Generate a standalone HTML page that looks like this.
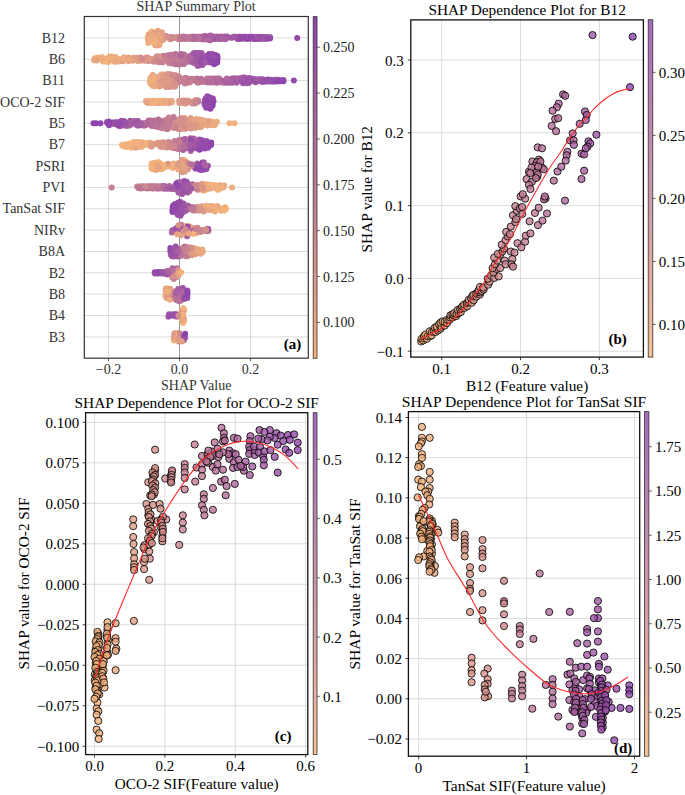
<!DOCTYPE html><html><head><meta charset="utf-8"><style>html,body{margin:0;padding:0;background:#fff;overflow:hidden}svg{display:block}text{font-family:"Liberation Serif",serif}</style></head><body>
<svg width="685" height="795" viewBox="0 0 685 795">
<rect width="685" height="795" fill="#fff"/>
<line x1="108.5" y1="16.5" x2="108.5" y2="358.2" stroke="#d2d2d2" stroke-width="0.8"/>
<line x1="179.5" y1="16.5" x2="179.5" y2="358.2" stroke="#d2d2d2" stroke-width="0.8"/>
<line x1="250.5" y1="16.5" x2="250.5" y2="358.2" stroke="#d2d2d2" stroke-width="0.8"/>
<line x1="84.3" y1="37.86" x2="308.3" y2="37.86" stroke="#d2d2d2" stroke-width="0.8"/>
<line x1="84.3" y1="59.22" x2="308.3" y2="59.22" stroke="#d2d2d2" stroke-width="0.8"/>
<line x1="84.3" y1="80.58" x2="308.3" y2="80.58" stroke="#d2d2d2" stroke-width="0.8"/>
<line x1="84.3" y1="101.94" x2="308.3" y2="101.94" stroke="#d2d2d2" stroke-width="0.8"/>
<line x1="84.3" y1="123.3" x2="308.3" y2="123.3" stroke="#d2d2d2" stroke-width="0.8"/>
<line x1="84.3" y1="144.66" x2="308.3" y2="144.66" stroke="#d2d2d2" stroke-width="0.8"/>
<line x1="84.3" y1="166.02" x2="308.3" y2="166.02" stroke="#d2d2d2" stroke-width="0.8"/>
<line x1="84.3" y1="187.38" x2="308.3" y2="187.38" stroke="#d2d2d2" stroke-width="0.8"/>
<line x1="84.3" y1="208.74" x2="308.3" y2="208.74" stroke="#d2d2d2" stroke-width="0.8"/>
<line x1="84.3" y1="230.1" x2="308.3" y2="230.1" stroke="#d2d2d2" stroke-width="0.8"/>
<line x1="84.3" y1="251.46" x2="308.3" y2="251.46" stroke="#d2d2d2" stroke-width="0.8"/>
<line x1="84.3" y1="272.82" x2="308.3" y2="272.82" stroke="#d2d2d2" stroke-width="0.8"/>
<line x1="84.3" y1="294.18" x2="308.3" y2="294.18" stroke="#d2d2d2" stroke-width="0.8"/>
<line x1="84.3" y1="315.54" x2="308.3" y2="315.54" stroke="#d2d2d2" stroke-width="0.8"/>
<line x1="84.3" y1="336.9" x2="308.3" y2="336.9" stroke="#d2d2d2" stroke-width="0.8"/>
<line x1="179.5" y1="16.5" x2="179.5" y2="358.2" stroke="#999" stroke-width="1.0"/>
<g id="beeswarm">
<circle cx="199.1" cy="36.7" r="3" fill="#b36d9b"/>
<circle cx="151.7" cy="31.6" r="3" fill="#f3b27b"/>
<circle cx="235.4" cy="37.5" r="3" fill="#9a51a7"/>
<circle cx="158.3" cy="40.1" r="3" fill="#e8a680"/>
<circle cx="216.7" cy="36.9" r="3" fill="#a35ba3"/>
<circle cx="238.7" cy="39.0" r="3" fill="#a159a3"/>
<circle cx="253.2" cy="36.8" r="3" fill="#9d54a6"/>
<circle cx="265.4" cy="38.7" r="3" fill="#9c53a6"/>
<circle cx="263.4" cy="36.9" r="3" fill="#9349ab"/>
<circle cx="150.2" cy="39.4" r="3" fill="#f3b27b"/>
<circle cx="254.0" cy="38.9" r="3" fill="#9b52a7"/>
<circle cx="232.3" cy="37.5" r="3" fill="#974ea9"/>
<circle cx="190.9" cy="38.9" r="3" fill="#b77099"/>
<circle cx="157.7" cy="30.7" r="3" fill="#e7a581"/>
<circle cx="234.2" cy="36.4" r="3" fill="#a760a0"/>
<circle cx="178.7" cy="36.9" r="3" fill="#c58092"/>
<circle cx="204.7" cy="37.6" r="3" fill="#b26b9b"/>
<circle cx="204.0" cy="39.5" r="3" fill="#b16a9c"/>
<circle cx="147.9" cy="36.7" r="3" fill="#eba97f"/>
<circle cx="231.1" cy="37.7" r="3" fill="#a057a4"/>
<circle cx="224.9" cy="36.6" r="3" fill="#aa629f"/>
<circle cx="156.9" cy="32.7" r="3" fill="#eba97f"/>
<circle cx="242.7" cy="38.8" r="3" fill="#9f57a5"/>
<circle cx="222.1" cy="36.8" r="3" fill="#a35ba2"/>
<circle cx="212.1" cy="37.7" r="3" fill="#a55da2"/>
<circle cx="220.5" cy="39.1" r="3" fill="#a45ca2"/>
<circle cx="158.7" cy="37.6" r="3" fill="#efae7d"/>
<circle cx="178.4" cy="37.8" r="3" fill="#c78291"/>
<circle cx="158.9" cy="33.0" r="3" fill="#df9c85"/>
<circle cx="152.9" cy="40.2" r="3" fill="#f0af7c"/>
<circle cx="270.0" cy="38.6" r="3" fill="#944baa"/>
<circle cx="262.7" cy="37.2" r="3" fill="#a057a4"/>
<circle cx="225.7" cy="39.0" r="3" fill="#a55da2"/>
<circle cx="200.5" cy="36.7" r="3" fill="#b46e9a"/>
<circle cx="159.0" cy="42.6" r="3" fill="#f3b27b"/>
<circle cx="197.5" cy="38.7" r="3" fill="#b36d9b"/>
<circle cx="245.2" cy="36.7" r="3" fill="#964da9"/>
<circle cx="213.5" cy="36.6" r="3" fill="#aa629f"/>
<circle cx="270.1" cy="37.3" r="3" fill="#9349ab"/>
<circle cx="175.5" cy="37.8" r="3" fill="#ca858f"/>
<circle cx="203.2" cy="38.0" r="3" fill="#b56f9a"/>
<circle cx="151.4" cy="33.7" r="3" fill="#eeac7e"/>
<circle cx="237.8" cy="39.1" r="3" fill="#974ea8"/>
<circle cx="201.7" cy="37.7" r="3" fill="#b26b9b"/>
<circle cx="155.7" cy="37.9" r="3" fill="#f3b27b"/>
<circle cx="249.5" cy="38.7" r="3" fill="#974ea8"/>
<circle cx="173.5" cy="37.7" r="3" fill="#d28e8b"/>
<circle cx="215.5" cy="38.8" r="3" fill="#a058a4"/>
<circle cx="227.7" cy="37.6" r="3" fill="#a058a4"/>
<circle cx="156.3" cy="37.6" r="3" fill="#eaa880"/>
<circle cx="181.7" cy="39.1" r="3" fill="#bc7696"/>
<circle cx="148.2" cy="43.0" r="3" fill="#f3b27b"/>
<circle cx="156.5" cy="35.3" r="3" fill="#eba97f"/>
<circle cx="246.1" cy="38.8" r="3" fill="#954baa"/>
<circle cx="195.6" cy="36.7" r="3" fill="#c07b94"/>
<circle cx="169.1" cy="37.8" r="3" fill="#d69389"/>
<circle cx="207.9" cy="39.7" r="3" fill="#b56f9a"/>
<circle cx="167.7" cy="37.6" r="3" fill="#d79489"/>
<circle cx="153.4" cy="37.7" r="3" fill="#eeac7e"/>
<circle cx="240.4" cy="36.7" r="3" fill="#9349ab"/>
<circle cx="150.5" cy="36.3" r="3" fill="#eba97f"/>
<circle cx="237.5" cy="36.7" r="3" fill="#a057a4"/>
<circle cx="192.7" cy="39.0" r="3" fill="#b06a9c"/>
<circle cx="165.2" cy="37.5" r="3" fill="#d99588"/>
<circle cx="163.2" cy="39.7" r="3" fill="#dc9986"/>
<circle cx="209.4" cy="38.2" r="3" fill="#ad669e"/>
<circle cx="165.4" cy="35.9" r="3" fill="#db9887"/>
<circle cx="239.6" cy="36.7" r="3" fill="#9c54a6"/>
<circle cx="163.6" cy="38.2" r="3" fill="#dd9a86"/>
<circle cx="170.2" cy="39.2" r="3" fill="#d4918a"/>
<circle cx="166.7" cy="36.3" r="3" fill="#cf8b8d"/>
<circle cx="176.8" cy="36.9" r="3" fill="#d69389"/>
<circle cx="213.8" cy="39.1" r="3" fill="#9d54a6"/>
<circle cx="161.0" cy="41.0" r="3" fill="#e5a382"/>
<circle cx="171.0" cy="39.1" r="3" fill="#d4908b"/>
<circle cx="223.0" cy="38.8" r="3" fill="#aa639f"/>
<circle cx="203.3" cy="36.3" r="3" fill="#b36c9b"/>
<circle cx="149.0" cy="34.3" r="3" fill="#e8a680"/>
<circle cx="155.3" cy="45.2" r="3" fill="#e4a282"/>
<circle cx="258.2" cy="37.0" r="3" fill="#8e44ad"/>
<circle cx="264.8" cy="38.5" r="3" fill="#9349ab"/>
<circle cx="255.2" cy="38.9" r="3" fill="#944baa"/>
<circle cx="185.0" cy="38.9" r="3" fill="#c68191"/>
<circle cx="158.6" cy="35.2" r="3" fill="#f1b07c"/>
<circle cx="211.2" cy="36.0" r="3" fill="#a75fa1"/>
<circle cx="153.3" cy="42.8" r="3" fill="#f0af7d"/>
<circle cx="161.1" cy="34.7" r="3" fill="#efae7d"/>
<circle cx="260.6" cy="38.8" r="3" fill="#9248ab"/>
<circle cx="201.7" cy="39.2" r="3" fill="#ac659e"/>
<circle cx="260.6" cy="37.1" r="3" fill="#9349ab"/>
<circle cx="154.2" cy="35.4" r="3" fill="#f0ae7d"/>
<circle cx="170.4" cy="36.9" r="3" fill="#d4908a"/>
<circle cx="159.4" cy="45.1" r="3" fill="#eeac7e"/>
<circle cx="189.3" cy="39.1" r="3" fill="#bf7995"/>
<circle cx="155.4" cy="40.2" r="3" fill="#f1b07c"/>
<circle cx="266.5" cy="37.0" r="3" fill="#9b53a6"/>
<circle cx="196.1" cy="36.7" r="3" fill="#b77199"/>
<circle cx="227.2" cy="36.6" r="3" fill="#a058a4"/>
<circle cx="220.9" cy="36.6" r="3" fill="#a9629f"/>
<circle cx="156.3" cy="43.2" r="3" fill="#f0af7c"/>
<circle cx="172.4" cy="36.9" r="3" fill="#cd888e"/>
<circle cx="258.1" cy="38.9" r="3" fill="#944baa"/>
<circle cx="178.6" cy="39.2" r="3" fill="#ca858f"/>
<circle cx="186.8" cy="37.0" r="3" fill="#c37d93"/>
<circle cx="225.0" cy="38.8" r="3" fill="#a760a0"/>
<circle cx="150.9" cy="41.5" r="3" fill="#f1b07c"/>
<circle cx="180.2" cy="36.8" r="3" fill="#c17c94"/>
<circle cx="268.8" cy="37.3" r="3" fill="#9c54a6"/>
<circle cx="147.9" cy="38.9" r="3" fill="#f0ae7d"/>
<circle cx="182.1" cy="36.9" r="3" fill="#cd898e"/>
<circle cx="153.2" cy="33.0" r="3" fill="#f0af7c"/>
<circle cx="162.5" cy="35.8" r="3" fill="#df9c85"/>
<circle cx="250.7" cy="38.6" r="3" fill="#954ca9"/>
<circle cx="192.7" cy="36.6" r="3" fill="#b16a9c"/>
<circle cx="256.5" cy="37.0" r="3" fill="#9b52a7"/>
<circle cx="218.7" cy="39.0" r="3" fill="#a65ea1"/>
<circle cx="297.2" cy="37.9" r="3" fill="#934aaa"/>
<circle cx="243.8" cy="36.7" r="3" fill="#944baa"/>
<circle cx="180.7" cy="39.0" r="3" fill="#bd7896"/>
<circle cx="160.6" cy="36.7" r="3" fill="#e6a481"/>
<circle cx="188.9" cy="37.0" r="3" fill="#c88490"/>
<circle cx="210.2" cy="40.2" r="3" fill="#aa629f"/>
<circle cx="262.4" cy="38.8" r="3" fill="#9c53a6"/>
<circle cx="183.8" cy="36.6" r="3" fill="#ba7397"/>
<circle cx="206.7" cy="37.7" r="3" fill="#b26b9b"/>
<circle cx="157.8" cy="45.4" r="3" fill="#e8a680"/>
<circle cx="210.3" cy="35.5" r="3" fill="#a961a0"/>
<circle cx="156.9" cy="40.2" r="3" fill="#edab7e"/>
<circle cx="190.2" cy="36.9" r="3" fill="#bb7597"/>
<circle cx="249.3" cy="36.8" r="3" fill="#9e56a5"/>
<circle cx="154.4" cy="33.1" r="3" fill="#de9b86"/>
<circle cx="247.1" cy="38.8" r="3" fill="#8e44ad"/>
<circle cx="148.6" cy="40.8" r="3" fill="#edab7e"/>
<circle cx="162.0" cy="32.2" r="3" fill="#e3a183"/>
<circle cx="199.1" cy="38.9" r="3" fill="#b97298"/>
<circle cx="185.6" cy="38.8" r="3" fill="#ba7497"/>
<circle cx="205.5" cy="36.0" r="3" fill="#a65ea1"/>
<circle cx="160.8" cy="38.6" r="3" fill="#e6a481"/>
<circle cx="267.6" cy="38.7" r="3" fill="#964da9"/>
<circle cx="172.4" cy="38.1" r="3" fill="#d08c8c"/>
<circle cx="152.8" cy="35.6" r="3" fill="#eba97f"/>
<circle cx="195.0" cy="39.1" r="3" fill="#b16a9c"/>
<circle cx="247.5" cy="37.1" r="3" fill="#984fa8"/>
<circle cx="155.6" cy="42.8" r="3" fill="#efae7d"/>
<circle cx="217.3" cy="36.6" r="3" fill="#a55da1"/>
<circle cx="251.2" cy="36.8" r="3" fill="#944aaa"/>
<circle cx="240.5" cy="38.8" r="3" fill="#964da9"/>
<circle cx="207.8" cy="55.8" r="3" fill="#934aaa"/>
<circle cx="217.2" cy="62.5" r="3" fill="#8e44ad"/>
<circle cx="168.9" cy="63.3" r="3" fill="#cc878e"/>
<circle cx="171.9" cy="61.8" r="3" fill="#c07a94"/>
<circle cx="193.2" cy="53.8" r="3" fill="#a65ea1"/>
<circle cx="162.8" cy="55.9" r="3" fill="#c58092"/>
<circle cx="137.3" cy="57.8" r="3" fill="#df9c85"/>
<circle cx="104.0" cy="59.0" r="3" fill="#f3b27b"/>
<circle cx="141.0" cy="60.8" r="3" fill="#de9c85"/>
<circle cx="167.0" cy="59.4" r="3" fill="#ba7497"/>
<circle cx="109.3" cy="56.8" r="3" fill="#eba97f"/>
<circle cx="196.2" cy="59.0" r="3" fill="#a25aa3"/>
<circle cx="196.8" cy="57.2" r="3" fill="#a860a0"/>
<circle cx="107.0" cy="58.8" r="3" fill="#eaa97f"/>
<circle cx="197.4" cy="65.7" r="3" fill="#a65ea1"/>
<circle cx="193.4" cy="62.4" r="3" fill="#ac649e"/>
<circle cx="97.6" cy="57.4" r="3" fill="#f0af7c"/>
<circle cx="156.7" cy="56.6" r="3" fill="#cb868f"/>
<circle cx="148.2" cy="61.0" r="3" fill="#ca8590"/>
<circle cx="158.5" cy="57.9" r="3" fill="#c58092"/>
<circle cx="133.9" cy="58.9" r="3" fill="#ecaa7f"/>
<circle cx="192.6" cy="60.5" r="3" fill="#a159a4"/>
<circle cx="101.0" cy="59.3" r="3" fill="#f1b07c"/>
<circle cx="188.0" cy="61.4" r="3" fill="#af689c"/>
<circle cx="166.2" cy="60.3" r="3" fill="#c47f92"/>
<circle cx="146.3" cy="59.1" r="3" fill="#d89488"/>
<circle cx="161.0" cy="60.1" r="3" fill="#c78391"/>
<circle cx="205.9" cy="58.2" r="3" fill="#9d54a6"/>
<circle cx="209.0" cy="57.8" r="3" fill="#9950a7"/>
<circle cx="180.1" cy="64.2" r="3" fill="#bc7696"/>
<circle cx="158.9" cy="60.6" r="3" fill="#cd888e"/>
<circle cx="217.3" cy="55.9" r="3" fill="#8e44ad"/>
<circle cx="199.3" cy="52.9" r="3" fill="#9d54a6"/>
<circle cx="186.7" cy="61.7" r="3" fill="#bd7796"/>
<circle cx="211.1" cy="55.9" r="3" fill="#8e44ad"/>
<circle cx="154.7" cy="59.3" r="3" fill="#c98490"/>
<circle cx="216.2" cy="57.2" r="3" fill="#8e44ad"/>
<circle cx="199.3" cy="63.6" r="3" fill="#954ca9"/>
<circle cx="179.8" cy="59.9" r="3" fill="#c58092"/>
<circle cx="197.3" cy="52.9" r="3" fill="#9e56a5"/>
<circle cx="203.4" cy="57.7" r="3" fill="#a45ca2"/>
<circle cx="131.5" cy="59.0" r="3" fill="#e2a083"/>
<circle cx="189.2" cy="59.2" r="3" fill="#b26c9b"/>
<circle cx="201.5" cy="53.1" r="3" fill="#a55da2"/>
<circle cx="191.4" cy="62.1" r="3" fill="#ab649e"/>
<circle cx="110.4" cy="59.8" r="3" fill="#f3b27b"/>
<circle cx="110.4" cy="58.4" r="3" fill="#e2a083"/>
<circle cx="190.6" cy="60.4" r="3" fill="#ad669e"/>
<circle cx="178.6" cy="64.5" r="3" fill="#bc7696"/>
<circle cx="112.4" cy="60.0" r="3" fill="#eeac7e"/>
<circle cx="108.6" cy="61.9" r="3" fill="#f1b07c"/>
<circle cx="173.6" cy="56.8" r="3" fill="#ba7497"/>
<circle cx="194.2" cy="58.3" r="3" fill="#a35ba2"/>
<circle cx="170.3" cy="57.3" r="3" fill="#c27d93"/>
<circle cx="94.9" cy="58.2" r="3" fill="#f1b07c"/>
<circle cx="121.0" cy="59.6" r="3" fill="#e9a780"/>
<circle cx="105.2" cy="61.6" r="3" fill="#ecab7e"/>
<circle cx="184.0" cy="54.6" r="3" fill="#b16a9c"/>
<circle cx="181.6" cy="56.3" r="3" fill="#b77199"/>
<circle cx="169.0" cy="55.2" r="3" fill="#bc7796"/>
<circle cx="182.7" cy="61.5" r="3" fill="#c17b94"/>
<circle cx="215.7" cy="61.1" r="3" fill="#984fa8"/>
<circle cx="210.0" cy="62.4" r="3" fill="#964da9"/>
<circle cx="126.4" cy="59.0" r="3" fill="#e8a681"/>
<circle cx="119.2" cy="61.4" r="3" fill="#eead7d"/>
<circle cx="172.6" cy="57.4" r="3" fill="#c37d93"/>
<circle cx="207.2" cy="62.1" r="3" fill="#a058a4"/>
<circle cx="198.1" cy="55.3" r="3" fill="#a159a4"/>
<circle cx="217.6" cy="57.9" r="3" fill="#934aaa"/>
<circle cx="177.9" cy="55.5" r="3" fill="#ba7497"/>
<circle cx="207.6" cy="60.6" r="3" fill="#9a51a7"/>
<circle cx="171.5" cy="59.6" r="3" fill="#c17b94"/>
<circle cx="111.3" cy="56.5" r="3" fill="#ecab7e"/>
<circle cx="194.9" cy="55.2" r="3" fill="#a25aa3"/>
<circle cx="212.8" cy="58.5" r="3" fill="#9249ab"/>
<circle cx="153.1" cy="61.4" r="3" fill="#cb868f"/>
<circle cx="115.0" cy="59.5" r="3" fill="#ecaa7e"/>
<circle cx="211.6" cy="58.3" r="3" fill="#8f46ac"/>
<circle cx="109.0" cy="60.1" r="3" fill="#e7a581"/>
<circle cx="113.0" cy="58.4" r="3" fill="#f3b27b"/>
<circle cx="192.4" cy="58.1" r="3" fill="#a860a0"/>
<circle cx="153.1" cy="59.3" r="3" fill="#d79489"/>
<circle cx="179.5" cy="58.5" r="3" fill="#b77099"/>
<circle cx="179.5" cy="62.6" r="3" fill="#b67099"/>
<circle cx="158.7" cy="56.2" r="3" fill="#d4918a"/>
<circle cx="176.0" cy="56.0" r="3" fill="#c47f92"/>
<circle cx="217.3" cy="60.2" r="3" fill="#9147ac"/>
<circle cx="119.1" cy="59.1" r="3" fill="#edab7e"/>
<circle cx="106.4" cy="61.4" r="3" fill="#f2b17b"/>
<circle cx="122.8" cy="61.3" r="3" fill="#e4a282"/>
<circle cx="163.0" cy="57.7" r="3" fill="#c98590"/>
<circle cx="185.2" cy="58.9" r="3" fill="#b97298"/>
<circle cx="169.8" cy="58.9" r="3" fill="#c78291"/>
<circle cx="190.3" cy="55.8" r="3" fill="#ac659e"/>
<circle cx="198.7" cy="61.6" r="3" fill="#9f57a4"/>
<circle cx="173.3" cy="58.9" r="3" fill="#c17b94"/>
<circle cx="146.2" cy="57.6" r="3" fill="#e29f84"/>
<circle cx="192.3" cy="55.7" r="3" fill="#a159a4"/>
<circle cx="205.9" cy="56.1" r="3" fill="#984ea8"/>
<circle cx="194.2" cy="63.1" r="3" fill="#a75fa1"/>
<circle cx="195.1" cy="60.5" r="3" fill="#9f56a5"/>
<circle cx="139.8" cy="59.1" r="3" fill="#d69389"/>
<circle cx="128.3" cy="59.5" r="3" fill="#e7a481"/>
<circle cx="122.8" cy="59.2" r="3" fill="#e9a780"/>
<circle cx="102.1" cy="57.0" r="3" fill="#f3b27b"/>
<circle cx="184.0" cy="63.9" r="3" fill="#b56e9a"/>
<circle cx="137.7" cy="59.6" r="3" fill="#e09d84"/>
<circle cx="165.8" cy="57.7" r="3" fill="#ca858f"/>
<circle cx="171.5" cy="63.4" r="3" fill="#c47e92"/>
<circle cx="108.1" cy="58.0" r="3" fill="#efae7d"/>
<circle cx="173.9" cy="61.3" r="3" fill="#ca858f"/>
<circle cx="186.0" cy="59.5" r="3" fill="#bb7597"/>
<circle cx="215.5" cy="55.0" r="3" fill="#8e44ad"/>
<circle cx="115.3" cy="57.1" r="3" fill="#edab7e"/>
<circle cx="169.2" cy="61.0" r="3" fill="#bf7995"/>
<circle cx="117.4" cy="59.2" r="3" fill="#efae7d"/>
<circle cx="210.4" cy="60.5" r="3" fill="#9147ac"/>
<circle cx="173.2" cy="54.7" r="3" fill="#be7895"/>
<circle cx="208.8" cy="56.3" r="3" fill="#954ca9"/>
<circle cx="135.2" cy="59.5" r="3" fill="#da9787"/>
<circle cx="198.7" cy="59.4" r="3" fill="#ac659e"/>
<circle cx="140.6" cy="57.6" r="3" fill="#d28e8b"/>
<circle cx="177.2" cy="58.1" r="3" fill="#bd7796"/>
<circle cx="175.8" cy="58.1" r="3" fill="#ba7497"/>
<circle cx="167.0" cy="57.2" r="3" fill="#d18d8c"/>
<circle cx="194.3" cy="53.1" r="3" fill="#9d55a5"/>
<circle cx="204.8" cy="62.8" r="3" fill="#9c53a6"/>
<circle cx="185.0" cy="56.9" r="3" fill="#ba7497"/>
<circle cx="215.2" cy="63.3" r="3" fill="#944baa"/>
<circle cx="203.8" cy="60.3" r="3" fill="#974ea8"/>
<circle cx="204.6" cy="60.0" r="3" fill="#9d54a6"/>
<circle cx="171.0" cy="54.8" r="3" fill="#c07b94"/>
<circle cx="144.4" cy="59.2" r="3" fill="#de9b86"/>
<circle cx="133.8" cy="57.7" r="3" fill="#df9c85"/>
<circle cx="147.8" cy="57.4" r="3" fill="#d89588"/>
<circle cx="200.2" cy="60.2" r="3" fill="#954caa"/>
<circle cx="103.1" cy="61.5" r="3" fill="#f1b07c"/>
<circle cx="213.7" cy="60.6" r="3" fill="#8f46ac"/>
<circle cx="185.6" cy="57.0" r="3" fill="#b87198"/>
<circle cx="212.1" cy="62.5" r="3" fill="#984fa8"/>
<circle cx="95.5" cy="59.0" r="3" fill="#eead7d"/>
<circle cx="168.1" cy="61.1" r="3" fill="#c47f92"/>
<circle cx="200.8" cy="55.6" r="3" fill="#9c54a6"/>
<circle cx="190.8" cy="58.0" r="3" fill="#ae679d"/>
<circle cx="175.9" cy="64.2" r="3" fill="#bb7597"/>
<circle cx="207.1" cy="58.0" r="3" fill="#9249ab"/>
<circle cx="198.9" cy="65.6" r="3" fill="#9c53a6"/>
<circle cx="183.9" cy="61.8" r="3" fill="#b97398"/>
<circle cx="177.2" cy="62.6" r="3" fill="#c07b94"/>
<circle cx="157.9" cy="58.2" r="3" fill="#d18d8c"/>
<circle cx="132.6" cy="60.8" r="3" fill="#e4a282"/>
<circle cx="212.2" cy="54.0" r="3" fill="#964ca9"/>
<circle cx="202.5" cy="65.0" r="3" fill="#9b52a6"/>
<circle cx="203.4" cy="55.9" r="3" fill="#9f56a5"/>
<circle cx="114.7" cy="61.7" r="3" fill="#e9a780"/>
<circle cx="157.0" cy="61.6" r="3" fill="#ca8590"/>
<circle cx="167.3" cy="55.4" r="3" fill="#b97398"/>
<circle cx="203.9" cy="62.4" r="3" fill="#a65ea1"/>
<circle cx="181.8" cy="54.2" r="3" fill="#bc7696"/>
<circle cx="124.2" cy="57.2" r="3" fill="#edab7e"/>
<circle cx="137.8" cy="60.9" r="3" fill="#e2a083"/>
<circle cx="214.4" cy="62.2" r="3" fill="#9349ab"/>
<circle cx="197.3" cy="61.3" r="3" fill="#a159a4"/>
<circle cx="150.7" cy="58.9" r="3" fill="#d5928a"/>
<circle cx="178.5" cy="60.5" r="3" fill="#bd7796"/>
<circle cx="197.5" cy="63.8" r="3" fill="#a35ba2"/>
<circle cx="197.5" cy="54.4" r="3" fill="#a35aa3"/>
<circle cx="180.7" cy="54.1" r="3" fill="#b46e9a"/>
<circle cx="154.4" cy="61.4" r="3" fill="#d08c8c"/>
<circle cx="94.1" cy="60.2" r="3" fill="#eaa880"/>
<circle cx="176.4" cy="62.6" r="3" fill="#bd7796"/>
<circle cx="198.5" cy="56.9" r="3" fill="#a158a4"/>
<circle cx="157.3" cy="60.4" r="3" fill="#ce898d"/>
<circle cx="128.4" cy="61.2" r="3" fill="#e9a880"/>
<circle cx="97.5" cy="59.1" r="3" fill="#efae7d"/>
<circle cx="212.1" cy="59.9" r="3" fill="#9047ac"/>
<circle cx="162.8" cy="60.2" r="3" fill="#cb868f"/>
<circle cx="201.8" cy="57.7" r="3" fill="#974ea8"/>
<circle cx="187.9" cy="56.4" r="3" fill="#b36c9b"/>
<circle cx="148.7" cy="58.8" r="3" fill="#dd9a86"/>
<circle cx="209.0" cy="53.9" r="3" fill="#934aaa"/>
<circle cx="215.7" cy="59.0" r="3" fill="#9147ac"/>
<circle cx="176.1" cy="59.9" r="3" fill="#c17c94"/>
<circle cx="96.8" cy="60.5" r="3" fill="#e6a481"/>
<circle cx="102.0" cy="58.9" r="3" fill="#eeac7e"/>
<circle cx="183.0" cy="58.9" r="3" fill="#bc7696"/>
<circle cx="175.6" cy="54.1" r="3" fill="#b97398"/>
<circle cx="144.9" cy="60.7" r="3" fill="#db9887"/>
<circle cx="161.4" cy="58.2" r="3" fill="#d6928a"/>
<circle cx="214.2" cy="64.3" r="3" fill="#8e44ad"/>
<circle cx="200.5" cy="62.7" r="3" fill="#974ea9"/>
<circle cx="116.6" cy="61.5" r="3" fill="#eaa87f"/>
<circle cx="142.3" cy="59.0" r="3" fill="#d08c8c"/>
<circle cx="158.7" cy="62.2" r="3" fill="#c98590"/>
<circle cx="180.9" cy="56.0" r="3" fill="#ac659e"/>
<circle cx="162.5" cy="62.6" r="3" fill="#c47f92"/>
<circle cx="213.0" cy="56.5" r="3" fill="#974da9"/>
<circle cx="164.7" cy="55.7" r="3" fill="#c37e93"/>
<circle cx="128.9" cy="57.5" r="3" fill="#e4a282"/>
<circle cx="129.5" cy="59.4" r="3" fill="#eaa87f"/>
<circle cx="174.4" cy="63.7" r="3" fill="#ba7497"/>
<circle cx="177.2" cy="78.4" r="3" fill="#cb868f"/>
<circle cx="154.5" cy="84.4" r="3" fill="#eead7d"/>
<circle cx="229.6" cy="82.5" r="3" fill="#ae679d"/>
<circle cx="190.9" cy="80.2" r="3" fill="#c27d93"/>
<circle cx="163.7" cy="84.1" r="3" fill="#eaa87f"/>
<circle cx="175.2" cy="86.3" r="3" fill="#d89588"/>
<circle cx="171.2" cy="76.6" r="3" fill="#d69289"/>
<circle cx="276.7" cy="79.8" r="3" fill="#9c53a6"/>
<circle cx="161.5" cy="79.3" r="3" fill="#db9887"/>
<circle cx="260.2" cy="79.2" r="3" fill="#9d54a6"/>
<circle cx="234.0" cy="80.5" r="3" fill="#ab639f"/>
<circle cx="247.2" cy="81.6" r="3" fill="#9e56a5"/>
<circle cx="183.4" cy="81.3" r="3" fill="#bf7a95"/>
<circle cx="255.2" cy="80.4" r="3" fill="#9b52a6"/>
<circle cx="156.8" cy="79.3" r="3" fill="#dd9a86"/>
<circle cx="167.7" cy="78.7" r="3" fill="#e3a083"/>
<circle cx="236.6" cy="82.8" r="3" fill="#aa639f"/>
<circle cx="224.1" cy="82.7" r="3" fill="#b97298"/>
<circle cx="243.0" cy="77.6" r="3" fill="#9950a8"/>
<circle cx="219.6" cy="80.8" r="3" fill="#af689d"/>
<circle cx="175.2" cy="75.1" r="3" fill="#cd898e"/>
<circle cx="197.1" cy="78.6" r="3" fill="#ba7497"/>
<circle cx="154.6" cy="86.2" r="3" fill="#e7a581"/>
<circle cx="177.6" cy="80.7" r="3" fill="#c98490"/>
<circle cx="248.9" cy="78.1" r="3" fill="#9b52a7"/>
<circle cx="176.5" cy="77.3" r="3" fill="#ce8a8d"/>
<circle cx="195.9" cy="80.3" r="3" fill="#ba7497"/>
<circle cx="197.4" cy="82.5" r="3" fill="#bf7995"/>
<circle cx="261.7" cy="81.8" r="3" fill="#9a51a7"/>
<circle cx="184.9" cy="83.5" r="3" fill="#c37e93"/>
<circle cx="177.6" cy="82.9" r="3" fill="#cf8a8d"/>
<circle cx="185.8" cy="80.1" r="3" fill="#c27d93"/>
<circle cx="152.8" cy="85.9" r="3" fill="#eead7d"/>
<circle cx="179.9" cy="81.6" r="3" fill="#c37e93"/>
<circle cx="248.9" cy="82.7" r="3" fill="#9950a8"/>
<circle cx="156.8" cy="81.6" r="3" fill="#df9c85"/>
<circle cx="177.8" cy="76.0" r="3" fill="#d18d8c"/>
<circle cx="168.8" cy="76.4" r="3" fill="#d4908a"/>
<circle cx="212.9" cy="78.5" r="3" fill="#b77199"/>
<circle cx="266.6" cy="79.7" r="3" fill="#9c53a6"/>
<circle cx="172.8" cy="79.6" r="3" fill="#d69389"/>
<circle cx="163.2" cy="74.5" r="3" fill="#e09d84"/>
<circle cx="213.9" cy="80.8" r="3" fill="#b46e9a"/>
<circle cx="186.4" cy="77.9" r="3" fill="#c68191"/>
<circle cx="225.7" cy="80.3" r="3" fill="#ab649f"/>
<circle cx="186.5" cy="81.5" r="3" fill="#bc7696"/>
<circle cx="175.3" cy="81.5" r="3" fill="#cf8a8d"/>
<circle cx="241.1" cy="81.1" r="3" fill="#a861a0"/>
<circle cx="174.2" cy="82.1" r="3" fill="#cd898e"/>
<circle cx="214.8" cy="82.4" r="3" fill="#bd7796"/>
<circle cx="221.2" cy="80.6" r="3" fill="#b36c9b"/>
<circle cx="173.5" cy="76.7" r="3" fill="#da9688"/>
<circle cx="172.4" cy="78.5" r="3" fill="#d18d8c"/>
<circle cx="209.7" cy="78.6" r="3" fill="#b56e9a"/>
<circle cx="215.8" cy="80.3" r="3" fill="#b67099"/>
<circle cx="175.6" cy="79.6" r="3" fill="#c88390"/>
<circle cx="232.8" cy="80.6" r="3" fill="#a55da2"/>
<circle cx="215.2" cy="78.5" r="3" fill="#b26b9b"/>
<circle cx="218.3" cy="80.4" r="3" fill="#b0699c"/>
<circle cx="272.8" cy="81.4" r="3" fill="#984fa8"/>
<circle cx="219.8" cy="82.3" r="3" fill="#ae669d"/>
<circle cx="201.1" cy="78.8" r="3" fill="#b97398"/>
<circle cx="189.1" cy="80.3" r="3" fill="#c47f92"/>
<circle cx="159.4" cy="86.6" r="3" fill="#df9c85"/>
<circle cx="268.2" cy="79.6" r="3" fill="#984fa8"/>
<circle cx="234.3" cy="78.2" r="3" fill="#a057a4"/>
<circle cx="218.1" cy="78.5" r="3" fill="#aa639f"/>
<circle cx="191.0" cy="78.7" r="3" fill="#bc7696"/>
<circle cx="155.4" cy="79.4" r="3" fill="#e09d84"/>
<circle cx="280.4" cy="81.3" r="3" fill="#9148ab"/>
<circle cx="205.8" cy="82.1" r="3" fill="#ba7497"/>
<circle cx="174.2" cy="84.1" r="3" fill="#d79389"/>
<circle cx="169.6" cy="85.0" r="3" fill="#dc9986"/>
<circle cx="165.9" cy="86.7" r="3" fill="#dd9a86"/>
<circle cx="169.9" cy="87.1" r="3" fill="#d5928a"/>
<circle cx="191.8" cy="80.8" r="3" fill="#b97398"/>
<circle cx="201.3" cy="80.2" r="3" fill="#b87298"/>
<circle cx="238.8" cy="79.6" r="3" fill="#a058a4"/>
<circle cx="194.6" cy="80.3" r="3" fill="#bc7696"/>
<circle cx="267.8" cy="81.6" r="3" fill="#974ea8"/>
<circle cx="174.3" cy="86.8" r="3" fill="#d38f8b"/>
<circle cx="162.3" cy="81.9" r="3" fill="#e19e84"/>
<circle cx="249.0" cy="80.6" r="3" fill="#974ea8"/>
<circle cx="270.8" cy="80.0" r="3" fill="#9349ab"/>
<circle cx="164.5" cy="85.0" r="3" fill="#dd9a86"/>
<circle cx="172.1" cy="85.1" r="3" fill="#db9887"/>
<circle cx="255.5" cy="82.2" r="3" fill="#9e56a5"/>
<circle cx="237.1" cy="81.0" r="3" fill="#9e55a5"/>
<circle cx="159.7" cy="84.0" r="3" fill="#e4a282"/>
<circle cx="280.7" cy="80.3" r="3" fill="#9b52a7"/>
<circle cx="159.6" cy="79.6" r="3" fill="#e6a481"/>
<circle cx="242.9" cy="79.4" r="3" fill="#a25aa3"/>
<circle cx="203.6" cy="80.4" r="3" fill="#b56e9a"/>
<circle cx="243.7" cy="81.5" r="3" fill="#a058a4"/>
<circle cx="219.2" cy="78.5" r="3" fill="#b56e9a"/>
<circle cx="207.0" cy="80.3" r="3" fill="#b46e9a"/>
<circle cx="204.8" cy="80.6" r="3" fill="#b77199"/>
<circle cx="171.4" cy="80.4" r="3" fill="#db9887"/>
<circle cx="151.7" cy="77.5" r="3" fill="#e7a481"/>
<circle cx="198.1" cy="80.5" r="3" fill="#b36d9b"/>
<circle cx="211.3" cy="82.4" r="3" fill="#b36c9b"/>
<circle cx="238.6" cy="81.1" r="3" fill="#a55da2"/>
<circle cx="283.4" cy="80.0" r="3" fill="#9148ab"/>
<circle cx="152.9" cy="79.5" r="3" fill="#eead7d"/>
<circle cx="253.3" cy="80.5" r="3" fill="#9950a7"/>
<circle cx="169.3" cy="80.6" r="3" fill="#d99688"/>
<circle cx="184.7" cy="77.9" r="3" fill="#c27c94"/>
<circle cx="171.3" cy="83.0" r="3" fill="#d79489"/>
<circle cx="161.4" cy="74.5" r="3" fill="#e6a481"/>
<circle cx="244.6" cy="77.5" r="3" fill="#a35ba2"/>
<circle cx="152.8" cy="83.7" r="3" fill="#e3a183"/>
<circle cx="222.3" cy="82.5" r="3" fill="#ba7497"/>
<circle cx="210.2" cy="80.4" r="3" fill="#ae679d"/>
<circle cx="154.4" cy="81.8" r="3" fill="#e6a481"/>
<circle cx="183.6" cy="79.2" r="3" fill="#c68191"/>
<circle cx="165.4" cy="76.2" r="3" fill="#e2a083"/>
<circle cx="152.7" cy="74.9" r="3" fill="#e8a681"/>
<circle cx="158.1" cy="81.8" r="3" fill="#e5a382"/>
<circle cx="166.1" cy="78.8" r="3" fill="#e2a083"/>
<circle cx="167.7" cy="85.3" r="3" fill="#da9787"/>
<circle cx="162.8" cy="76.7" r="3" fill="#dc9987"/>
<circle cx="192.8" cy="78.8" r="3" fill="#c17c94"/>
<circle cx="156.5" cy="84.4" r="3" fill="#e8a581"/>
<circle cx="166.5" cy="76.0" r="3" fill="#d99688"/>
<circle cx="271.5" cy="79.7" r="3" fill="#9b52a7"/>
<circle cx="198.5" cy="82.4" r="3" fill="#c07b94"/>
<circle cx="278.4" cy="79.8" r="3" fill="#9a51a7"/>
<circle cx="262.5" cy="79.5" r="3" fill="#9b52a7"/>
<circle cx="263.6" cy="81.7" r="3" fill="#9349ab"/>
<circle cx="212.0" cy="80.2" r="3" fill="#b56f9a"/>
<circle cx="216.8" cy="82.7" r="3" fill="#ae679d"/>
<circle cx="223.2" cy="80.8" r="3" fill="#a75fa1"/>
<circle cx="167.5" cy="80.2" r="3" fill="#dc9986"/>
<circle cx="159.1" cy="77.0" r="3" fill="#e4a282"/>
<circle cx="247.2" cy="83.3" r="3" fill="#9f56a5"/>
<circle cx="244.6" cy="81.3" r="3" fill="#a158a4"/>
<circle cx="259.8" cy="81.0" r="3" fill="#9b52a7"/>
<circle cx="270.9" cy="81.4" r="3" fill="#974ea9"/>
<circle cx="230.3" cy="80.3" r="3" fill="#b26b9b"/>
<circle cx="275.3" cy="79.8" r="3" fill="#9b52a6"/>
<circle cx="164.6" cy="82.5" r="3" fill="#dd9a86"/>
<circle cx="163.4" cy="79.3" r="3" fill="#de9c85"/>
<circle cx="254.9" cy="79.2" r="3" fill="#9a52a7"/>
<circle cx="244.3" cy="79.3" r="3" fill="#9c53a6"/>
<circle cx="165.5" cy="80.3" r="3" fill="#dc9986"/>
<circle cx="293.9" cy="80.6" r="3" fill="#934aaa"/>
<circle cx="232.3" cy="82.8" r="3" fill="#a25aa3"/>
<circle cx="175.0" cy="84.0" r="3" fill="#d89489"/>
<circle cx="258.3" cy="80.7" r="3" fill="#964da9"/>
<circle cx="250.9" cy="78.4" r="3" fill="#9d54a6"/>
<circle cx="226.9" cy="78.5" r="3" fill="#ae679d"/>
<circle cx="283.4" cy="81.2" r="3" fill="#9046ac"/>
<circle cx="169.2" cy="83.0" r="3" fill="#da9787"/>
<circle cx="152.4" cy="82.0" r="3" fill="#f3b27b"/>
<circle cx="150.5" cy="83.4" r="3" fill="#e6a481"/>
<circle cx="243.1" cy="83.2" r="3" fill="#9b52a7"/>
<circle cx="161.3" cy="77.0" r="3" fill="#e19e84"/>
<circle cx="201.6" cy="82.1" r="3" fill="#bc7696"/>
<circle cx="182.7" cy="79.9" r="3" fill="#cd898e"/>
<circle cx="150.4" cy="79.8" r="3" fill="#e7a581"/>
<circle cx="238.2" cy="78.2" r="3" fill="#aa629f"/>
<circle cx="182.5" cy="81.4" r="3" fill="#c68191"/>
<circle cx="150.6" cy="77.7" r="3" fill="#ecaa7e"/>
<circle cx="150.0" cy="81.4" r="3" fill="#f0ae7d"/>
<circle cx="279.3" cy="81.3" r="3" fill="#9147ac"/>
<circle cx="154.7" cy="77.5" r="3" fill="#f3b27b"/>
<circle cx="252.6" cy="78.7" r="3" fill="#9c53a6"/>
<circle cx="263.5" cy="79.6" r="3" fill="#9c53a6"/>
<circle cx="241.4" cy="79.7" r="3" fill="#9a51a7"/>
<circle cx="189.8" cy="82.4" r="3" fill="#c78291"/>
<circle cx="160.4" cy="81.5" r="3" fill="#da9787"/>
<circle cx="247.7" cy="79.7" r="3" fill="#9a51a7"/>
<circle cx="241.6" cy="78.0" r="3" fill="#a159a3"/>
<circle cx="274.2" cy="81.4" r="3" fill="#964da9"/>
<circle cx="157.4" cy="77.1" r="3" fill="#e9a780"/>
<circle cx="166.5" cy="87.1" r="3" fill="#db9787"/>
<circle cx="207.2" cy="78.6" r="3" fill="#b97398"/>
<circle cx="169.2" cy="78.1" r="3" fill="#dc9986"/>
<circle cx="225.4" cy="82.3" r="3" fill="#af689c"/>
<circle cx="170.7" cy="74.2" r="3" fill="#cd898e"/>
<circle cx="276.5" cy="81.4" r="3" fill="#8e44ad"/>
<circle cx="179.2" cy="77.1" r="3" fill="#c98490"/>
<circle cx="231.8" cy="78.6" r="3" fill="#a861a0"/>
<circle cx="167.7" cy="74.0" r="3" fill="#da9787"/>
<circle cx="250.9" cy="81.0" r="3" fill="#9a51a7"/>
<circle cx="208.0" cy="82.5" r="3" fill="#b56e9a"/>
<circle cx="228.3" cy="80.7" r="3" fill="#b0699c"/>
<circle cx="187.5" cy="82.8" r="3" fill="#c27d93"/>
<circle cx="265.6" cy="81.4" r="3" fill="#974da9"/>
<circle cx="180.4" cy="79.5" r="3" fill="#c58092"/>
<circle cx="258.1" cy="79.3" r="3" fill="#a058a4"/>
<circle cx="161.3" cy="84.6" r="3" fill="#e19e84"/>
<circle cx="166.9" cy="83.1" r="3" fill="#e09d84"/>
<circle cx="227.5" cy="82.7" r="3" fill="#a860a0"/>
<circle cx="159.0" cy="103.2" r="3" fill="#eba97f"/>
<circle cx="148.2" cy="101.0" r="3" fill="#f2b17b"/>
<circle cx="150.4" cy="101.1" r="3" fill="#efae7d"/>
<circle cx="192.4" cy="102.0" r="3" fill="#da9787"/>
<circle cx="145.9" cy="101.1" r="3" fill="#edac7e"/>
<circle cx="204.5" cy="103.9" r="3" fill="#9a52a7"/>
<circle cx="207.4" cy="105.7" r="3" fill="#8e44ad"/>
<circle cx="211.4" cy="106.7" r="3" fill="#8e44ad"/>
<circle cx="157.3" cy="103.1" r="3" fill="#e5a382"/>
<circle cx="213.5" cy="100.9" r="3" fill="#8e44ad"/>
<circle cx="205.0" cy="100.1" r="3" fill="#8f45ad"/>
<circle cx="204.6" cy="102.3" r="3" fill="#9248ab"/>
<circle cx="212.8" cy="102.9" r="3" fill="#9046ac"/>
<circle cx="164.2" cy="101.0" r="3" fill="#e7a581"/>
<circle cx="210.2" cy="99.8" r="3" fill="#9d54a6"/>
<circle cx="184.3" cy="103.3" r="3" fill="#de9b86"/>
<circle cx="185.5" cy="102.3" r="3" fill="#d99688"/>
<circle cx="169.6" cy="101.0" r="3" fill="#eaa87f"/>
<circle cx="184.4" cy="102.3" r="3" fill="#de9b85"/>
<circle cx="179.4" cy="103.1" r="3" fill="#de9b85"/>
<circle cx="171.9" cy="101.0" r="3" fill="#e9a780"/>
<circle cx="166.3" cy="100.9" r="3" fill="#eeac7e"/>
<circle cx="206.3" cy="107.8" r="3" fill="#8e44ad"/>
<circle cx="182.4" cy="103.1" r="3" fill="#da9688"/>
<circle cx="209.5" cy="106.7" r="3" fill="#974ea9"/>
<circle cx="188.5" cy="100.8" r="3" fill="#db9887"/>
<circle cx="163.3" cy="103.1" r="3" fill="#e9a780"/>
<circle cx="152.1" cy="101.2" r="3" fill="#eead7d"/>
<circle cx="196.3" cy="101.6" r="3" fill="#c98490"/>
<circle cx="210.2" cy="104.1" r="3" fill="#8e44ad"/>
<circle cx="148.0" cy="102.9" r="3" fill="#efad7d"/>
<circle cx="163.1" cy="100.7" r="3" fill="#eaa87f"/>
<circle cx="171.9" cy="102.5" r="3" fill="#eead7d"/>
<circle cx="198.1" cy="100.3" r="3" fill="#cd888e"/>
<circle cx="161.4" cy="103.0" r="3" fill="#f3b27b"/>
<circle cx="210.0" cy="97.5" r="3" fill="#8e44ad"/>
<circle cx="207.4" cy="96.2" r="3" fill="#954caa"/>
<circle cx="179.1" cy="100.8" r="3" fill="#e19e84"/>
<circle cx="212.6" cy="105.4" r="3" fill="#8e44ad"/>
<circle cx="185.8" cy="103.4" r="3" fill="#db9887"/>
<circle cx="209.1" cy="104.4" r="3" fill="#934aaa"/>
<circle cx="188.0" cy="101.6" r="3" fill="#d89588"/>
<circle cx="209.3" cy="99.6" r="3" fill="#8e44ad"/>
<circle cx="153.8" cy="102.9" r="3" fill="#eba97f"/>
<circle cx="149.7" cy="102.6" r="3" fill="#e8a681"/>
<circle cx="196.3" cy="100.3" r="3" fill="#cf8b8d"/>
<circle cx="182.4" cy="101.0" r="3" fill="#d69389"/>
<circle cx="198.2" cy="101.8" r="3" fill="#c47e93"/>
<circle cx="195.1" cy="103.5" r="3" fill="#c78291"/>
<circle cx="160.6" cy="100.7" r="3" fill="#f1b07c"/>
<circle cx="158.0" cy="101.0" r="3" fill="#ecab7e"/>
<circle cx="146.8" cy="102.6" r="3" fill="#e5a382"/>
<circle cx="192.1" cy="103.4" r="3" fill="#cf8b8d"/>
<circle cx="186.2" cy="100.5" r="3" fill="#d99588"/>
<circle cx="167.7" cy="102.7" r="3" fill="#e2a083"/>
<circle cx="206.8" cy="102.9" r="3" fill="#974da9"/>
<circle cx="212.8" cy="98.4" r="3" fill="#944baa"/>
<circle cx="154.1" cy="100.8" r="3" fill="#e8a681"/>
<circle cx="195.2" cy="100.3" r="3" fill="#d18d8c"/>
<circle cx="210.0" cy="101.6" r="3" fill="#8e44ad"/>
<circle cx="183.4" cy="100.6" r="3" fill="#d69289"/>
<circle cx="168.9" cy="102.9" r="3" fill="#e3a183"/>
<circle cx="207.9" cy="101.7" r="3" fill="#974ea8"/>
<circle cx="205.9" cy="98.2" r="3" fill="#964da9"/>
<circle cx="189.7" cy="101.8" r="3" fill="#d79389"/>
<circle cx="195.1" cy="102.0" r="3" fill="#cb868f"/>
<circle cx="152.2" cy="103.0" r="3" fill="#efae7d"/>
<circle cx="156.2" cy="100.9" r="3" fill="#f3b27b"/>
<circle cx="205.3" cy="106.0" r="3" fill="#954ca9"/>
<circle cx="164.6" cy="102.8" r="3" fill="#eaa87f"/>
<circle cx="210.4" cy="108.7" r="3" fill="#9248ab"/>
<circle cx="207.1" cy="100.4" r="3" fill="#9046ac"/>
<circle cx="208.4" cy="97.7" r="3" fill="#954baa"/>
<circle cx="207.0" cy="123.5" r="3" fill="#e19e84"/>
<circle cx="200.1" cy="121.4" r="3" fill="#e6a482"/>
<circle cx="180.7" cy="126.7" r="3" fill="#d18c8c"/>
<circle cx="119.7" cy="122.6" r="3" fill="#944baa"/>
<circle cx="189.2" cy="119.8" r="3" fill="#db9887"/>
<circle cx="196.5" cy="121.3" r="3" fill="#e19f84"/>
<circle cx="181.2" cy="117.9" r="3" fill="#d4908a"/>
<circle cx="184.0" cy="120.4" r="3" fill="#db9787"/>
<circle cx="168.8" cy="117.5" r="3" fill="#ca868f"/>
<circle cx="137.1" cy="125.6" r="3" fill="#ad659e"/>
<circle cx="167.2" cy="129.3" r="3" fill="#c47f92"/>
<circle cx="130.3" cy="120.8" r="3" fill="#a057a4"/>
<circle cx="180.5" cy="129.1" r="3" fill="#d79389"/>
<circle cx="203.5" cy="120.2" r="3" fill="#e3a183"/>
<circle cx="127.5" cy="125.8" r="3" fill="#a058a4"/>
<circle cx="138.1" cy="121.1" r="3" fill="#a35ba3"/>
<circle cx="107.4" cy="123.3" r="3" fill="#9c53a6"/>
<circle cx="182.4" cy="122.5" r="3" fill="#c98490"/>
<circle cx="172.5" cy="119.1" r="3" fill="#d08b8d"/>
<circle cx="109.0" cy="123.4" r="3" fill="#8f45ad"/>
<circle cx="171.9" cy="121.0" r="3" fill="#c57f92"/>
<circle cx="134.1" cy="123.7" r="3" fill="#ab649e"/>
<circle cx="128.3" cy="123.6" r="3" fill="#9f56a5"/>
<circle cx="209.5" cy="123.1" r="3" fill="#e7a581"/>
<circle cx="164.5" cy="120.4" r="3" fill="#c27d93"/>
<circle cx="190.9" cy="128.5" r="3" fill="#d4908a"/>
<circle cx="143.2" cy="125.4" r="3" fill="#a45ca2"/>
<circle cx="165.5" cy="126.7" r="3" fill="#bf7995"/>
<circle cx="201.4" cy="126.4" r="3" fill="#e29f84"/>
<circle cx="148.3" cy="122.0" r="3" fill="#b16a9c"/>
<circle cx="200.1" cy="127.2" r="3" fill="#e2a083"/>
<circle cx="187.2" cy="124.3" r="3" fill="#dd9a86"/>
<circle cx="165.7" cy="120.2" r="3" fill="#c88390"/>
<circle cx="133.6" cy="121.0" r="3" fill="#ae669d"/>
<circle cx="109.0" cy="121.4" r="3" fill="#944baa"/>
<circle cx="154.1" cy="122.2" r="3" fill="#b56e9a"/>
<circle cx="169.8" cy="127.1" r="3" fill="#c78291"/>
<circle cx="157.6" cy="127.1" r="3" fill="#bc7696"/>
<circle cx="177.9" cy="124.4" r="3" fill="#d08c8c"/>
<circle cx="157.8" cy="125.4" r="3" fill="#c17c94"/>
<circle cx="170.9" cy="119.2" r="3" fill="#cd888e"/>
<circle cx="207.4" cy="125.4" r="3" fill="#e7a581"/>
<circle cx="215.8" cy="123.3" r="3" fill="#f3b27b"/>
<circle cx="180.9" cy="124.5" r="3" fill="#da9787"/>
<circle cx="191.9" cy="120.2" r="3" fill="#df9c85"/>
<circle cx="150.9" cy="122.0" r="3" fill="#b36c9b"/>
<circle cx="114.0" cy="124.1" r="3" fill="#9046ac"/>
<circle cx="120.3" cy="126.0" r="3" fill="#9b52a7"/>
<circle cx="149.2" cy="124.4" r="3" fill="#b26b9b"/>
<circle cx="193.3" cy="126.7" r="3" fill="#e8a681"/>
<circle cx="159.7" cy="127.4" r="3" fill="#bd7896"/>
<circle cx="197.1" cy="125.3" r="3" fill="#e6a481"/>
<circle cx="174.4" cy="120.9" r="3" fill="#d08c8c"/>
<circle cx="129.7" cy="125.4" r="3" fill="#ac649e"/>
<circle cx="153.6" cy="124.2" r="3" fill="#b77099"/>
<circle cx="140.1" cy="125.1" r="3" fill="#a55da2"/>
<circle cx="159.4" cy="125.6" r="3" fill="#b0699c"/>
<circle cx="191.9" cy="126.1" r="3" fill="#df9c85"/>
<circle cx="123.4" cy="122.4" r="3" fill="#954ca9"/>
<circle cx="162.3" cy="128.2" r="3" fill="#bf7995"/>
<circle cx="186.7" cy="122.4" r="3" fill="#d79389"/>
<circle cx="211.6" cy="121.4" r="3" fill="#f0ae7d"/>
<circle cx="185.5" cy="128.8" r="3" fill="#cc888e"/>
<circle cx="165.0" cy="121.8" r="3" fill="#ca868f"/>
<circle cx="192.7" cy="122.1" r="3" fill="#db9887"/>
<circle cx="206.2" cy="124.4" r="3" fill="#e3a183"/>
<circle cx="145.1" cy="125.6" r="3" fill="#ae679d"/>
<circle cx="189.5" cy="126.5" r="3" fill="#e19e84"/>
<circle cx="121.4" cy="120.8" r="3" fill="#9c53a6"/>
<circle cx="151.4" cy="124.2" r="3" fill="#b56e9a"/>
<circle cx="206.6" cy="122.5" r="3" fill="#ecaa7f"/>
<circle cx="93.5" cy="123.3" r="3" fill="#8e44ad"/>
<circle cx="112.0" cy="123.0" r="3" fill="#8e44ad"/>
<circle cx="177.2" cy="124.8" r="3" fill="#cf8b8d"/>
<circle cx="229.5" cy="123.3" r="3" fill="#f3b27b"/>
<circle cx="199.4" cy="123.1" r="3" fill="#e4a282"/>
<circle cx="194.5" cy="121.2" r="3" fill="#e5a382"/>
<circle cx="175.6" cy="121.8" r="3" fill="#c17c94"/>
<circle cx="124.2" cy="121.0" r="3" fill="#a158a4"/>
<circle cx="168.5" cy="126.6" r="3" fill="#c68191"/>
<circle cx="162.4" cy="123.6" r="3" fill="#c37e93"/>
<circle cx="175.5" cy="119.7" r="3" fill="#d08c8c"/>
<circle cx="155.5" cy="124.2" r="3" fill="#b77199"/>
<circle cx="162.2" cy="126.0" r="3" fill="#c27d93"/>
<circle cx="200.1" cy="119.4" r="3" fill="#e6a481"/>
<circle cx="178.5" cy="129.1" r="3" fill="#c98490"/>
<circle cx="212.1" cy="125.2" r="3" fill="#ecab7e"/>
<circle cx="171.5" cy="125.1" r="3" fill="#cf8b8d"/>
<circle cx="147.7" cy="123.3" r="3" fill="#af689d"/>
<circle cx="172.4" cy="123.1" r="3" fill="#ce8a8d"/>
<circle cx="190.7" cy="118.1" r="3" fill="#e09d84"/>
<circle cx="157.0" cy="121.4" r="3" fill="#c17b94"/>
<circle cx="195.2" cy="128.1" r="3" fill="#dc9986"/>
<circle cx="175.1" cy="125.7" r="3" fill="#c07b94"/>
<circle cx="142.7" cy="123.2" r="3" fill="#b0699c"/>
<circle cx="124.0" cy="124.1" r="3" fill="#9d54a6"/>
<circle cx="113.1" cy="122.6" r="3" fill="#8e44ad"/>
<circle cx="179.4" cy="119.6" r="3" fill="#d18d8c"/>
<circle cx="167.5" cy="122.4" r="3" fill="#c47f92"/>
<circle cx="122.0" cy="125.6" r="3" fill="#9e55a5"/>
<circle cx="125.9" cy="124.0" r="3" fill="#a55da2"/>
<circle cx="145.6" cy="123.0" r="3" fill="#b36c9b"/>
<circle cx="107.1" cy="122.1" r="3" fill="#8e44ad"/>
<circle cx="234.5" cy="123.3" r="3" fill="#f3b27b"/>
<circle cx="181.9" cy="126.9" r="3" fill="#d38f8b"/>
<circle cx="184.5" cy="118.1" r="3" fill="#dd9a86"/>
<circle cx="187.6" cy="120.0" r="3" fill="#de9b86"/>
<circle cx="182.3" cy="128.9" r="3" fill="#dc9986"/>
<circle cx="183.0" cy="124.2" r="3" fill="#d08c8c"/>
<circle cx="201.3" cy="122.2" r="3" fill="#e4a183"/>
<circle cx="214.7" cy="125.0" r="3" fill="#ecaa7f"/>
<circle cx="196.9" cy="123.1" r="3" fill="#eead7d"/>
<circle cx="173.4" cy="119.0" r="3" fill="#d08c8c"/>
<circle cx="212.7" cy="123.0" r="3" fill="#ecab7e"/>
<circle cx="158.4" cy="119.4" r="3" fill="#b36d9a"/>
<circle cx="120.9" cy="122.4" r="3" fill="#944aaa"/>
<circle cx="185.1" cy="124.3" r="3" fill="#d4908a"/>
<circle cx="118.3" cy="123.8" r="3" fill="#964ca9"/>
<circle cx="172.6" cy="127.8" r="3" fill="#ce898e"/>
<circle cx="161.3" cy="121.1" r="3" fill="#c47f92"/>
<circle cx="186.5" cy="126.7" r="3" fill="#da9688"/>
<circle cx="163.5" cy="126.7" r="3" fill="#ca868f"/>
<circle cx="192.5" cy="124.6" r="3" fill="#e9a780"/>
<circle cx="203.6" cy="124.2" r="3" fill="#edac7e"/>
<circle cx="136.8" cy="123.5" r="3" fill="#a058a4"/>
<circle cx="156.7" cy="123.3" r="3" fill="#c07a94"/>
<circle cx="125.7" cy="125.8" r="3" fill="#a158a4"/>
<circle cx="196.1" cy="123.2" r="3" fill="#df9c85"/>
<circle cx="185.1" cy="126.3" r="3" fill="#d28e8b"/>
<circle cx="109.1" cy="125.2" r="3" fill="#9046ac"/>
<circle cx="170.6" cy="122.2" r="3" fill="#c17b94"/>
<circle cx="184.6" cy="122.4" r="3" fill="#d69389"/>
<circle cx="196.6" cy="119.0" r="3" fill="#e5a382"/>
<circle cx="121.0" cy="124.2" r="3" fill="#9a51a7"/>
<circle cx="189.0" cy="124.1" r="3" fill="#de9c85"/>
<circle cx="188.1" cy="122.3" r="3" fill="#de9b85"/>
<circle cx="151.9" cy="125.9" r="3" fill="#b36d9b"/>
<circle cx="131.6" cy="123.4" r="3" fill="#a158a4"/>
<circle cx="169.7" cy="124.3" r="3" fill="#be7895"/>
<circle cx="115.2" cy="124.2" r="3" fill="#9d55a5"/>
<circle cx="129.6" cy="123.4" r="3" fill="#a55da2"/>
<circle cx="175.1" cy="127.9" r="3" fill="#c68191"/>
<circle cx="168.2" cy="124.4" r="3" fill="#c17c94"/>
<circle cx="179.2" cy="127.1" r="3" fill="#db9887"/>
<circle cx="148.6" cy="120.6" r="3" fill="#b0699c"/>
<circle cx="200.2" cy="125.1" r="3" fill="#e8a680"/>
<circle cx="183.2" cy="120.2" r="3" fill="#d08c8c"/>
<circle cx="150.9" cy="120.4" r="3" fill="#b46e9a"/>
<circle cx="125.5" cy="122.5" r="3" fill="#9a51a7"/>
<circle cx="190.7" cy="122.1" r="3" fill="#e2a083"/>
<circle cx="100.5" cy="123.3" r="3" fill="#8e44ad"/>
<circle cx="162.9" cy="122.4" r="3" fill="#bd7895"/>
<circle cx="203.2" cy="122.1" r="3" fill="#eead7d"/>
<circle cx="173.6" cy="116.9" r="3" fill="#bf7a95"/>
<circle cx="202.5" cy="124.2" r="3" fill="#e5a382"/>
<circle cx="115.5" cy="122.2" r="3" fill="#9c53a6"/>
<circle cx="174.4" cy="123.7" r="3" fill="#d18d8c"/>
<circle cx="96.0" cy="123.3" r="3" fill="#8e44ad"/>
<circle cx="138.4" cy="123.2" r="3" fill="#ae669d"/>
<circle cx="154.2" cy="120.5" r="3" fill="#b87298"/>
<circle cx="190.4" cy="124.3" r="3" fill="#da9787"/>
<circle cx="167.6" cy="119.4" r="3" fill="#c47f92"/>
<circle cx="159.0" cy="123.7" r="3" fill="#b67099"/>
<circle cx="165.4" cy="124.6" r="3" fill="#c58092"/>
<circle cx="216.8" cy="121.8" r="3" fill="#f0af7c"/>
<circle cx="194.0" cy="120.4" r="3" fill="#e5a282"/>
<circle cx="166.8" cy="129.1" r="3" fill="#c17b94"/>
<circle cx="195.8" cy="125.8" r="3" fill="#db9887"/>
<circle cx="155.2" cy="126.6" r="3" fill="#bc7696"/>
<circle cx="162.9" cy="124.5" r="3" fill="#bc7696"/>
<circle cx="180.4" cy="122.3" r="3" fill="#d4908a"/>
<circle cx="141.0" cy="123.4" r="3" fill="#a45ca2"/>
<circle cx="117.8" cy="122.2" r="3" fill="#954ca9"/>
<circle cx="136.2" cy="121.2" r="3" fill="#9f57a4"/>
<circle cx="120.5" cy="123.9" r="3" fill="#964da9"/>
<circle cx="138.8" cy="125.5" r="3" fill="#a45ca2"/>
<circle cx="178.6" cy="122.0" r="3" fill="#d5918a"/>
<circle cx="214.6" cy="123.5" r="3" fill="#edab7e"/>
<circle cx="179.9" cy="120.0" r="3" fill="#d4908a"/>
<circle cx="159.7" cy="120.9" r="3" fill="#b46e9a"/>
<circle cx="208.2" cy="121.0" r="3" fill="#e3a183"/>
<circle cx="156.0" cy="122.3" r="3" fill="#b77199"/>
<circle cx="176.3" cy="126.7" r="3" fill="#ca858f"/>
<circle cx="118.5" cy="125.7" r="3" fill="#9147ab"/>
<circle cx="168.3" cy="145.8" r="3" fill="#d28e8b"/>
<circle cx="125.0" cy="144.5" r="3" fill="#f1af7c"/>
<circle cx="172.9" cy="143.4" r="3" fill="#c88390"/>
<circle cx="148.5" cy="142.7" r="3" fill="#f2b17b"/>
<circle cx="211.1" cy="145.0" r="3" fill="#8e44ad"/>
<circle cx="175.4" cy="148.1" r="3" fill="#bc7796"/>
<circle cx="194.8" cy="147.9" r="3" fill="#a158a4"/>
<circle cx="204.8" cy="142.6" r="3" fill="#9148ab"/>
<circle cx="150.0" cy="144.6" r="3" fill="#e2a083"/>
<circle cx="147.5" cy="144.4" r="3" fill="#e6a482"/>
<circle cx="168.6" cy="142.0" r="3" fill="#ca858f"/>
<circle cx="184.9" cy="146.0" r="3" fill="#a860a0"/>
<circle cx="138.1" cy="145.5" r="3" fill="#efad7d"/>
<circle cx="179.2" cy="144.9" r="3" fill="#b26b9b"/>
<circle cx="142.1" cy="142.6" r="3" fill="#f3b27b"/>
<circle cx="134.9" cy="145.9" r="3" fill="#f3b27b"/>
<circle cx="191.6" cy="146.7" r="3" fill="#9f56a5"/>
<circle cx="178.1" cy="144.5" r="3" fill="#c58092"/>
<circle cx="128.4" cy="145.5" r="3" fill="#f3b27b"/>
<circle cx="182.2" cy="139.8" r="3" fill="#b97298"/>
<circle cx="198.3" cy="145.7" r="3" fill="#9a51a7"/>
<circle cx="170.7" cy="145.5" r="3" fill="#cf8b8d"/>
<circle cx="187.9" cy="148.2" r="3" fill="#ab639f"/>
<circle cx="170.8" cy="143.4" r="3" fill="#bf7a94"/>
<circle cx="136.9" cy="143.6" r="3" fill="#f3b27b"/>
<circle cx="167.6" cy="145.5" r="3" fill="#da9787"/>
<circle cx="179.1" cy="140.1" r="3" fill="#c27c93"/>
<circle cx="198.8" cy="141.9" r="3" fill="#a45ca2"/>
<circle cx="156.5" cy="144.3" r="3" fill="#edab7e"/>
<circle cx="185.0" cy="141.0" r="3" fill="#b16a9c"/>
<circle cx="188.4" cy="143.1" r="3" fill="#ab639f"/>
<circle cx="173.3" cy="148.1" r="3" fill="#be7895"/>
<circle cx="137.2" cy="147.3" r="3" fill="#eeac7e"/>
<circle cx="138.0" cy="142.0" r="3" fill="#e7a581"/>
<circle cx="166.4" cy="147.4" r="3" fill="#d08b8d"/>
<circle cx="174.6" cy="141.0" r="3" fill="#c58092"/>
<circle cx="135.2" cy="143.8" r="3" fill="#ecaa7e"/>
<circle cx="143.2" cy="142.5" r="3" fill="#f3b27b"/>
<circle cx="199.2" cy="139.5" r="3" fill="#9950a7"/>
<circle cx="182.1" cy="144.7" r="3" fill="#b26b9b"/>
<circle cx="199.5" cy="146.9" r="3" fill="#9248ab"/>
<circle cx="206.6" cy="141.1" r="3" fill="#974ea8"/>
<circle cx="132.0" cy="143.5" r="3" fill="#e8a680"/>
<circle cx="193.6" cy="145.5" r="3" fill="#a760a0"/>
<circle cx="172.7" cy="146.2" r="3" fill="#c68092"/>
<circle cx="189.7" cy="146.9" r="3" fill="#ab649f"/>
<circle cx="123.1" cy="146.2" r="3" fill="#f3b27b"/>
<circle cx="189.9" cy="142.2" r="3" fill="#a65ea1"/>
<circle cx="161.9" cy="144.5" r="3" fill="#cf8a8d"/>
<circle cx="165.1" cy="144.6" r="3" fill="#d99588"/>
<circle cx="190.7" cy="151.0" r="3" fill="#ac649e"/>
<circle cx="207.4" cy="143.1" r="3" fill="#954ca9"/>
<circle cx="207.6" cy="145.7" r="3" fill="#954caa"/>
<circle cx="179.2" cy="146.8" r="3" fill="#bd7796"/>
<circle cx="187.3" cy="145.6" r="3" fill="#ab639f"/>
<circle cx="143.3" cy="144.8" r="3" fill="#e6a481"/>
<circle cx="196.9" cy="145.7" r="3" fill="#9c54a6"/>
<circle cx="150.7" cy="142.8" r="3" fill="#e9a880"/>
<circle cx="133.5" cy="146.0" r="3" fill="#eead7d"/>
<circle cx="178.8" cy="149.1" r="3" fill="#b56f99"/>
<circle cx="164.8" cy="147.0" r="3" fill="#d99688"/>
<circle cx="160.6" cy="144.8" r="3" fill="#e3a183"/>
<circle cx="161.1" cy="142.4" r="3" fill="#df9c85"/>
<circle cx="185.4" cy="143.7" r="3" fill="#b77099"/>
<circle cx="126.7" cy="147.0" r="3" fill="#f2b17b"/>
<circle cx="195.9" cy="143.9" r="3" fill="#9a51a7"/>
<circle cx="201.0" cy="142.6" r="3" fill="#954ca9"/>
<circle cx="196.1" cy="148.3" r="3" fill="#9b52a6"/>
<circle cx="208.1" cy="145.3" r="3" fill="#984fa8"/>
<circle cx="158.7" cy="144.7" r="3" fill="#d99688"/>
<circle cx="175.5" cy="143.5" r="3" fill="#cb868f"/>
<circle cx="202.0" cy="144.4" r="3" fill="#964da9"/>
<circle cx="193.7" cy="138.6" r="3" fill="#a75fa1"/>
<circle cx="156.6" cy="143.0" r="3" fill="#e6a382"/>
<circle cx="154.3" cy="144.3" r="3" fill="#e09d85"/>
<circle cx="150.6" cy="146.3" r="3" fill="#eaa880"/>
<circle cx="209.4" cy="143.8" r="3" fill="#984fa8"/>
<circle cx="183.9" cy="141.1" r="3" fill="#ae679d"/>
<circle cx="184.3" cy="143.9" r="3" fill="#b46e9a"/>
<circle cx="145.7" cy="144.8" r="3" fill="#f2b07c"/>
<circle cx="185.9" cy="147.7" r="3" fill="#ae679d"/>
<circle cx="133.6" cy="143.4" r="3" fill="#f2b17b"/>
<circle cx="160.9" cy="146.9" r="3" fill="#d99588"/>
<circle cx="176.5" cy="142.8" r="3" fill="#bc7696"/>
<circle cx="203.2" cy="142.6" r="3" fill="#9e55a5"/>
<circle cx="133.7" cy="142.0" r="3" fill="#f3b27b"/>
<circle cx="194.5" cy="141.4" r="3" fill="#a25aa3"/>
<circle cx="133.8" cy="147.3" r="3" fill="#e6a481"/>
<circle cx="168.9" cy="143.4" r="3" fill="#cd898e"/>
<circle cx="191.4" cy="144.5" r="3" fill="#a75fa1"/>
<circle cx="190.5" cy="138.3" r="3" fill="#a25aa3"/>
<circle cx="184.0" cy="147.6" r="3" fill="#b77099"/>
<circle cx="196.4" cy="141.0" r="3" fill="#a45ca2"/>
<circle cx="135.8" cy="142.2" r="3" fill="#f3b27b"/>
<circle cx="190.6" cy="148.7" r="3" fill="#a55da2"/>
<circle cx="211.2" cy="142.4" r="3" fill="#8f45ac"/>
<circle cx="199.2" cy="149.8" r="3" fill="#a25aa3"/>
<circle cx="140.1" cy="142.5" r="3" fill="#f3b27b"/>
<circle cx="202.2" cy="140.3" r="3" fill="#944baa"/>
<circle cx="208.0" cy="147.8" r="3" fill="#8f45ad"/>
<circle cx="190.4" cy="140.0" r="3" fill="#aa639f"/>
<circle cx="199.0" cy="147.4" r="3" fill="#974ea8"/>
<circle cx="202.3" cy="147.2" r="3" fill="#9248ab"/>
<circle cx="185.2" cy="138.9" r="3" fill="#a860a0"/>
<circle cx="167.1" cy="144.1" r="3" fill="#d08c8c"/>
<circle cx="170.7" cy="147.6" r="3" fill="#ce8a8d"/>
<circle cx="151.7" cy="146.5" r="3" fill="#db9887"/>
<circle cx="197.6" cy="143.3" r="3" fill="#9950a7"/>
<circle cx="177.1" cy="148.7" r="3" fill="#bd7796"/>
<circle cx="183.2" cy="150.1" r="3" fill="#a861a0"/>
<circle cx="129.4" cy="143.5" r="3" fill="#f3b27b"/>
<circle cx="187.7" cy="140.7" r="3" fill="#b0699c"/>
<circle cx="131.1" cy="145.7" r="3" fill="#f1b07c"/>
<circle cx="176.8" cy="146.5" r="3" fill="#ba7397"/>
<circle cx="192.3" cy="142.5" r="3" fill="#a35ba3"/>
<circle cx="191.3" cy="140.3" r="3" fill="#954baa"/>
<circle cx="181.2" cy="141.9" r="3" fill="#af689d"/>
<circle cx="181.6" cy="147.3" r="3" fill="#ba7397"/>
<circle cx="184.2" cy="139.5" r="3" fill="#ab639f"/>
<circle cx="200.3" cy="149.3" r="3" fill="#8e44ad"/>
<circle cx="174.8" cy="146.1" r="3" fill="#cc888e"/>
<circle cx="131.6" cy="147.7" r="3" fill="#f3b27b"/>
<circle cx="191.9" cy="149.0" r="3" fill="#9a51a7"/>
<circle cx="204.9" cy="148.6" r="3" fill="#964da9"/>
<circle cx="179.7" cy="142.5" r="3" fill="#c47f92"/>
<circle cx="125.4" cy="146.6" r="3" fill="#f2b17b"/>
<circle cx="194.9" cy="143.8" r="3" fill="#a158a4"/>
<circle cx="136.1" cy="147.4" r="3" fill="#e6a481"/>
<circle cx="122.0" cy="145.0" r="3" fill="#f3b27b"/>
<circle cx="190.3" cy="144.8" r="3" fill="#a45ca2"/>
<circle cx="205.0" cy="144.8" r="3" fill="#974ea8"/>
<circle cx="141.8" cy="146.9" r="3" fill="#eead7d"/>
<circle cx="184.2" cy="145.9" r="3" fill="#b56e9a"/>
<circle cx="203.8" cy="146.9" r="3" fill="#954baa"/>
<circle cx="158.2" cy="142.7" r="3" fill="#da9787"/>
<circle cx="151.2" cy="144.7" r="3" fill="#e09e84"/>
<circle cx="163.9" cy="142.2" r="3" fill="#d99688"/>
<circle cx="138.8" cy="144.6" r="3" fill="#f3b27b"/>
<circle cx="141.6" cy="144.3" r="3" fill="#ecab7e"/>
<circle cx="199.5" cy="144.4" r="3" fill="#974ea9"/>
<circle cx="126.8" cy="144.9" r="3" fill="#f1b07c"/>
<circle cx="175.0" cy="166.0" r="3" fill="#e4a282"/>
<circle cx="189.6" cy="165.9" r="3" fill="#b97298"/>
<circle cx="202.6" cy="162.4" r="3" fill="#8e44ad"/>
<circle cx="153.0" cy="169.3" r="3" fill="#efae7d"/>
<circle cx="201.1" cy="169.9" r="3" fill="#8e44ad"/>
<circle cx="195.7" cy="165.2" r="3" fill="#9b52a7"/>
<circle cx="199.1" cy="169.5" r="3" fill="#974da9"/>
<circle cx="203.5" cy="169.7" r="3" fill="#9950a8"/>
<circle cx="158.2" cy="162.3" r="3" fill="#f1b07c"/>
<circle cx="162.3" cy="169.0" r="3" fill="#f3b27b"/>
<circle cx="176.1" cy="165.1" r="3" fill="#e5a382"/>
<circle cx="167.6" cy="166.0" r="3" fill="#e8a680"/>
<circle cx="197.3" cy="163.4" r="3" fill="#a75fa1"/>
<circle cx="203.9" cy="162.4" r="3" fill="#9d55a5"/>
<circle cx="178.9" cy="165.0" r="3" fill="#e19f84"/>
<circle cx="185.5" cy="169.3" r="3" fill="#dc9987"/>
<circle cx="169.9" cy="166.2" r="3" fill="#cf8b8d"/>
<circle cx="154.3" cy="162.8" r="3" fill="#f3b27b"/>
<circle cx="195.0" cy="166.7" r="3" fill="#a159a3"/>
<circle cx="167.0" cy="166.6" r="3" fill="#f3b27b"/>
<circle cx="184.9" cy="160.5" r="3" fill="#f3b27b"/>
<circle cx="155.3" cy="165.8" r="3" fill="#f3b27b"/>
<circle cx="166.8" cy="164.8" r="3" fill="#f3b27b"/>
<circle cx="172.8" cy="167.9" r="3" fill="#f2b17b"/>
<circle cx="183.0" cy="169.6" r="3" fill="#f3b27b"/>
<circle cx="173.8" cy="163.6" r="3" fill="#edab7e"/>
<circle cx="156.0" cy="164.2" r="3" fill="#f1af7c"/>
<circle cx="205.6" cy="167.3" r="3" fill="#8e44ad"/>
<circle cx="180.4" cy="164.0" r="3" fill="#db9887"/>
<circle cx="154.3" cy="166.9" r="3" fill="#e6a481"/>
<circle cx="188.1" cy="169.2" r="3" fill="#dc9986"/>
<circle cx="187.2" cy="162.6" r="3" fill="#d5928a"/>
<circle cx="183.0" cy="162.6" r="3" fill="#e3a183"/>
<circle cx="151.6" cy="165.9" r="3" fill="#e9a780"/>
<circle cx="207.8" cy="165.8" r="3" fill="#974ea9"/>
<circle cx="168.1" cy="163.7" r="3" fill="#d99588"/>
<circle cx="175.9" cy="166.6" r="3" fill="#d99688"/>
<circle cx="151.7" cy="163.5" r="3" fill="#f3b27b"/>
<circle cx="195.4" cy="168.5" r="3" fill="#9046ac"/>
<circle cx="197.5" cy="165.4" r="3" fill="#8e44ad"/>
<circle cx="206.4" cy="168.9" r="3" fill="#9147ac"/>
<circle cx="172.3" cy="165.9" r="3" fill="#f0af7c"/>
<circle cx="178.3" cy="169.5" r="3" fill="#eaa97f"/>
<circle cx="153.1" cy="164.6" r="3" fill="#f3b27b"/>
<circle cx="155.9" cy="170.0" r="3" fill="#e6a481"/>
<circle cx="159.8" cy="165.0" r="3" fill="#e2a083"/>
<circle cx="186.7" cy="167.3" r="3" fill="#d18d8c"/>
<circle cx="162.5" cy="165.2" r="3" fill="#f3b27b"/>
<circle cx="163.9" cy="167.4" r="3" fill="#f3b27b"/>
<circle cx="156.9" cy="163.8" r="3" fill="#eba97f"/>
<circle cx="204.4" cy="167.4" r="3" fill="#974ea8"/>
<circle cx="179.6" cy="167.5" r="3" fill="#e29f84"/>
<circle cx="201.5" cy="168.1" r="3" fill="#934aaa"/>
<circle cx="159.2" cy="162.5" r="3" fill="#f3b27b"/>
<circle cx="194.3" cy="165.7" r="3" fill="#b36c9b"/>
<circle cx="157.2" cy="165.9" r="3" fill="#e4a183"/>
<circle cx="180.1" cy="168.5" r="3" fill="#efae7d"/>
<circle cx="178.9" cy="162.9" r="3" fill="#dd9a86"/>
<circle cx="205.6" cy="165.4" r="3" fill="#ad669d"/>
<circle cx="160.5" cy="169.2" r="3" fill="#f3b27b"/>
<circle cx="184.5" cy="162.9" r="3" fill="#dc9987"/>
<circle cx="200.4" cy="167.5" r="3" fill="#9046ac"/>
<circle cx="196.8" cy="166.7" r="3" fill="#9147ab"/>
<circle cx="158.1" cy="168.3" r="3" fill="#e5a382"/>
<circle cx="182.4" cy="172.3" r="3" fill="#d99688"/>
<circle cx="184.3" cy="165.2" r="3" fill="#cd888e"/>
<circle cx="161.4" cy="166.7" r="3" fill="#f3b27b"/>
<circle cx="151.6" cy="168.5" r="3" fill="#f2b17b"/>
<circle cx="191.3" cy="165.8" r="3" fill="#cb878f"/>
<circle cx="163.4" cy="164.8" r="3" fill="#f3b27b"/>
<circle cx="180.8" cy="166.4" r="3" fill="#df9c85"/>
<circle cx="188.0" cy="164.9" r="3" fill="#f3b27b"/>
<circle cx="183.0" cy="164.9" r="3" fill="#e2a083"/>
<circle cx="182.9" cy="166.9" r="3" fill="#e5a382"/>
<circle cx="200.5" cy="165.2" r="3" fill="#a65ea1"/>
<circle cx="201.3" cy="164.4" r="3" fill="#8e44ad"/>
<circle cx="182.3" cy="159.8" r="3" fill="#e19e84"/>
<circle cx="189.1" cy="164.0" r="3" fill="#c37d93"/>
<circle cx="201.3" cy="166.1" r="3" fill="#8e44ad"/>
<circle cx="191.6" cy="164.2" r="3" fill="#b67099"/>
<circle cx="156.0" cy="167.6" r="3" fill="#edac7e"/>
<circle cx="184.9" cy="171.8" r="3" fill="#df9c85"/>
<circle cx="204.0" cy="164.4" r="3" fill="#a75fa1"/>
<circle cx="184.3" cy="167.0" r="3" fill="#e5a382"/>
<circle cx="159.2" cy="167.4" r="3" fill="#e4a282"/>
<circle cx="160.3" cy="186.3" r="3" fill="#b67099"/>
<circle cx="142.2" cy="186.7" r="3" fill="#c37d93"/>
<circle cx="182.5" cy="184.8" r="3" fill="#974ea9"/>
<circle cx="153.7" cy="186.3" r="3" fill="#a158a4"/>
<circle cx="160.1" cy="188.5" r="3" fill="#b16b9b"/>
<circle cx="203.1" cy="190.6" r="3" fill="#de9b86"/>
<circle cx="171.4" cy="188.9" r="3" fill="#b36c9b"/>
<circle cx="186.7" cy="186.5" r="3" fill="#944baa"/>
<circle cx="219.4" cy="187.4" r="3" fill="#f0af7c"/>
<circle cx="183.4" cy="187.3" r="3" fill="#9a51a7"/>
<circle cx="187.6" cy="192.4" r="3" fill="#9950a8"/>
<circle cx="137.1" cy="186.6" r="3" fill="#c58092"/>
<circle cx="169.4" cy="186.1" r="3" fill="#b0699c"/>
<circle cx="186.2" cy="188.5" r="3" fill="#a058a4"/>
<circle cx="182.1" cy="182.9" r="3" fill="#9950a7"/>
<circle cx="195.5" cy="187.5" r="3" fill="#d38f8b"/>
<circle cx="163.0" cy="188.6" r="3" fill="#c17c94"/>
<circle cx="181.2" cy="191.6" r="3" fill="#984fa8"/>
<circle cx="204.6" cy="190.5" r="3" fill="#f3b27b"/>
<circle cx="197.8" cy="188.6" r="3" fill="#c88490"/>
<circle cx="199.0" cy="186.4" r="3" fill="#dc9986"/>
<circle cx="205.3" cy="186.0" r="3" fill="#efae7d"/>
<circle cx="189.2" cy="189.8" r="3" fill="#aa639f"/>
<circle cx="158.2" cy="188.5" r="3" fill="#b97398"/>
<circle cx="213.6" cy="187.7" r="3" fill="#f3b27b"/>
<circle cx="111.7" cy="187.4" r="3" fill="#c68092"/>
<circle cx="143.5" cy="186.3" r="3" fill="#ba7397"/>
<circle cx="188.2" cy="187.7" r="3" fill="#a158a4"/>
<circle cx="177.2" cy="190.0" r="3" fill="#8f45ac"/>
<circle cx="210.3" cy="188.4" r="3" fill="#e9a780"/>
<circle cx="205.9" cy="186.3" r="3" fill="#e3a083"/>
<circle cx="220.6" cy="185.5" r="3" fill="#f2b17b"/>
<circle cx="175.9" cy="183.9" r="3" fill="#ab649e"/>
<circle cx="194.6" cy="186.5" r="3" fill="#ac649e"/>
<circle cx="197.5" cy="184.9" r="3" fill="#cc888e"/>
<circle cx="180.0" cy="184.0" r="3" fill="#9a51a7"/>
<circle cx="187.0" cy="182.7" r="3" fill="#9e56a5"/>
<circle cx="147.9" cy="186.3" r="3" fill="#ad669e"/>
<circle cx="223.2" cy="187.5" r="3" fill="#e6a481"/>
<circle cx="183.1" cy="183.2" r="3" fill="#9b53a6"/>
<circle cx="181.3" cy="187.2" r="3" fill="#8e44ad"/>
<circle cx="156.8" cy="188.5" r="3" fill="#af689d"/>
<circle cx="200.5" cy="186.0" r="3" fill="#cf8a8d"/>
<circle cx="175.1" cy="186.3" r="3" fill="#a25aa3"/>
<circle cx="148.6" cy="188.3" r="3" fill="#be7895"/>
<circle cx="177.5" cy="182.6" r="3" fill="#8e44ad"/>
<circle cx="183.4" cy="184.8" r="3" fill="#a058a4"/>
<circle cx="214.7" cy="187.4" r="3" fill="#f1af7c"/>
<circle cx="189.5" cy="191.3" r="3" fill="#a961a0"/>
<circle cx="198.5" cy="189.7" r="3" fill="#d38f8b"/>
<circle cx="168.3" cy="187.6" r="3" fill="#ad669e"/>
<circle cx="202.1" cy="183.8" r="3" fill="#de9b85"/>
<circle cx="204.1" cy="184.3" r="3" fill="#e3a183"/>
<circle cx="150.6" cy="186.3" r="3" fill="#c88390"/>
<circle cx="181.8" cy="189.4" r="3" fill="#a75fa1"/>
<circle cx="164.7" cy="188.7" r="3" fill="#ad669d"/>
<circle cx="207.5" cy="188.7" r="3" fill="#df9c85"/>
<circle cx="200.9" cy="188.6" r="3" fill="#e5a282"/>
<circle cx="141.3" cy="188.4" r="3" fill="#d28e8b"/>
<circle cx="186.6" cy="181.8" r="3" fill="#964da9"/>
<circle cx="197.2" cy="189.6" r="3" fill="#c98490"/>
<circle cx="192.4" cy="184.3" r="3" fill="#ae669d"/>
<circle cx="184.1" cy="189.4" r="3" fill="#9b52a7"/>
<circle cx="149.3" cy="188.3" r="3" fill="#be7895"/>
<circle cx="152.1" cy="188.5" r="3" fill="#bd7796"/>
<circle cx="202.8" cy="188.7" r="3" fill="#e3a083"/>
<circle cx="182.1" cy="193.9" r="3" fill="#9a51a7"/>
<circle cx="190.9" cy="187.5" r="3" fill="#9b52a7"/>
<circle cx="166.9" cy="187.6" r="3" fill="#c07b94"/>
<circle cx="167.3" cy="188.7" r="3" fill="#ac659e"/>
<circle cx="175.7" cy="188.8" r="3" fill="#9b52a7"/>
<circle cx="156.3" cy="186.3" r="3" fill="#c07b94"/>
<circle cx="153.6" cy="188.5" r="3" fill="#bd7896"/>
<circle cx="143.2" cy="188.1" r="3" fill="#be7895"/>
<circle cx="164.5" cy="186.1" r="3" fill="#a861a0"/>
<circle cx="162.4" cy="186.2" r="3" fill="#b26b9b"/>
<circle cx="146.5" cy="188.5" r="3" fill="#be7895"/>
<circle cx="201.9" cy="185.8" r="3" fill="#dc9986"/>
<circle cx="179.9" cy="190.6" r="3" fill="#944aaa"/>
<circle cx="158.3" cy="186.5" r="3" fill="#bf7995"/>
<circle cx="219.9" cy="185.2" r="3" fill="#eaa87f"/>
<circle cx="173.9" cy="189.1" r="3" fill="#ae679d"/>
<circle cx="207.4" cy="184.2" r="3" fill="#f0ae7d"/>
<circle cx="217.6" cy="189.7" r="3" fill="#f3b27b"/>
<circle cx="138.4" cy="188.1" r="3" fill="#c27c93"/>
<circle cx="211.2" cy="186.3" r="3" fill="#eead7d"/>
<circle cx="194.7" cy="188.0" r="3" fill="#c47e92"/>
<circle cx="217.0" cy="187.6" r="3" fill="#e6a481"/>
<circle cx="145.8" cy="186.5" r="3" fill="#cf8b8d"/>
<circle cx="204.1" cy="188.3" r="3" fill="#d69289"/>
<circle cx="179.7" cy="188.9" r="3" fill="#a75fa1"/>
<circle cx="215.2" cy="184.9" r="3" fill="#f1b07c"/>
<circle cx="170.3" cy="187.5" r="3" fill="#b16a9c"/>
<circle cx="190.4" cy="185.6" r="3" fill="#b46d9a"/>
<circle cx="192.0" cy="186.3" r="3" fill="#be7895"/>
<circle cx="224.1" cy="185.6" r="3" fill="#e9a780"/>
<circle cx="178.6" cy="192.7" r="3" fill="#a55da2"/>
<circle cx="169.6" cy="188.5" r="3" fill="#a65ea1"/>
<circle cx="176.9" cy="187.3" r="3" fill="#974ea9"/>
<circle cx="151.3" cy="186.3" r="3" fill="#c27d93"/>
<circle cx="218.8" cy="189.6" r="3" fill="#f3b27b"/>
<circle cx="195.7" cy="185.4" r="3" fill="#ce8a8d"/>
<circle cx="232.0" cy="187.4" r="3" fill="#f0af7c"/>
<circle cx="208.4" cy="186.1" r="3" fill="#efad7d"/>
<circle cx="188.1" cy="184.8" r="3" fill="#a35ba2"/>
<circle cx="187.9" cy="189.7" r="3" fill="#a961a0"/>
<circle cx="180.2" cy="181.9" r="3" fill="#ab649f"/>
<circle cx="140.3" cy="186.3" r="3" fill="#c88390"/>
<circle cx="186.2" cy="191.2" r="3" fill="#9f56a5"/>
<circle cx="179.5" cy="185.9" r="3" fill="#964da9"/>
<circle cx="173.6" cy="187.5" r="3" fill="#a159a3"/>
<circle cx="186.3" cy="184.2" r="3" fill="#a45ca2"/>
<circle cx="184.3" cy="180.9" r="3" fill="#9b52a7"/>
<circle cx="183.1" cy="192.2" r="3" fill="#9c53a6"/>
<circle cx="210.9" cy="184.7" r="3" fill="#f3b27b"/>
<circle cx="177.8" cy="185.3" r="3" fill="#9249ab"/>
<circle cx="191.2" cy="188.6" r="3" fill="#a159a4"/>
<circle cx="139.8" cy="188.2" r="3" fill="#bb7597"/>
<circle cx="208.7" cy="188.4" r="3" fill="#edac7e"/>
<circle cx="221.3" cy="187.5" r="3" fill="#f3b27b"/>
<circle cx="191.5" cy="207.1" r="3" fill="#b67099"/>
<circle cx="219.5" cy="208.4" r="3" fill="#efad7d"/>
<circle cx="217.1" cy="207.8" r="3" fill="#eaa97f"/>
<circle cx="211.7" cy="207.7" r="3" fill="#e8a681"/>
<circle cx="174.9" cy="211.0" r="3" fill="#954ca9"/>
<circle cx="186.6" cy="207.3" r="3" fill="#a25aa3"/>
<circle cx="177.6" cy="202.9" r="3" fill="#8e44ad"/>
<circle cx="172.7" cy="207.3" r="3" fill="#9046ac"/>
<circle cx="211.8" cy="209.7" r="3" fill="#eead7d"/>
<circle cx="203.3" cy="207.6" r="3" fill="#e4a183"/>
<circle cx="186.8" cy="210.2" r="3" fill="#a45ca2"/>
<circle cx="221.3" cy="210.7" r="3" fill="#edac7e"/>
<circle cx="214.5" cy="209.3" r="3" fill="#e7a581"/>
<circle cx="177.0" cy="207.3" r="3" fill="#944baa"/>
<circle cx="202.1" cy="206.3" r="3" fill="#dc9986"/>
<circle cx="222.3" cy="208.9" r="3" fill="#f3b27b"/>
<circle cx="178.7" cy="214.9" r="3" fill="#974ea9"/>
<circle cx="181.4" cy="203.9" r="3" fill="#974ea9"/>
<circle cx="179.5" cy="213.0" r="3" fill="#9b52a7"/>
<circle cx="189.2" cy="208.7" r="3" fill="#b0699c"/>
<circle cx="193.2" cy="210.5" r="3" fill="#c27d93"/>
<circle cx="195.4" cy="208.4" r="3" fill="#c07b94"/>
<circle cx="198.2" cy="206.7" r="3" fill="#d69289"/>
<circle cx="217.9" cy="206.7" r="3" fill="#eba97f"/>
<circle cx="197.6" cy="209.1" r="3" fill="#ce8a8d"/>
<circle cx="195.3" cy="210.5" r="3" fill="#c27c93"/>
<circle cx="203.6" cy="209.9" r="3" fill="#e09d85"/>
<circle cx="201.4" cy="207.8" r="3" fill="#da9787"/>
<circle cx="210.2" cy="206.0" r="3" fill="#e6a481"/>
<circle cx="188.8" cy="206.8" r="3" fill="#af689d"/>
<circle cx="184.7" cy="211.2" r="3" fill="#a75fa1"/>
<circle cx="187.8" cy="205.5" r="3" fill="#a55da2"/>
<circle cx="183.5" cy="209.5" r="3" fill="#9c53a6"/>
<circle cx="182.5" cy="212.4" r="3" fill="#a55da2"/>
<circle cx="221.3" cy="209.0" r="3" fill="#f0af7c"/>
<circle cx="225.2" cy="207.2" r="3" fill="#ebaa7f"/>
<circle cx="178.4" cy="206.5" r="3" fill="#9e55a5"/>
<circle cx="208.6" cy="207.8" r="3" fill="#e3a183"/>
<circle cx="212.2" cy="206.0" r="3" fill="#ecaa7f"/>
<circle cx="172.5" cy="212.0" r="3" fill="#8f45ad"/>
<circle cx="213.8" cy="208.1" r="3" fill="#efae7d"/>
<circle cx="205.5" cy="207.7" r="3" fill="#f3b27b"/>
<circle cx="177.6" cy="205.0" r="3" fill="#8e44ad"/>
<circle cx="174.9" cy="204.0" r="3" fill="#9d55a5"/>
<circle cx="180.5" cy="215.7" r="3" fill="#9950a8"/>
<circle cx="194.3" cy="208.7" r="3" fill="#c37e93"/>
<circle cx="205.6" cy="210.1" r="3" fill="#f0af7c"/>
<circle cx="180.6" cy="211.2" r="3" fill="#9c53a6"/>
<circle cx="172.5" cy="210.0" r="3" fill="#8f45ac"/>
<circle cx="178.8" cy="202.6" r="3" fill="#954ca9"/>
<circle cx="214.9" cy="211.4" r="3" fill="#edab7e"/>
<circle cx="199.2" cy="210.8" r="3" fill="#d89588"/>
<circle cx="225.9" cy="208.7" r="3" fill="#f1b07c"/>
<circle cx="179.0" cy="208.3" r="3" fill="#974da9"/>
<circle cx="178.0" cy="204.3" r="3" fill="#984ea8"/>
<circle cx="216.6" cy="209.6" r="3" fill="#f3b27b"/>
<circle cx="180.9" cy="206.4" r="3" fill="#9349ab"/>
<circle cx="178.6" cy="210.6" r="3" fill="#9148ab"/>
<circle cx="194.2" cy="207.3" r="3" fill="#c27c93"/>
<circle cx="185.4" cy="209.1" r="3" fill="#a057a4"/>
<circle cx="224.6" cy="210.6" r="3" fill="#f3b27b"/>
<circle cx="217.3" cy="206.1" r="3" fill="#eba97f"/>
<circle cx="209.1" cy="209.6" r="3" fill="#ecab7e"/>
<circle cx="176.8" cy="212.4" r="3" fill="#9249ab"/>
<circle cx="200.2" cy="206.7" r="3" fill="#e5a382"/>
<circle cx="183.4" cy="203.4" r="3" fill="#984fa8"/>
<circle cx="173.2" cy="205.5" r="3" fill="#8e44ad"/>
<circle cx="206.5" cy="205.7" r="3" fill="#eead7d"/>
<circle cx="183.0" cy="207.4" r="3" fill="#9d55a5"/>
<circle cx="176.4" cy="210.0" r="3" fill="#944baa"/>
<circle cx="203.6" cy="211.4" r="3" fill="#e09d84"/>
<circle cx="185.3" cy="206.8" r="3" fill="#a65ea1"/>
<circle cx="202.4" cy="209.8" r="3" fill="#dd9a86"/>
<circle cx="181.3" cy="213.5" r="3" fill="#974ea8"/>
<circle cx="183.6" cy="205.6" r="3" fill="#9e56a5"/>
<circle cx="180.1" cy="201.8" r="3" fill="#984ea8"/>
<circle cx="200.6" cy="208.5" r="3" fill="#d89588"/>
<circle cx="210.2" cy="207.8" r="3" fill="#f3b27b"/>
<circle cx="181.2" cy="209.0" r="3" fill="#9b52a7"/>
<circle cx="209.4" cy="210.0" r="3" fill="#eaa880"/>
<circle cx="177.5" cy="214.6" r="3" fill="#984fa8"/>
<circle cx="174.4" cy="209.0" r="3" fill="#9349ab"/>
<circle cx="191.0" cy="208.5" r="3" fill="#bb7597"/>
<circle cx="175.4" cy="206.5" r="3" fill="#9248ab"/>
<circle cx="188.8" cy="228.8" r="3" fill="#b16a9c"/>
<circle cx="208.5" cy="231.1" r="3" fill="#cb878f"/>
<circle cx="176.0" cy="228.2" r="3" fill="#8e44ad"/>
<circle cx="177.6" cy="232.0" r="3" fill="#9349ab"/>
<circle cx="181.6" cy="227.0" r="3" fill="#8e44ad"/>
<circle cx="182.9" cy="226.3" r="3" fill="#be7895"/>
<circle cx="185.0" cy="231.1" r="3" fill="#954ca9"/>
<circle cx="178.8" cy="227.5" r="3" fill="#b0699c"/>
<circle cx="181.5" cy="233.3" r="3" fill="#a55da2"/>
<circle cx="175.5" cy="229.2" r="3" fill="#a860a0"/>
<circle cx="187.3" cy="229.2" r="3" fill="#f3b27b"/>
<circle cx="175.2" cy="231.5" r="3" fill="#aa639f"/>
<circle cx="181.0" cy="235.3" r="3" fill="#da9787"/>
<circle cx="182.7" cy="228.7" r="3" fill="#f3b27b"/>
<circle cx="187.1" cy="236.2" r="3" fill="#a057a4"/>
<circle cx="180.7" cy="231.1" r="3" fill="#c98490"/>
<circle cx="202.0" cy="230.3" r="3" fill="#dd9a86"/>
<circle cx="199.8" cy="232.1" r="3" fill="#ca858f"/>
<circle cx="191.3" cy="227.8" r="3" fill="#bd7796"/>
<circle cx="187.0" cy="233.5" r="3" fill="#d08c8c"/>
<circle cx="202.0" cy="231.6" r="3" fill="#cd888e"/>
<circle cx="191.8" cy="230.2" r="3" fill="#d08c8c"/>
<circle cx="193.4" cy="231.8" r="3" fill="#f2b17b"/>
<circle cx="179.0" cy="232.5" r="3" fill="#8f46ac"/>
<circle cx="189.7" cy="231.2" r="3" fill="#e6a481"/>
<circle cx="194.4" cy="228.3" r="3" fill="#d08b8d"/>
<circle cx="186.1" cy="226.1" r="3" fill="#f3b27b"/>
<circle cx="190.0" cy="226.4" r="3" fill="#f3b27b"/>
<circle cx="177.8" cy="230.4" r="3" fill="#9a51a7"/>
<circle cx="196.0" cy="233.3" r="3" fill="#da9787"/>
<circle cx="200.5" cy="230.2" r="3" fill="#d08c8c"/>
<circle cx="191.8" cy="232.7" r="3" fill="#cc878e"/>
<circle cx="193.4" cy="230.2" r="3" fill="#a65ea1"/>
<circle cx="187.1" cy="231.3" r="3" fill="#b67099"/>
<circle cx="181.2" cy="224.7" r="3" fill="#bf7a95"/>
<circle cx="204.0" cy="229.8" r="3" fill="#c98590"/>
<circle cx="172.5" cy="230.3" r="3" fill="#9a51a7"/>
<circle cx="185.3" cy="233.9" r="3" fill="#9e56a5"/>
<circle cx="180.6" cy="229.0" r="3" fill="#9046ac"/>
<circle cx="206.7" cy="228.8" r="3" fill="#f3b27b"/>
<circle cx="171.8" cy="232.6" r="3" fill="#af679d"/>
<circle cx="187.8" cy="226.4" r="3" fill="#964ca9"/>
<circle cx="179.2" cy="230.1" r="3" fill="#a75fa1"/>
<circle cx="197.9" cy="230.3" r="3" fill="#c58092"/>
<circle cx="207.0" cy="231.3" r="3" fill="#b87298"/>
<circle cx="195.3" cy="231.6" r="3" fill="#dd9a86"/>
<circle cx="182.8" cy="233.9" r="3" fill="#ecab7e"/>
<circle cx="178.5" cy="225.3" r="3" fill="#d4908a"/>
<circle cx="183.5" cy="231.5" r="3" fill="#d69289"/>
<circle cx="193.2" cy="234.0" r="3" fill="#f3b27b"/>
<circle cx="188.6" cy="233.4" r="3" fill="#eba97f"/>
<circle cx="195.6" cy="228.9" r="3" fill="#c57f92"/>
<circle cx="208.1" cy="229.1" r="3" fill="#8e44ad"/>
<circle cx="177.2" cy="234.2" r="3" fill="#e8a681"/>
<circle cx="206.3" cy="229.8" r="3" fill="#d4908a"/>
<circle cx="185.8" cy="229.3" r="3" fill="#ce8a8d"/>
<circle cx="197.5" cy="227.8" r="3" fill="#ca858f"/>
<circle cx="189.0" cy="247.2" r="3" fill="#d28e8b"/>
<circle cx="200.5" cy="253.8" r="3" fill="#e4a282"/>
<circle cx="202.3" cy="249.6" r="3" fill="#eba97f"/>
<circle cx="189.8" cy="253.3" r="3" fill="#df9c85"/>
<circle cx="172.0" cy="251.2" r="3" fill="#974da9"/>
<circle cx="202.9" cy="251.7" r="3" fill="#efae7d"/>
<circle cx="192.4" cy="250.1" r="3" fill="#dd9a86"/>
<circle cx="182.0" cy="249.1" r="3" fill="#be7895"/>
<circle cx="197.3" cy="249.0" r="3" fill="#eba97f"/>
<circle cx="187.8" cy="251.2" r="3" fill="#d4908a"/>
<circle cx="188.3" cy="253.5" r="3" fill="#d4918a"/>
<circle cx="176.2" cy="249.1" r="3" fill="#9b52a7"/>
<circle cx="191.9" cy="255.3" r="3" fill="#d89588"/>
<circle cx="175.5" cy="251.1" r="3" fill="#a058a4"/>
<circle cx="193.5" cy="248.0" r="3" fill="#d99688"/>
<circle cx="171.6" cy="253.2" r="3" fill="#8f45ac"/>
<circle cx="201.4" cy="253.1" r="3" fill="#e9a780"/>
<circle cx="177.8" cy="256.5" r="3" fill="#a35ba2"/>
<circle cx="183.2" cy="253.9" r="3" fill="#b87198"/>
<circle cx="195.4" cy="254.3" r="3" fill="#e09d84"/>
<circle cx="186.0" cy="254.0" r="3" fill="#cb878f"/>
<circle cx="187.4" cy="256.2" r="3" fill="#cd898e"/>
<circle cx="183.7" cy="247.3" r="3" fill="#bc7696"/>
<circle cx="179.7" cy="256.0" r="3" fill="#a55da1"/>
<circle cx="185.9" cy="256.3" r="3" fill="#bf7a95"/>
<circle cx="171.1" cy="255.3" r="3" fill="#9d55a5"/>
<circle cx="170.3" cy="251.3" r="3" fill="#944baa"/>
<circle cx="191.0" cy="252.8" r="3" fill="#e5a382"/>
<circle cx="197.7" cy="252.2" r="3" fill="#e7a581"/>
<circle cx="188.9" cy="251.3" r="3" fill="#d79489"/>
<circle cx="193.4" cy="252.4" r="3" fill="#dd9a86"/>
<circle cx="178.9" cy="254.1" r="3" fill="#aa639f"/>
<circle cx="182.7" cy="251.8" r="3" fill="#bd7796"/>
<circle cx="181.1" cy="253.3" r="3" fill="#b26b9b"/>
<circle cx="171.1" cy="249.6" r="3" fill="#9248ab"/>
<circle cx="178.8" cy="249.0" r="3" fill="#ab649e"/>
<circle cx="195.4" cy="248.7" r="3" fill="#ecab7e"/>
<circle cx="180.9" cy="255.7" r="3" fill="#ba7497"/>
<circle cx="175.6" cy="246.5" r="3" fill="#9c53a6"/>
<circle cx="174.2" cy="256.4" r="3" fill="#a45ca2"/>
<circle cx="195.0" cy="252.2" r="3" fill="#e7a581"/>
<circle cx="179.4" cy="251.8" r="3" fill="#b26b9b"/>
<circle cx="172.2" cy="256.2" r="3" fill="#9c53a6"/>
<circle cx="184.9" cy="246.6" r="3" fill="#bb7597"/>
<circle cx="174.6" cy="253.7" r="3" fill="#9c53a6"/>
<circle cx="174.4" cy="249.1" r="3" fill="#9d54a6"/>
<circle cx="193.2" cy="250.7" r="3" fill="#db9887"/>
<circle cx="186.1" cy="249.0" r="3" fill="#c88390"/>
<circle cx="189.5" cy="249.4" r="3" fill="#d89588"/>
<circle cx="176.5" cy="253.7" r="3" fill="#9b52a6"/>
<circle cx="195.5" cy="250.2" r="3" fill="#e29f83"/>
<circle cx="170.3" cy="247.9" r="3" fill="#9046ac"/>
<circle cx="182.7" cy="249.2" r="3" fill="#c88390"/>
<circle cx="180.5" cy="251.5" r="3" fill="#b46d9a"/>
<circle cx="191.0" cy="247.7" r="3" fill="#d28e8b"/>
<circle cx="173.4" cy="248.8" r="3" fill="#9d54a6"/>
<circle cx="172.0" cy="254.2" r="3" fill="#9c53a6"/>
<circle cx="197.9" cy="250.7" r="3" fill="#e8a680"/>
<circle cx="185.0" cy="251.2" r="3" fill="#c37e93"/>
<circle cx="187.6" cy="249.1" r="3" fill="#c98490"/>
<circle cx="177.3" cy="251.6" r="3" fill="#a65ea1"/>
<circle cx="200.2" cy="251.6" r="3" fill="#e9a780"/>
<circle cx="157.8" cy="273.5" r="3" fill="#a159a4"/>
<circle cx="177.0" cy="268.3" r="3" fill="#b77099"/>
<circle cx="154.7" cy="272.2" r="3" fill="#8e44ad"/>
<circle cx="169.1" cy="271.3" r="3" fill="#ab649e"/>
<circle cx="174.2" cy="268.9" r="3" fill="#b87198"/>
<circle cx="163.6" cy="273.6" r="3" fill="#9c53a6"/>
<circle cx="176.7" cy="275.2" r="3" fill="#ab649f"/>
<circle cx="172.1" cy="272.7" r="3" fill="#b77199"/>
<circle cx="176.8" cy="277.0" r="3" fill="#cf8b8d"/>
<circle cx="175.7" cy="270.9" r="3" fill="#eba97f"/>
<circle cx="178.5" cy="275.4" r="3" fill="#e7a581"/>
<circle cx="166.8" cy="273.0" r="3" fill="#aa639f"/>
<circle cx="172.2" cy="274.6" r="3" fill="#bf7a95"/>
<circle cx="176.3" cy="273.1" r="3" fill="#c88391"/>
<circle cx="173.6" cy="271.4" r="3" fill="#c98490"/>
<circle cx="164.2" cy="272.2" r="3" fill="#9a52a7"/>
<circle cx="165.8" cy="273.7" r="3" fill="#9e55a5"/>
<circle cx="159.2" cy="273.2" r="3" fill="#8e44ad"/>
<circle cx="173.8" cy="279.0" r="3" fill="#c68191"/>
<circle cx="172.3" cy="277.2" r="3" fill="#bd7896"/>
<circle cx="160.8" cy="273.5" r="3" fill="#a25aa3"/>
<circle cx="156.9" cy="272.5" r="3" fill="#8e44ad"/>
<circle cx="154.9" cy="273.5" r="3" fill="#984fa8"/>
<circle cx="167.1" cy="274.4" r="3" fill="#a159a3"/>
<circle cx="172.5" cy="268.3" r="3" fill="#a860a0"/>
<circle cx="166.3" cy="271.7" r="3" fill="#9b52a7"/>
<circle cx="174.0" cy="274.3" r="3" fill="#ca8590"/>
<circle cx="170.4" cy="273.8" r="3" fill="#a35aa3"/>
<circle cx="158.6" cy="272.0" r="3" fill="#8e44ad"/>
<circle cx="167.3" cy="270.9" r="3" fill="#aa629f"/>
<circle cx="161.9" cy="271.9" r="3" fill="#9b52a6"/>
<circle cx="178.1" cy="270.3" r="3" fill="#d99688"/>
<circle cx="177.5" cy="273.0" r="3" fill="#e5a382"/>
<circle cx="173.3" cy="276.4" r="3" fill="#d4908a"/>
<circle cx="172.7" cy="270.3" r="3" fill="#b56f9a"/>
<circle cx="181.1" cy="272.6" r="3" fill="#f3b27b"/>
<circle cx="168.1" cy="288.6" r="3" fill="#eba97f"/>
<circle cx="180.5" cy="294.5" r="3" fill="#ac649e"/>
<circle cx="187.2" cy="296.4" r="3" fill="#8e44ad"/>
<circle cx="169.9" cy="295.6" r="3" fill="#edab7e"/>
<circle cx="177.5" cy="294.5" r="3" fill="#a961a0"/>
<circle cx="183.3" cy="292.9" r="3" fill="#9c54a6"/>
<circle cx="167.2" cy="295.4" r="3" fill="#e9a780"/>
<circle cx="184.5" cy="291.3" r="3" fill="#8e44ad"/>
<circle cx="182.8" cy="287.9" r="3" fill="#984fa8"/>
<circle cx="180.3" cy="289.3" r="3" fill="#a25aa3"/>
<circle cx="174.2" cy="292.1" r="3" fill="#d3908b"/>
<circle cx="184.3" cy="299.1" r="3" fill="#9a51a7"/>
<circle cx="176.3" cy="299.9" r="3" fill="#b0699c"/>
<circle cx="178.6" cy="291.7" r="3" fill="#ae679d"/>
<circle cx="173.6" cy="296.3" r="3" fill="#b77199"/>
<circle cx="180.4" cy="298.7" r="3" fill="#9950a8"/>
<circle cx="187.3" cy="297.9" r="3" fill="#954baa"/>
<circle cx="175.5" cy="297.2" r="3" fill="#b36c9b"/>
<circle cx="171.3" cy="293.4" r="3" fill="#d38f8b"/>
<circle cx="170.9" cy="297.2" r="3" fill="#e3a183"/>
<circle cx="179.8" cy="296.5" r="3" fill="#944baa"/>
<circle cx="182.5" cy="295.3" r="3" fill="#8e44ad"/>
<circle cx="182.8" cy="290.3" r="3" fill="#9c53a6"/>
<circle cx="184.3" cy="297.5" r="3" fill="#9a51a7"/>
<circle cx="180.9" cy="300.6" r="3" fill="#b77199"/>
<circle cx="184.9" cy="295.5" r="3" fill="#9c54a6"/>
<circle cx="184.6" cy="293.3" r="3" fill="#a45ca2"/>
<circle cx="169.8" cy="292.8" r="3" fill="#f2b17b"/>
<circle cx="177.5" cy="299.3" r="3" fill="#a75fa1"/>
<circle cx="166.4" cy="293.4" r="3" fill="#e3a083"/>
<circle cx="181.8" cy="298.0" r="3" fill="#9148ab"/>
<circle cx="175.0" cy="294.2" r="3" fill="#c27d93"/>
<circle cx="166.6" cy="297.9" r="3" fill="#eba97f"/>
<circle cx="176.9" cy="295.6" r="3" fill="#ab649e"/>
<circle cx="165.8" cy="288.6" r="3" fill="#e7a581"/>
<circle cx="170.2" cy="288.8" r="3" fill="#e3a183"/>
<circle cx="168.1" cy="292.9" r="3" fill="#f3b27b"/>
<circle cx="165.4" cy="295.7" r="3" fill="#e8a681"/>
<circle cx="178.9" cy="296.2" r="3" fill="#b36c9b"/>
<circle cx="172.1" cy="295.1" r="3" fill="#cd898e"/>
<circle cx="187.3" cy="290.4" r="3" fill="#984fa8"/>
<circle cx="165.8" cy="291.1" r="3" fill="#e5a382"/>
<circle cx="175.7" cy="290.9" r="3" fill="#c27c93"/>
<circle cx="171.7" cy="297.0" r="3" fill="#d4918a"/>
<circle cx="181.3" cy="291.8" r="3" fill="#ab649e"/>
<circle cx="170.2" cy="290.9" r="3" fill="#de9c85"/>
<circle cx="187.5" cy="292.0" r="3" fill="#8e44ad"/>
<circle cx="167.4" cy="297.5" r="3" fill="#dd9a86"/>
<circle cx="173.7" cy="298.2" r="3" fill="#b97398"/>
<circle cx="175.5" cy="293.0" r="3" fill="#a75fa1"/>
<circle cx="179.0" cy="301.2" r="3" fill="#b97398"/>
<circle cx="178.2" cy="289.1" r="3" fill="#a65ea1"/>
<circle cx="169.7" cy="299.8" r="3" fill="#f0af7c"/>
<circle cx="167.7" cy="291.2" r="3" fill="#f1b07c"/>
<circle cx="187.4" cy="294.4" r="3" fill="#8e44ad"/>
<circle cx="184.1" cy="319.1" r="3" fill="#f0af7d"/>
<circle cx="180.6" cy="313.4" r="3" fill="#efae7d"/>
<circle cx="184.1" cy="310.2" r="3" fill="#ecaa7f"/>
<circle cx="183.8" cy="321.1" r="3" fill="#e7a581"/>
<circle cx="172.2" cy="314.2" r="3" fill="#a9629f"/>
<circle cx="168.3" cy="316.8" r="3" fill="#a65ea1"/>
<circle cx="170.1" cy="315.6" r="3" fill="#8e44ad"/>
<circle cx="176.4" cy="315.7" r="3" fill="#8f45ac"/>
<circle cx="181.0" cy="317.6" r="3" fill="#cd888e"/>
<circle cx="183.4" cy="312.0" r="3" fill="#e2a083"/>
<circle cx="180.9" cy="315.4" r="3" fill="#e4a282"/>
<circle cx="174.3" cy="315.3" r="3" fill="#ab639f"/>
<circle cx="169.0" cy="314.3" r="3" fill="#9a51a7"/>
<circle cx="183.2" cy="316.6" r="3" fill="#dc9986"/>
<circle cx="181.7" cy="311.1" r="3" fill="#dd9a86"/>
<circle cx="176.6" cy="316.8" r="3" fill="#b0699c"/>
<circle cx="175.6" cy="314.0" r="3" fill="#974ea9"/>
<circle cx="173.4" cy="315.8" r="3" fill="#984fa8"/>
<circle cx="183.3" cy="308.3" r="3" fill="#f3b27b"/>
<circle cx="182.8" cy="314.7" r="3" fill="#f3b27b"/>
<circle cx="178.4" cy="315.5" r="3" fill="#d28e8b"/>
<circle cx="183.1" cy="323.1" r="3" fill="#f3b27b"/>
<circle cx="182.0" cy="320.0" r="3" fill="#e9a780"/>
<circle cx="174.0" cy="340.6" r="3" fill="#f1b07c"/>
<circle cx="174.3" cy="335.3" r="3" fill="#ce898d"/>
<circle cx="173.9" cy="337.9" r="3" fill="#e09d84"/>
<circle cx="180.4" cy="335.4" r="3" fill="#c88390"/>
<circle cx="175.5" cy="333.3" r="3" fill="#de9b85"/>
<circle cx="185.2" cy="337.8" r="3" fill="#a961a0"/>
<circle cx="174.4" cy="333.4" r="3" fill="#e19e84"/>
<circle cx="181.9" cy="339.2" r="3" fill="#ad669d"/>
<circle cx="179.0" cy="341.4" r="3" fill="#cb878f"/>
<circle cx="179.7" cy="340.5" r="3" fill="#c37d93"/>
<circle cx="182.3" cy="334.9" r="3" fill="#b46e9a"/>
<circle cx="178.7" cy="332.7" r="3" fill="#e5a382"/>
<circle cx="176.7" cy="335.9" r="3" fill="#cb868f"/>
<circle cx="177.5" cy="337.2" r="3" fill="#e4a282"/>
<circle cx="185.1" cy="333.7" r="3" fill="#8e44ad"/>
<circle cx="176.4" cy="338.1" r="3" fill="#f2b17c"/>
<circle cx="183.7" cy="340.2" r="3" fill="#9d54a6"/>
<circle cx="182.1" cy="337.3" r="3" fill="#c57f92"/>
<circle cx="176.4" cy="340.2" r="3" fill="#f3b27b"/>
<circle cx="180.2" cy="338.3" r="3" fill="#c58092"/>
<circle cx="178.3" cy="334.2" r="3" fill="#f3b27b"/>
<circle cx="177.5" cy="339.0" r="3" fill="#dd9a86"/>
<circle cx="181.8" cy="341.5" r="3" fill="#e29f83"/>
<circle cx="179.8" cy="333.5" r="3" fill="#ce8a8d"/>
<circle cx="184.2" cy="335.7" r="3" fill="#8f45ac"/>
</g>
<rect x="84.3" y="16.5" width="224" height="341.7" fill="none" stroke="#333" stroke-width="1.2"/>
<line x1="108.5" y1="358.2" x2="108.5" y2="361.2" stroke="#333" stroke-width="0.8"/>
<text x="108.5" y="374.1" font-size="14" text-anchor="middle" fill="#333">&#8722;0.2</text>
<line x1="179.5" y1="358.2" x2="179.5" y2="361.2" stroke="#333" stroke-width="0.8"/>
<text x="179.5" y="374.1" font-size="14" text-anchor="middle" fill="#333">0.0</text>
<line x1="250.5" y1="358.2" x2="250.5" y2="361.2" stroke="#333" stroke-width="0.8"/>
<text x="250.5" y="374.1" font-size="14" text-anchor="middle" fill="#333">0.2</text>
<text x="65" y="42.56" font-size="14" text-anchor="end" fill="#333">B12</text>
<text x="65" y="63.92" font-size="14" text-anchor="end" fill="#333">B6</text>
<text x="65" y="85.28" font-size="14" text-anchor="end" fill="#333">B11</text>
<text x="65" y="106.64" font-size="14" text-anchor="end" fill="#333">OCO-2 SIF</text>
<text x="65" y="128" font-size="14" text-anchor="end" fill="#333">B5</text>
<text x="65" y="149.36" font-size="14" text-anchor="end" fill="#333">B7</text>
<text x="65" y="170.72" font-size="14" text-anchor="end" fill="#333">PSRI</text>
<text x="65" y="192.08" font-size="14" text-anchor="end" fill="#333">PVI</text>
<text x="65" y="213.44" font-size="14" text-anchor="end" fill="#333">TanSat SIF</text>
<text x="65" y="234.8" font-size="14" text-anchor="end" fill="#333">NIRv</text>
<text x="65" y="256.16" font-size="14" text-anchor="end" fill="#333">B8A</text>
<text x="65" y="277.52" font-size="14" text-anchor="end" fill="#333">B2</text>
<text x="65" y="298.88" font-size="14" text-anchor="end" fill="#333">B8</text>
<text x="65" y="320.24" font-size="14" text-anchor="end" fill="#333">B4</text>
<text x="65" y="341.6" font-size="14" text-anchor="end" fill="#333">B3</text>
<text x="196.2" y="390.1" font-size="14" text-anchor="middle" fill="#333">SHAP Value</text>
<text x="196.1" y="11.4" font-size="14" text-anchor="middle" fill="#333">SHAP Summary Plot</text>
<text x="292.5" y="349.3" font-size="15" text-anchor="middle" fill="#000" font-weight="bold">(a)</text>
<defs><linearGradient id="cga" x1="0" y1="1" x2="0" y2="0">
<stop offset="0.0" stop-color="#f3b27b"/>
<stop offset="1.0" stop-color="#8e44ad"/>
</linearGradient></defs>
<rect x="313.2" y="16.6" width="3.8" height="341.7" fill="url(#cga)" fill-opacity="1"/>
<rect x="313.2" y="16.6" width="3.8" height="341.7" fill="none" stroke="#333" stroke-width="0.8"/>
<line x1="317" y1="322.35" x2="319.8" y2="322.35" stroke="#333" stroke-width="0.8"/>
<text x="323" y="327.35" font-size="14" text-anchor="start" fill="#222">0.100</text>
<line x1="317" y1="276.5" x2="319.8" y2="276.5" stroke="#333" stroke-width="0.8"/>
<text x="323" y="281.5" font-size="14" text-anchor="start" fill="#222">0.125</text>
<line x1="317" y1="230.64" x2="319.8" y2="230.64" stroke="#333" stroke-width="0.8"/>
<text x="323" y="235.64" font-size="14" text-anchor="start" fill="#222">0.150</text>
<line x1="317" y1="184.79" x2="319.8" y2="184.79" stroke="#333" stroke-width="0.8"/>
<text x="323" y="189.79" font-size="14" text-anchor="start" fill="#222">0.175</text>
<line x1="317" y1="138.94" x2="319.8" y2="138.94" stroke="#333" stroke-width="0.8"/>
<text x="323" y="143.94" font-size="14" text-anchor="start" fill="#222">0.200</text>
<line x1="317" y1="93.08" x2="319.8" y2="93.08" stroke="#333" stroke-width="0.8"/>
<text x="323" y="98.08" font-size="14" text-anchor="start" fill="#222">0.225</text>
<line x1="317" y1="47.23" x2="319.8" y2="47.23" stroke="#333" stroke-width="0.8"/>
<text x="323" y="52.23" font-size="14" text-anchor="start" fill="#222">0.250</text>
<line x1="441.7" y1="19.9" x2="441.7" y2="357.1" stroke="#d2d2d2" stroke-width="0.8"/>
<line x1="520.55" y1="19.9" x2="520.55" y2="357.1" stroke="#d2d2d2" stroke-width="0.8"/>
<line x1="599.4" y1="19.9" x2="599.4" y2="357.1" stroke="#d2d2d2" stroke-width="0.8"/>
<line x1="410.8" y1="351.2" x2="643.4" y2="351.2" stroke="#d2d2d2" stroke-width="0.8"/>
<line x1="410.8" y1="278.4" x2="643.4" y2="278.4" stroke="#d2d2d2" stroke-width="0.8"/>
<line x1="410.8" y1="205.6" x2="643.4" y2="205.6" stroke="#d2d2d2" stroke-width="0.8"/>
<line x1="410.8" y1="132.8" x2="643.4" y2="132.8" stroke="#d2d2d2" stroke-width="0.8"/>
<line x1="410.8" y1="60" x2="643.4" y2="60" stroke="#d2d2d2" stroke-width="0.8"/>
<g>
<circle cx="421.2" cy="341.4" r="3.6" fill="#f3b27b" fill-opacity="0.8" stroke="#000" stroke-opacity="0.9" stroke-width="0.9"/>
<circle cx="421.5" cy="339.0" r="3.6" fill="#f3b27b" fill-opacity="0.8" stroke="#000" stroke-opacity="0.9" stroke-width="0.9"/>
<circle cx="423.3" cy="340.4" r="3.6" fill="#f2b17c" fill-opacity="0.8" stroke="#000" stroke-opacity="0.9" stroke-width="0.9"/>
<circle cx="424.2" cy="338.3" r="3.6" fill="#f2b07c" fill-opacity="0.8" stroke="#000" stroke-opacity="0.9" stroke-width="0.9"/>
<circle cx="424.0" cy="336.2" r="3.6" fill="#f2b17c" fill-opacity="0.8" stroke="#000" stroke-opacity="0.9" stroke-width="0.9"/>
<circle cx="426.9" cy="338.7" r="3.6" fill="#f0af7c" fill-opacity="0.8" stroke="#000" stroke-opacity="0.9" stroke-width="0.9"/>
<circle cx="425.4" cy="334.6" r="3.6" fill="#f1b07c" fill-opacity="0.8" stroke="#000" stroke-opacity="0.9" stroke-width="0.9"/>
<circle cx="427.7" cy="336.2" r="3.6" fill="#f0af7d" fill-opacity="0.8" stroke="#000" stroke-opacity="0.9" stroke-width="0.9"/>
<circle cx="430.2" cy="336.1" r="3.6" fill="#efad7d" fill-opacity="0.8" stroke="#000" stroke-opacity="0.9" stroke-width="0.9"/>
<circle cx="431.8" cy="335.2" r="3.6" fill="#eeac7e" fill-opacity="0.8" stroke="#000" stroke-opacity="0.9" stroke-width="0.9"/>
<circle cx="429.8" cy="331.2" r="3.6" fill="#efae7d" fill-opacity="0.8" stroke="#000" stroke-opacity="0.9" stroke-width="0.9"/>
<circle cx="432.0" cy="331.7" r="3.6" fill="#eeac7e" fill-opacity="0.8" stroke="#000" stroke-opacity="0.9" stroke-width="0.9"/>
<circle cx="433.8" cy="331.2" r="3.6" fill="#edab7e" fill-opacity="0.8" stroke="#000" stroke-opacity="0.9" stroke-width="0.9"/>
<circle cx="435.5" cy="332.0" r="3.6" fill="#ecab7e" fill-opacity="0.8" stroke="#000" stroke-opacity="0.9" stroke-width="0.9"/>
<circle cx="434.8" cy="327.7" r="3.6" fill="#ecab7e" fill-opacity="0.8" stroke="#000" stroke-opacity="0.9" stroke-width="0.9"/>
<circle cx="438.0" cy="330.5" r="3.6" fill="#eba97f" fill-opacity="0.8" stroke="#000" stroke-opacity="0.9" stroke-width="0.9"/>
<circle cx="437.3" cy="328.5" r="3.6" fill="#ebaa7f" fill-opacity="0.8" stroke="#000" stroke-opacity="0.9" stroke-width="0.9"/>
<circle cx="436.7" cy="326.6" r="3.6" fill="#ecaa7f" fill-opacity="0.8" stroke="#000" stroke-opacity="0.9" stroke-width="0.9"/>
<circle cx="440.8" cy="328.6" r="3.6" fill="#eaa880" fill-opacity="0.8" stroke="#000" stroke-opacity="0.9" stroke-width="0.9"/>
<circle cx="439.1" cy="324.4" r="3.6" fill="#eaa97f" fill-opacity="0.8" stroke="#000" stroke-opacity="0.9" stroke-width="0.9"/>
<circle cx="441.5" cy="326.6" r="3.6" fill="#e9a780" fill-opacity="0.8" stroke="#000" stroke-opacity="0.9" stroke-width="0.9"/>
<circle cx="440.5" cy="322.7" r="3.6" fill="#eaa880" fill-opacity="0.8" stroke="#000" stroke-opacity="0.9" stroke-width="0.9"/>
<circle cx="444.7" cy="325.6" r="3.6" fill="#e8a681" fill-opacity="0.8" stroke="#000" stroke-opacity="0.9" stroke-width="0.9"/>
<circle cx="442.6" cy="321.3" r="3.6" fill="#e9a780" fill-opacity="0.8" stroke="#000" stroke-opacity="0.9" stroke-width="0.9"/>
<circle cx="444.7" cy="321.9" r="3.6" fill="#e8a681" fill-opacity="0.8" stroke="#000" stroke-opacity="0.9" stroke-width="0.9"/>
<circle cx="447.1" cy="323.1" r="3.6" fill="#e7a581" fill-opacity="0.8" stroke="#000" stroke-opacity="0.9" stroke-width="0.9"/>
<circle cx="447.3" cy="319.9" r="3.6" fill="#e7a481" fill-opacity="0.8" stroke="#000" stroke-opacity="0.9" stroke-width="0.9"/>
<circle cx="449.4" cy="319.9" r="3.6" fill="#e5a382" fill-opacity="0.8" stroke="#000" stroke-opacity="0.9" stroke-width="0.9"/>
<circle cx="450.0" cy="317.5" r="3.6" fill="#e5a382" fill-opacity="0.8" stroke="#000" stroke-opacity="0.9" stroke-width="0.9"/>
<circle cx="450.4" cy="315.4" r="3.6" fill="#e5a382" fill-opacity="0.8" stroke="#000" stroke-opacity="0.9" stroke-width="0.9"/>
<circle cx="452.6" cy="317.5" r="3.6" fill="#e4a282" fill-opacity="0.8" stroke="#000" stroke-opacity="0.9" stroke-width="0.9"/>
<circle cx="452.3" cy="314.4" r="3.6" fill="#e4a282" fill-opacity="0.8" stroke="#000" stroke-opacity="0.9" stroke-width="0.9"/>
<circle cx="454.1" cy="315.8" r="3.6" fill="#e3a183" fill-opacity="0.8" stroke="#000" stroke-opacity="0.9" stroke-width="0.9"/>
<circle cx="456.0" cy="316.2" r="3.6" fill="#e2a083" fill-opacity="0.8" stroke="#000" stroke-opacity="0.9" stroke-width="0.9"/>
<circle cx="454.2" cy="313.1" r="3.6" fill="#e3a183" fill-opacity="0.8" stroke="#000" stroke-opacity="0.9" stroke-width="0.9"/>
<circle cx="456.6" cy="314.0" r="3.6" fill="#e2a083" fill-opacity="0.8" stroke="#000" stroke-opacity="0.9" stroke-width="0.9"/>
<circle cx="458.7" cy="313.2" r="3.6" fill="#e19e84" fill-opacity="0.8" stroke="#000" stroke-opacity="0.9" stroke-width="0.9"/>
<circle cx="457.8" cy="309.9" r="3.6" fill="#e29f84" fill-opacity="0.8" stroke="#000" stroke-opacity="0.9" stroke-width="0.9"/>
<circle cx="460.8" cy="312.1" r="3.6" fill="#e09d84" fill-opacity="0.8" stroke="#000" stroke-opacity="0.9" stroke-width="0.9"/>
<circle cx="460.1" cy="309.1" r="3.6" fill="#e09e84" fill-opacity="0.8" stroke="#000" stroke-opacity="0.9" stroke-width="0.9"/>
<circle cx="461.6" cy="308.2" r="3.6" fill="#e09d85" fill-opacity="0.8" stroke="#000" stroke-opacity="0.9" stroke-width="0.9"/>
<circle cx="462.3" cy="306.4" r="3.6" fill="#df9d85" fill-opacity="0.8" stroke="#000" stroke-opacity="0.9" stroke-width="0.9"/>
<circle cx="464.3" cy="307.9" r="3.6" fill="#de9c85" fill-opacity="0.8" stroke="#000" stroke-opacity="0.9" stroke-width="0.9"/>
<circle cx="464.1" cy="304.6" r="3.6" fill="#de9c85" fill-opacity="0.8" stroke="#000" stroke-opacity="0.9" stroke-width="0.9"/>
<circle cx="467.2" cy="306.3" r="3.6" fill="#dd9a86" fill-opacity="0.8" stroke="#000" stroke-opacity="0.9" stroke-width="0.9"/>
<circle cx="466.9" cy="303.1" r="3.6" fill="#dd9a86" fill-opacity="0.8" stroke="#000" stroke-opacity="0.9" stroke-width="0.9"/>
<circle cx="468.4" cy="302.1" r="3.6" fill="#dc9986" fill-opacity="0.8" stroke="#000" stroke-opacity="0.9" stroke-width="0.9"/>
<circle cx="468.8" cy="299.9" r="3.6" fill="#dc9986" fill-opacity="0.8" stroke="#000" stroke-opacity="0.9" stroke-width="0.9"/>
<circle cx="471.7" cy="302.8" r="3.6" fill="#db9887" fill-opacity="0.8" stroke="#000" stroke-opacity="0.9" stroke-width="0.9"/>
<circle cx="471.1" cy="298.2" r="3.6" fill="#db9887" fill-opacity="0.8" stroke="#000" stroke-opacity="0.9" stroke-width="0.9"/>
<circle cx="473.7" cy="300.2" r="3.6" fill="#da9787" fill-opacity="0.8" stroke="#000" stroke-opacity="0.9" stroke-width="0.9"/>
<circle cx="472.3" cy="296.1" r="3.6" fill="#db9787" fill-opacity="0.8" stroke="#000" stroke-opacity="0.9" stroke-width="0.9"/>
<circle cx="473.5" cy="294.8" r="3.6" fill="#da9787" fill-opacity="0.8" stroke="#000" stroke-opacity="0.9" stroke-width="0.9"/>
<circle cx="476.4" cy="296.6" r="3.6" fill="#d99588" fill-opacity="0.8" stroke="#000" stroke-opacity="0.9" stroke-width="0.9"/>
<circle cx="476.3" cy="293.5" r="3.6" fill="#d99588" fill-opacity="0.8" stroke="#000" stroke-opacity="0.9" stroke-width="0.9"/>
<circle cx="479.8" cy="294.6" r="3.6" fill="#d79389" fill-opacity="0.8" stroke="#000" stroke-opacity="0.9" stroke-width="0.9"/>
<circle cx="478.0" cy="291.9" r="3.6" fill="#d89488" fill-opacity="0.8" stroke="#000" stroke-opacity="0.9" stroke-width="0.9"/>
<circle cx="480.6" cy="292.4" r="3.6" fill="#d79389" fill-opacity="0.8" stroke="#000" stroke-opacity="0.9" stroke-width="0.9"/>
<circle cx="478.7" cy="290.0" r="3.6" fill="#d89489" fill-opacity="0.8" stroke="#000" stroke-opacity="0.9" stroke-width="0.9"/>
<circle cx="481.9" cy="291.0" r="3.6" fill="#d69289" fill-opacity="0.8" stroke="#000" stroke-opacity="0.9" stroke-width="0.9"/>
<circle cx="480.0" cy="287.0" r="3.6" fill="#d79389" fill-opacity="0.8" stroke="#000" stroke-opacity="0.9" stroke-width="0.9"/>
<circle cx="483.7" cy="289.5" r="3.6" fill="#d5918a" fill-opacity="0.8" stroke="#000" stroke-opacity="0.9" stroke-width="0.9"/>
<circle cx="483.2" cy="287.5" r="3.6" fill="#d5928a" fill-opacity="0.8" stroke="#000" stroke-opacity="0.9" stroke-width="0.9"/>
<circle cx="488.1" cy="284.7" r="3.6" fill="#d38f8b" fill-opacity="0.8" stroke="#000" stroke-opacity="0.9" stroke-width="0.9"/>
<circle cx="489.6" cy="281.7" r="3.6" fill="#d28e8b" fill-opacity="0.8" stroke="#000" stroke-opacity="0.9" stroke-width="0.9"/>
<circle cx="487.8" cy="278.7" r="3.6" fill="#d38f8b" fill-opacity="0.8" stroke="#000" stroke-opacity="0.9" stroke-width="0.9"/>
<circle cx="491.1" cy="275.7" r="3.6" fill="#d28e8c" fill-opacity="0.8" stroke="#000" stroke-opacity="0.9" stroke-width="0.9"/>
<circle cx="494.2" cy="277.9" r="3.6" fill="#d08c8c" fill-opacity="0.8" stroke="#000" stroke-opacity="0.9" stroke-width="0.9"/>
<circle cx="498.7" cy="276.4" r="3.6" fill="#ce8a8d" fill-opacity="0.8" stroke="#000" stroke-opacity="0.9" stroke-width="0.9"/>
<circle cx="493.4" cy="272.6" r="3.6" fill="#d08c8c" fill-opacity="0.8" stroke="#000" stroke-opacity="0.9" stroke-width="0.9"/>
<circle cx="496.4" cy="268.9" r="3.6" fill="#cf8b8d" fill-opacity="0.8" stroke="#000" stroke-opacity="0.9" stroke-width="0.9"/>
<circle cx="492.6" cy="268.1" r="3.6" fill="#d18d8c" fill-opacity="0.8" stroke="#000" stroke-opacity="0.9" stroke-width="0.9"/>
<circle cx="500.2" cy="268.1" r="3.6" fill="#cd898e" fill-opacity="0.8" stroke="#000" stroke-opacity="0.9" stroke-width="0.9"/>
<circle cx="494.9" cy="264.3" r="3.6" fill="#d08c8c" fill-opacity="0.8" stroke="#000" stroke-opacity="0.9" stroke-width="0.9"/>
<circle cx="497.2" cy="260.6" r="3.6" fill="#cf8a8d" fill-opacity="0.8" stroke="#000" stroke-opacity="0.9" stroke-width="0.9"/>
<circle cx="494.2" cy="257.5" r="3.6" fill="#d08c8c" fill-opacity="0.8" stroke="#000" stroke-opacity="0.9" stroke-width="0.9"/>
<circle cx="500.2" cy="254.5" r="3.6" fill="#cd898e" fill-opacity="0.8" stroke="#000" stroke-opacity="0.9" stroke-width="0.9"/>
<circle cx="497.9" cy="253.8" r="3.6" fill="#ce8a8d" fill-opacity="0.8" stroke="#000" stroke-opacity="0.9" stroke-width="0.9"/>
<circle cx="502.5" cy="251.5" r="3.6" fill="#cc888e" fill-opacity="0.8" stroke="#000" stroke-opacity="0.9" stroke-width="0.9"/>
<circle cx="504.0" cy="248.5" r="3.6" fill="#cb878f" fill-opacity="0.8" stroke="#000" stroke-opacity="0.9" stroke-width="0.9"/>
<circle cx="501.7" cy="244.7" r="3.6" fill="#cd888e" fill-opacity="0.8" stroke="#000" stroke-opacity="0.9" stroke-width="0.9"/>
<circle cx="505.5" cy="240.2" r="3.6" fill="#cb868f" fill-opacity="0.8" stroke="#000" stroke-opacity="0.9" stroke-width="0.9"/>
<circle cx="507.7" cy="236.4" r="3.6" fill="#ca858f" fill-opacity="0.8" stroke="#000" stroke-opacity="0.9" stroke-width="0.9"/>
<circle cx="506.2" cy="231.9" r="3.6" fill="#ca868f" fill-opacity="0.8" stroke="#000" stroke-opacity="0.9" stroke-width="0.9"/>
<circle cx="510.0" cy="234.2" r="3.6" fill="#c98490" fill-opacity="0.8" stroke="#000" stroke-opacity="0.9" stroke-width="0.9"/>
<circle cx="510.8" cy="226.6" r="3.6" fill="#c88390" fill-opacity="0.8" stroke="#000" stroke-opacity="0.9" stroke-width="0.9"/>
<circle cx="515.3" cy="222.1" r="3.6" fill="#c68191" fill-opacity="0.8" stroke="#000" stroke-opacity="0.9" stroke-width="0.9"/>
<circle cx="513.0" cy="215.3" r="3.6" fill="#c78291" fill-opacity="0.8" stroke="#000" stroke-opacity="0.9" stroke-width="0.9"/>
<circle cx="516.0" cy="219.1" r="3.6" fill="#c68191" fill-opacity="0.8" stroke="#000" stroke-opacity="0.9" stroke-width="0.9"/>
<circle cx="516.8" cy="210.8" r="3.6" fill="#c58092" fill-opacity="0.8" stroke="#000" stroke-opacity="0.9" stroke-width="0.9"/>
<circle cx="515.3" cy="206.2" r="3.6" fill="#c68191" fill-opacity="0.8" stroke="#000" stroke-opacity="0.9" stroke-width="0.9"/>
<circle cx="519.8" cy="208.5" r="3.6" fill="#c47f92" fill-opacity="0.8" stroke="#000" stroke-opacity="0.9" stroke-width="0.9"/>
<circle cx="522.1" cy="207.0" r="3.6" fill="#c37d93" fill-opacity="0.8" stroke="#000" stroke-opacity="0.9" stroke-width="0.9"/>
<circle cx="520.6" cy="196.4" r="3.6" fill="#c47e93" fill-opacity="0.8" stroke="#000" stroke-opacity="0.9" stroke-width="0.9"/>
<circle cx="525.1" cy="198.7" r="3.6" fill="#c17c94" fill-opacity="0.8" stroke="#000" stroke-opacity="0.9" stroke-width="0.9"/>
<circle cx="522.8" cy="194.2" r="3.6" fill="#c27d93" fill-opacity="0.8" stroke="#000" stroke-opacity="0.9" stroke-width="0.9"/>
<circle cx="504.7" cy="260.6" r="3.6" fill="#cb878f" fill-opacity="0.8" stroke="#000" stroke-opacity="0.9" stroke-width="0.9"/>
<circle cx="505.5" cy="264.3" r="3.6" fill="#cb868f" fill-opacity="0.8" stroke="#000" stroke-opacity="0.9" stroke-width="0.9"/>
<circle cx="510.8" cy="251.5" r="3.6" fill="#c88390" fill-opacity="0.8" stroke="#000" stroke-opacity="0.9" stroke-width="0.9"/>
<circle cx="514.5" cy="252.7" r="3.6" fill="#c68191" fill-opacity="0.8" stroke="#000" stroke-opacity="0.9" stroke-width="0.9"/>
<circle cx="512.3" cy="259.1" r="3.6" fill="#c78391" fill-opacity="0.8" stroke="#000" stroke-opacity="0.9" stroke-width="0.9"/>
<circle cx="511.5" cy="264.3" r="3.6" fill="#c88390" fill-opacity="0.8" stroke="#000" stroke-opacity="0.9" stroke-width="0.9"/>
<circle cx="513.0" cy="266.6" r="3.6" fill="#c78291" fill-opacity="0.8" stroke="#000" stroke-opacity="0.9" stroke-width="0.9"/>
<circle cx="517.5" cy="243.2" r="3.6" fill="#c58092" fill-opacity="0.8" stroke="#000" stroke-opacity="0.9" stroke-width="0.9"/>
<circle cx="521.3" cy="247.3" r="3.6" fill="#c37e93" fill-opacity="0.8" stroke="#000" stroke-opacity="0.9" stroke-width="0.9"/>
<circle cx="525.1" cy="241.7" r="3.6" fill="#c17c94" fill-opacity="0.8" stroke="#000" stroke-opacity="0.9" stroke-width="0.9"/>
<circle cx="525.8" cy="235.7" r="3.6" fill="#c17c94" fill-opacity="0.8" stroke="#000" stroke-opacity="0.9" stroke-width="0.9"/>
<circle cx="530.4" cy="233.4" r="3.6" fill="#bf7995" fill-opacity="0.8" stroke="#000" stroke-opacity="0.9" stroke-width="0.9"/>
<circle cx="529.6" cy="221.3" r="3.6" fill="#bf7a95" fill-opacity="0.8" stroke="#000" stroke-opacity="0.9" stroke-width="0.9"/>
<circle cx="537.9" cy="225.1" r="3.6" fill="#bb7597" fill-opacity="0.8" stroke="#000" stroke-opacity="0.9" stroke-width="0.9"/>
<circle cx="542.5" cy="220.6" r="3.6" fill="#b97398" fill-opacity="0.8" stroke="#000" stroke-opacity="0.9" stroke-width="0.9"/>
<circle cx="534.9" cy="213.0" r="3.6" fill="#bd7796" fill-opacity="0.8" stroke="#000" stroke-opacity="0.9" stroke-width="0.9"/>
<circle cx="538.7" cy="207.7" r="3.6" fill="#bb7597" fill-opacity="0.8" stroke="#000" stroke-opacity="0.9" stroke-width="0.9"/>
<circle cx="547.0" cy="213.5" r="3.6" fill="#b77199" fill-opacity="0.8" stroke="#000" stroke-opacity="0.9" stroke-width="0.9"/>
<circle cx="545.5" cy="198.4" r="3.6" fill="#b87198" fill-opacity="0.8" stroke="#000" stroke-opacity="0.9" stroke-width="0.9"/>
<circle cx="544.0" cy="199.4" r="3.6" fill="#b87298" fill-opacity="0.8" stroke="#000" stroke-opacity="0.9" stroke-width="0.9"/>
<circle cx="553.8" cy="180.6" r="3.6" fill="#b46d9a" fill-opacity="0.8" stroke="#000" stroke-opacity="0.9" stroke-width="0.9"/>
<circle cx="528.9" cy="171.8" r="3.6" fill="#c07a94" fill-opacity="0.8" stroke="#000" stroke-opacity="0.9" stroke-width="0.9"/>
<circle cx="536.4" cy="172.7" r="3.6" fill="#bc7696" fill-opacity="0.8" stroke="#000" stroke-opacity="0.9" stroke-width="0.9"/>
<circle cx="526.6" cy="179.1" r="3.6" fill="#c17b94" fill-opacity="0.8" stroke="#000" stroke-opacity="0.9" stroke-width="0.9"/>
<circle cx="531.9" cy="181.8" r="3.6" fill="#be7895" fill-opacity="0.8" stroke="#000" stroke-opacity="0.9" stroke-width="0.9"/>
<circle cx="528.9" cy="184.8" r="3.6" fill="#c07a94" fill-opacity="0.8" stroke="#000" stroke-opacity="0.9" stroke-width="0.9"/>
<circle cx="530.4" cy="189.0" r="3.6" fill="#bf7995" fill-opacity="0.8" stroke="#000" stroke-opacity="0.9" stroke-width="0.9"/>
<circle cx="537.2" cy="176.8" r="3.6" fill="#bc7696" fill-opacity="0.8" stroke="#000" stroke-opacity="0.9" stroke-width="0.9"/>
<circle cx="557.5" cy="171.5" r="3.6" fill="#b26b9b" fill-opacity="0.8" stroke="#000" stroke-opacity="0.9" stroke-width="0.9"/>
<circle cx="563.1" cy="94.4" r="3.6" fill="#af689d" fill-opacity="0.8" stroke="#000" stroke-opacity="0.9" stroke-width="0.9"/>
<circle cx="565.2" cy="95.8" r="3.6" fill="#ae679d" fill-opacity="0.8" stroke="#000" stroke-opacity="0.9" stroke-width="0.9"/>
<circle cx="558.7" cy="103.6" r="3.6" fill="#b16a9c" fill-opacity="0.8" stroke="#000" stroke-opacity="0.9" stroke-width="0.9"/>
<circle cx="556.9" cy="107.2" r="3.6" fill="#b26b9b" fill-opacity="0.8" stroke="#000" stroke-opacity="0.9" stroke-width="0.9"/>
<circle cx="552.6" cy="110.7" r="3.6" fill="#b46e9a" fill-opacity="0.8" stroke="#000" stroke-opacity="0.9" stroke-width="0.9"/>
<circle cx="555.2" cy="118.9" r="3.6" fill="#b36c9b" fill-opacity="0.8" stroke="#000" stroke-opacity="0.9" stroke-width="0.9"/>
<circle cx="558.2" cy="118.2" r="3.6" fill="#b26b9b" fill-opacity="0.8" stroke="#000" stroke-opacity="0.9" stroke-width="0.9"/>
<circle cx="551.7" cy="125.9" r="3.6" fill="#b56e9a" fill-opacity="0.8" stroke="#000" stroke-opacity="0.9" stroke-width="0.9"/>
<circle cx="556.1" cy="131.2" r="3.6" fill="#b36c9b" fill-opacity="0.8" stroke="#000" stroke-opacity="0.9" stroke-width="0.9"/>
<circle cx="585.0" cy="111.5" r="3.6" fill="#a55da2" fill-opacity="0.8" stroke="#000" stroke-opacity="0.9" stroke-width="0.9"/>
<circle cx="586.7" cy="115.0" r="3.6" fill="#a45ca2" fill-opacity="0.8" stroke="#000" stroke-opacity="0.9" stroke-width="0.9"/>
<circle cx="585.8" cy="119.9" r="3.6" fill="#a45ca2" fill-opacity="0.8" stroke="#000" stroke-opacity="0.9" stroke-width="0.9"/>
<circle cx="579.7" cy="123.8" r="3.6" fill="#a75fa1" fill-opacity="0.8" stroke="#000" stroke-opacity="0.9" stroke-width="0.9"/>
<circle cx="572.7" cy="133.4" r="3.6" fill="#ab639f" fill-opacity="0.8" stroke="#000" stroke-opacity="0.9" stroke-width="0.9"/>
<circle cx="570.1" cy="140.4" r="3.6" fill="#ac659e" fill-opacity="0.8" stroke="#000" stroke-opacity="0.9" stroke-width="0.9"/>
<circle cx="573.6" cy="140.4" r="3.6" fill="#aa639f" fill-opacity="0.8" stroke="#000" stroke-opacity="0.9" stroke-width="0.9"/>
<circle cx="573.9" cy="144.8" r="3.6" fill="#aa629f" fill-opacity="0.8" stroke="#000" stroke-opacity="0.9" stroke-width="0.9"/>
<circle cx="596.4" cy="134.7" r="3.6" fill="#9f57a4" fill-opacity="0.8" stroke="#000" stroke-opacity="0.9" stroke-width="0.9"/>
<circle cx="588.5" cy="141.3" r="3.6" fill="#a35ba3" fill-opacity="0.8" stroke="#000" stroke-opacity="0.9" stroke-width="0.9"/>
<circle cx="590.2" cy="143.4" r="3.6" fill="#a25aa3" fill-opacity="0.8" stroke="#000" stroke-opacity="0.9" stroke-width="0.9"/>
<circle cx="587.6" cy="146.6" r="3.6" fill="#a35ba2" fill-opacity="0.8" stroke="#000" stroke-opacity="0.9" stroke-width="0.9"/>
<circle cx="585.8" cy="148.3" r="3.6" fill="#a45ca2" fill-opacity="0.8" stroke="#000" stroke-opacity="0.9" stroke-width="0.9"/>
<circle cx="581.5" cy="153.6" r="3.6" fill="#a65fa1" fill-opacity="0.8" stroke="#000" stroke-opacity="0.9" stroke-width="0.9"/>
<circle cx="584.1" cy="154.5" r="3.6" fill="#a55da2" fill-opacity="0.8" stroke="#000" stroke-opacity="0.9" stroke-width="0.9"/>
<circle cx="567.4" cy="151.8" r="3.6" fill="#ad669e" fill-opacity="0.8" stroke="#000" stroke-opacity="0.9" stroke-width="0.9"/>
<circle cx="566.6" cy="155.3" r="3.6" fill="#ae669d" fill-opacity="0.8" stroke="#000" stroke-opacity="0.9" stroke-width="0.9"/>
<circle cx="565.7" cy="160.6" r="3.6" fill="#ae679d" fill-opacity="0.8" stroke="#000" stroke-opacity="0.9" stroke-width="0.9"/>
<circle cx="537.7" cy="147.4" r="3.6" fill="#bb7597" fill-opacity="0.8" stroke="#000" stroke-opacity="0.9" stroke-width="0.9"/>
<circle cx="542.0" cy="148.3" r="3.6" fill="#b97398" fill-opacity="0.8" stroke="#000" stroke-opacity="0.9" stroke-width="0.9"/>
<circle cx="532.4" cy="161.5" r="3.6" fill="#be7895" fill-opacity="0.8" stroke="#000" stroke-opacity="0.9" stroke-width="0.9"/>
<circle cx="538.9" cy="159.7" r="3.6" fill="#bb7597" fill-opacity="0.8" stroke="#000" stroke-opacity="0.9" stroke-width="0.9"/>
<circle cx="536.8" cy="162.3" r="3.6" fill="#bc7696" fill-opacity="0.8" stroke="#000" stroke-opacity="0.9" stroke-width="0.9"/>
<circle cx="535.0" cy="165.8" r="3.6" fill="#bd7796" fill-opacity="0.8" stroke="#000" stroke-opacity="0.9" stroke-width="0.9"/>
<circle cx="542.0" cy="167.6" r="3.6" fill="#b97398" fill-opacity="0.8" stroke="#000" stroke-opacity="0.9" stroke-width="0.9"/>
<circle cx="531.5" cy="167.6" r="3.6" fill="#be7995" fill-opacity="0.8" stroke="#000" stroke-opacity="0.9" stroke-width="0.9"/>
<circle cx="543.8" cy="169.3" r="3.6" fill="#b87298" fill-opacity="0.8" stroke="#000" stroke-opacity="0.9" stroke-width="0.9"/>
<circle cx="537.7" cy="174.6" r="3.6" fill="#bb7597" fill-opacity="0.8" stroke="#000" stroke-opacity="0.9" stroke-width="0.9"/>
<circle cx="535.9" cy="178.1" r="3.6" fill="#bc7696" fill-opacity="0.8" stroke="#000" stroke-opacity="0.9" stroke-width="0.9"/>
<circle cx="561.3" cy="166.7" r="3.6" fill="#b0699c" fill-opacity="0.8" stroke="#000" stroke-opacity="0.9" stroke-width="0.9"/>
<circle cx="584.1" cy="170.7" r="3.6" fill="#a55da2" fill-opacity="0.8" stroke="#000" stroke-opacity="0.9" stroke-width="0.9"/>
<circle cx="581.5" cy="179.0" r="3.6" fill="#a65fa1" fill-opacity="0.8" stroke="#000" stroke-opacity="0.9" stroke-width="0.9"/>
<circle cx="544.8" cy="196.5" r="3.6" fill="#b87298" fill-opacity="0.8" stroke="#000" stroke-opacity="0.9" stroke-width="0.9"/>
<circle cx="565.0" cy="200.6" r="3.6" fill="#ae679d" fill-opacity="0.8" stroke="#000" stroke-opacity="0.9" stroke-width="0.9"/>
<circle cx="540.4" cy="161.5" r="3.6" fill="#ba7497" fill-opacity="0.8" stroke="#000" stroke-opacity="0.9" stroke-width="0.9"/>
<circle cx="538.2" cy="166.6" r="3.6" fill="#bb7597" fill-opacity="0.8" stroke="#000" stroke-opacity="0.9" stroke-width="0.9"/>
<circle cx="530.2" cy="173.1" r="3.6" fill="#bf7995" fill-opacity="0.8" stroke="#000" stroke-opacity="0.9" stroke-width="0.9"/>
<circle cx="522.2" cy="214.0" r="3.6" fill="#c37d93" fill-opacity="0.8" stroke="#000" stroke-opacity="0.9" stroke-width="0.9"/>
<circle cx="592.5" cy="35.1" r="3.6" fill="#a159a4" fill-opacity="0.8" stroke="#000" stroke-opacity="0.9" stroke-width="0.9"/>
<circle cx="632.7" cy="36.7" r="3.6" fill="#8e44ad" fill-opacity="0.8" stroke="#000" stroke-opacity="0.9" stroke-width="0.9"/>
<circle cx="630.0" cy="87.2" r="3.6" fill="#8f45ac" fill-opacity="0.8" stroke="#000" stroke-opacity="0.9" stroke-width="0.9"/>
</g>
<path d="M420.5 339.0 C422.1 338.2 426.7 336.2 430.0 334.5 C433.3 332.8 436.8 331.3 440.5 329.0 C444.2 326.7 448.1 324.3 452.0 320.9 C455.9 317.5 459.8 312.8 463.6 308.5 C467.4 304.2 471.4 299.6 475.0 295.0 C478.6 290.4 482.8 284.5 485.0 281.0 C487.2 277.5 485.7 277.9 488.1 273.8 C490.5 269.7 495.8 262.1 499.5 256.3 C503.2 250.5 506.2 246.4 510.5 238.8 C514.8 231.2 518.8 222.4 525.0 211.0 C531.2 199.6 542.2 180.1 548.0 170.5 C553.8 160.9 556.5 158.5 560.0 153.3 C563.5 148.1 565.9 143.8 568.8 139.4 C571.7 135.1 574.7 130.9 577.6 127.2 C580.5 123.5 583.5 120.7 586.4 117.4 C589.3 114.2 592.3 110.6 595.2 107.7 C598.1 104.8 601.1 102.1 604.0 99.8 C606.9 97.5 609.9 95.6 612.8 94.0 C615.7 92.4 618.7 91.2 621.6 90.4 C624.5 89.6 628.9 89.3 630.4 89.1" fill="none" stroke="#ff2a2a" stroke-width="1.1"/>
<rect x="410.8" y="19.9" width="232.6" height="337.2" fill="none" stroke="#111" stroke-width="1.3"/>
<line x1="441.7" y1="357.1" x2="441.7" y2="360.1" stroke="#111" stroke-width="0.8"/>
<text x="441.7" y="373.8" font-size="15" text-anchor="middle" fill="#000">0.1</text>
<line x1="520.55" y1="357.1" x2="520.55" y2="360.1" stroke="#111" stroke-width="0.8"/>
<text x="520.55" y="373.8" font-size="15" text-anchor="middle" fill="#000">0.2</text>
<line x1="599.4" y1="357.1" x2="599.4" y2="360.1" stroke="#111" stroke-width="0.8"/>
<text x="599.4" y="373.8" font-size="15" text-anchor="middle" fill="#000">0.3</text>
<line x1="407.8" y1="351.2" x2="410.8" y2="351.2" stroke="#111" stroke-width="0.8"/>
<text x="403.8" y="356.7" font-size="15" text-anchor="end" fill="#000">&#8722;0.1</text>
<line x1="407.8" y1="278.4" x2="410.8" y2="278.4" stroke="#111" stroke-width="0.8"/>
<text x="403.8" y="283.9" font-size="15" text-anchor="end" fill="#000">0.0</text>
<line x1="407.8" y1="205.6" x2="410.8" y2="205.6" stroke="#111" stroke-width="0.8"/>
<text x="403.8" y="211.1" font-size="15" text-anchor="end" fill="#000">0.1</text>
<line x1="407.8" y1="132.8" x2="410.8" y2="132.8" stroke="#111" stroke-width="0.8"/>
<text x="403.8" y="138.3" font-size="15" text-anchor="end" fill="#000">0.2</text>
<line x1="407.8" y1="60" x2="410.8" y2="60" stroke="#111" stroke-width="0.8"/>
<text x="403.8" y="65.5" font-size="15" text-anchor="end" fill="#000">0.3</text>
<text x="527.1" y="15.1" font-size="15.3" text-anchor="middle" fill="#000">SHAP Dependence Plot for B12</text>
<text x="527.1" y="391.4" font-size="15.3" text-anchor="middle" fill="#000">B12 (Feature value)</text>
<text x="371.8" y="189.2" font-size="15.3" text-anchor="middle" fill="#000" transform="rotate(-90 371.8 189.2)">SHAP value for B12</text>
<text x="617.7" y="343.5" font-size="15" text-anchor="middle" fill="#000" font-weight="bold">(b)</text>
<defs><linearGradient id="cgb" x1="0" y1="1" x2="0" y2="0">
<stop offset="0.0" stop-color="#f3b27b"/>
<stop offset="1.0" stop-color="#8e44ad"/>
</linearGradient></defs>
<rect x="648.2" y="19.7" width="4.6" height="337.4" fill="url(#cgb)" fill-opacity="0.8"/>
<rect x="648.2" y="19.7" width="4.6" height="337.4" fill="none" stroke="#333" stroke-width="0.8"/>
<line x1="652.8" y1="324.46" x2="655.6" y2="324.46" stroke="#333" stroke-width="0.8"/>
<text x="658.8" y="329.96" font-size="15" text-anchor="start" fill="#000">0.10</text>
<line x1="652.8" y1="261.44" x2="655.6" y2="261.44" stroke="#333" stroke-width="0.8"/>
<text x="658.8" y="266.94" font-size="15" text-anchor="start" fill="#000">0.15</text>
<line x1="652.8" y1="198.42" x2="655.6" y2="198.42" stroke="#333" stroke-width="0.8"/>
<text x="658.8" y="203.92" font-size="15" text-anchor="start" fill="#000">0.20</text>
<line x1="652.8" y1="135.4" x2="655.6" y2="135.4" stroke="#333" stroke-width="0.8"/>
<text x="658.8" y="140.9" font-size="15" text-anchor="start" fill="#000">0.25</text>
<line x1="652.8" y1="72.38" x2="655.6" y2="72.38" stroke="#333" stroke-width="0.8"/>
<text x="658.8" y="77.88" font-size="15" text-anchor="start" fill="#000">0.30</text>
<line x1="94.5" y1="412.7" x2="94.5" y2="754.6" stroke="#d2d2d2" stroke-width="0.8"/>
<line x1="164.9" y1="412.7" x2="164.9" y2="754.6" stroke="#d2d2d2" stroke-width="0.8"/>
<line x1="235.3" y1="412.7" x2="235.3" y2="754.6" stroke="#d2d2d2" stroke-width="0.8"/>
<line x1="305.7" y1="412.7" x2="305.7" y2="754.6" stroke="#d2d2d2" stroke-width="0.8"/>
<line x1="85.6" y1="746.25" x2="307.8" y2="746.25" stroke="#d2d2d2" stroke-width="0.8"/>
<line x1="85.6" y1="705.76" x2="307.8" y2="705.76" stroke="#d2d2d2" stroke-width="0.8"/>
<line x1="85.6" y1="665.27" x2="307.8" y2="665.27" stroke="#d2d2d2" stroke-width="0.8"/>
<line x1="85.6" y1="624.79" x2="307.8" y2="624.79" stroke="#d2d2d2" stroke-width="0.8"/>
<line x1="85.6" y1="584.3" x2="307.8" y2="584.3" stroke="#d2d2d2" stroke-width="0.8"/>
<line x1="85.6" y1="543.81" x2="307.8" y2="543.81" stroke="#d2d2d2" stroke-width="0.8"/>
<line x1="85.6" y1="503.32" x2="307.8" y2="503.32" stroke="#d2d2d2" stroke-width="0.8"/>
<line x1="85.6" y1="462.84" x2="307.8" y2="462.84" stroke="#d2d2d2" stroke-width="0.8"/>
<line x1="85.6" y1="422.35" x2="307.8" y2="422.35" stroke="#d2d2d2" stroke-width="0.8"/>
<g>
<circle cx="107.5" cy="622.3" r="3.6" fill="#edab7e" fill-opacity="0.8" stroke="#000" stroke-opacity="0.9" stroke-width="0.9"/>
<circle cx="115.6" cy="623.2" r="3.6" fill="#e9a780" fill-opacity="0.8" stroke="#000" stroke-opacity="0.9" stroke-width="0.9"/>
<circle cx="133.9" cy="620.9" r="3.6" fill="#e09d85" fill-opacity="0.8" stroke="#000" stroke-opacity="0.9" stroke-width="0.9"/>
<circle cx="107.5" cy="629.7" r="3.6" fill="#edab7e" fill-opacity="0.8" stroke="#000" stroke-opacity="0.9" stroke-width="0.9"/>
<circle cx="107.1" cy="636.4" r="3.6" fill="#edab7e" fill-opacity="0.8" stroke="#000" stroke-opacity="0.9" stroke-width="0.9"/>
<circle cx="108.0" cy="640.3" r="3.6" fill="#ecab7e" fill-opacity="0.8" stroke="#000" stroke-opacity="0.9" stroke-width="0.9"/>
<circle cx="115.6" cy="638.2" r="3.6" fill="#e9a780" fill-opacity="0.8" stroke="#000" stroke-opacity="0.9" stroke-width="0.9"/>
<circle cx="115.6" cy="641.7" r="3.6" fill="#e9a780" fill-opacity="0.8" stroke="#000" stroke-opacity="0.9" stroke-width="0.9"/>
<circle cx="116.3" cy="648.7" r="3.6" fill="#e8a680" fill-opacity="0.8" stroke="#000" stroke-opacity="0.9" stroke-width="0.9"/>
<circle cx="115.6" cy="650.9" r="3.6" fill="#e9a780" fill-opacity="0.8" stroke="#000" stroke-opacity="0.9" stroke-width="0.9"/>
<circle cx="98.3" cy="633.8" r="3.6" fill="#f1b07c" fill-opacity="0.8" stroke="#000" stroke-opacity="0.9" stroke-width="0.9"/>
<circle cx="98.3" cy="638.2" r="3.6" fill="#f1b07c" fill-opacity="0.8" stroke="#000" stroke-opacity="0.9" stroke-width="0.9"/>
<circle cx="97.4" cy="641.7" r="3.6" fill="#f2b07c" fill-opacity="0.8" stroke="#000" stroke-opacity="0.9" stroke-width="0.9"/>
<circle cx="96.6" cy="645.2" r="3.6" fill="#f2b17c" fill-opacity="0.8" stroke="#000" stroke-opacity="0.9" stroke-width="0.9"/>
<circle cx="98.7" cy="647.9" r="3.6" fill="#f1b07c" fill-opacity="0.8" stroke="#000" stroke-opacity="0.9" stroke-width="0.9"/>
<circle cx="95.7" cy="649.6" r="3.6" fill="#f2b17b" fill-opacity="0.8" stroke="#000" stroke-opacity="0.9" stroke-width="0.9"/>
<circle cx="97.4" cy="653.1" r="3.6" fill="#f2b07c" fill-opacity="0.8" stroke="#000" stroke-opacity="0.9" stroke-width="0.9"/>
<circle cx="107.1" cy="651.9" r="3.6" fill="#edab7e" fill-opacity="0.8" stroke="#000" stroke-opacity="0.9" stroke-width="0.9"/>
<circle cx="108.0" cy="654.9" r="3.6" fill="#ecab7e" fill-opacity="0.8" stroke="#000" stroke-opacity="0.9" stroke-width="0.9"/>
<circle cx="103.6" cy="658.4" r="3.6" fill="#efad7d" fill-opacity="0.8" stroke="#000" stroke-opacity="0.9" stroke-width="0.9"/>
<circle cx="95.7" cy="658.4" r="3.6" fill="#f2b17b" fill-opacity="0.8" stroke="#000" stroke-opacity="0.9" stroke-width="0.9"/>
<circle cx="95.7" cy="662.8" r="3.6" fill="#f2b17b" fill-opacity="0.8" stroke="#000" stroke-opacity="0.9" stroke-width="0.9"/>
<circle cx="96.6" cy="666.4" r="3.6" fill="#f2b17c" fill-opacity="0.8" stroke="#000" stroke-opacity="0.9" stroke-width="0.9"/>
<circle cx="102.7" cy="666.4" r="3.6" fill="#efae7d" fill-opacity="0.8" stroke="#000" stroke-opacity="0.9" stroke-width="0.9"/>
<circle cx="103.6" cy="670.8" r="3.6" fill="#efad7d" fill-opacity="0.8" stroke="#000" stroke-opacity="0.9" stroke-width="0.9"/>
<circle cx="102.7" cy="677.8" r="3.6" fill="#efae7d" fill-opacity="0.8" stroke="#000" stroke-opacity="0.9" stroke-width="0.9"/>
<circle cx="96.6" cy="669.9" r="3.6" fill="#f2b17c" fill-opacity="0.8" stroke="#000" stroke-opacity="0.9" stroke-width="0.9"/>
<circle cx="94.8" cy="674.3" r="3.6" fill="#f3b27b" fill-opacity="0.8" stroke="#000" stroke-opacity="0.9" stroke-width="0.9"/>
<circle cx="95.7" cy="676.9" r="3.6" fill="#f2b17b" fill-opacity="0.8" stroke="#000" stroke-opacity="0.9" stroke-width="0.9"/>
<circle cx="97.4" cy="681.3" r="3.6" fill="#f2b07c" fill-opacity="0.8" stroke="#000" stroke-opacity="0.9" stroke-width="0.9"/>
<circle cx="96.6" cy="684.0" r="3.6" fill="#f2b17c" fill-opacity="0.8" stroke="#000" stroke-opacity="0.9" stroke-width="0.9"/>
<circle cx="95.7" cy="687.5" r="3.6" fill="#f2b17b" fill-opacity="0.8" stroke="#000" stroke-opacity="0.9" stroke-width="0.9"/>
<circle cx="97.4" cy="691.0" r="3.6" fill="#f2b07c" fill-opacity="0.8" stroke="#000" stroke-opacity="0.9" stroke-width="0.9"/>
<circle cx="99.2" cy="694.5" r="3.6" fill="#f1af7c" fill-opacity="0.8" stroke="#000" stroke-opacity="0.9" stroke-width="0.9"/>
<circle cx="104.5" cy="687.5" r="3.6" fill="#eead7d" fill-opacity="0.8" stroke="#000" stroke-opacity="0.9" stroke-width="0.9"/>
<circle cx="115.6" cy="670.2" r="3.6" fill="#e9a780" fill-opacity="0.8" stroke="#000" stroke-opacity="0.9" stroke-width="0.9"/>
<circle cx="97.4" cy="702.5" r="3.6" fill="#f2b07c" fill-opacity="0.8" stroke="#000" stroke-opacity="0.9" stroke-width="0.9"/>
<circle cx="96.6" cy="708.6" r="3.6" fill="#f2b17c" fill-opacity="0.8" stroke="#000" stroke-opacity="0.9" stroke-width="0.9"/>
<circle cx="98.3" cy="711.3" r="3.6" fill="#f1b07c" fill-opacity="0.8" stroke="#000" stroke-opacity="0.9" stroke-width="0.9"/>
<circle cx="96.6" cy="714.8" r="3.6" fill="#f2b17c" fill-opacity="0.8" stroke="#000" stroke-opacity="0.9" stroke-width="0.9"/>
<circle cx="98.3" cy="720.9" r="3.6" fill="#f1b07c" fill-opacity="0.8" stroke="#000" stroke-opacity="0.9" stroke-width="0.9"/>
<circle cx="96.6" cy="729.7" r="3.6" fill="#f2b17c" fill-opacity="0.8" stroke="#000" stroke-opacity="0.9" stroke-width="0.9"/>
<circle cx="99.2" cy="733.3" r="3.6" fill="#f1af7c" fill-opacity="0.8" stroke="#000" stroke-opacity="0.9" stroke-width="0.9"/>
<circle cx="98.7" cy="738.9" r="3.6" fill="#f1b07c" fill-opacity="0.8" stroke="#000" stroke-opacity="0.9" stroke-width="0.9"/>
<circle cx="94.8" cy="680.4" r="3.6" fill="#f3b27b" fill-opacity="0.8" stroke="#000" stroke-opacity="0.9" stroke-width="0.9"/>
<circle cx="100.1" cy="684.0" r="3.6" fill="#f0af7c" fill-opacity="0.8" stroke="#000" stroke-opacity="0.9" stroke-width="0.9"/>
<circle cx="133.2" cy="519.4" r="3.6" fill="#e09d84" fill-opacity="0.8" stroke="#000" stroke-opacity="0.9" stroke-width="0.9"/>
<circle cx="133.2" cy="526.2" r="3.6" fill="#e09d84" fill-opacity="0.8" stroke="#000" stroke-opacity="0.9" stroke-width="0.9"/>
<circle cx="133.2" cy="537.0" r="3.6" fill="#e09d84" fill-opacity="0.8" stroke="#000" stroke-opacity="0.9" stroke-width="0.9"/>
<circle cx="133.5" cy="544.0" r="3.6" fill="#e09d85" fill-opacity="0.8" stroke="#000" stroke-opacity="0.9" stroke-width="0.9"/>
<circle cx="134.1" cy="552.1" r="3.6" fill="#df9d85" fill-opacity="0.8" stroke="#000" stroke-opacity="0.9" stroke-width="0.9"/>
<circle cx="134.1" cy="558.3" r="3.6" fill="#df9d85" fill-opacity="0.8" stroke="#000" stroke-opacity="0.9" stroke-width="0.9"/>
<circle cx="134.1" cy="564.3" r="3.6" fill="#df9d85" fill-opacity="0.8" stroke="#000" stroke-opacity="0.9" stroke-width="0.9"/>
<circle cx="134.1" cy="567.2" r="3.6" fill="#df9d85" fill-opacity="0.8" stroke="#000" stroke-opacity="0.9" stroke-width="0.9"/>
<circle cx="134.1" cy="570.0" r="3.6" fill="#df9d85" fill-opacity="0.8" stroke="#000" stroke-opacity="0.9" stroke-width="0.9"/>
<circle cx="144.5" cy="545.1" r="3.6" fill="#da9787" fill-opacity="0.8" stroke="#000" stroke-opacity="0.9" stroke-width="0.9"/>
<circle cx="144.5" cy="549.2" r="3.6" fill="#da9787" fill-opacity="0.8" stroke="#000" stroke-opacity="0.9" stroke-width="0.9"/>
<circle cx="144.1" cy="562.1" r="3.6" fill="#da9787" fill-opacity="0.8" stroke="#000" stroke-opacity="0.9" stroke-width="0.9"/>
<circle cx="144.1" cy="569.1" r="3.6" fill="#da9787" fill-opacity="0.8" stroke="#000" stroke-opacity="0.9" stroke-width="0.9"/>
<circle cx="149.2" cy="579.8" r="3.6" fill="#d89588" fill-opacity="0.8" stroke="#000" stroke-opacity="0.9" stroke-width="0.9"/>
<circle cx="149.2" cy="551.5" r="3.6" fill="#d89588" fill-opacity="0.8" stroke="#000" stroke-opacity="0.9" stroke-width="0.9"/>
<circle cx="149.8" cy="558.7" r="3.6" fill="#d89489" fill-opacity="0.8" stroke="#000" stroke-opacity="0.9" stroke-width="0.9"/>
<circle cx="149.2" cy="544.5" r="3.6" fill="#d89588" fill-opacity="0.8" stroke="#000" stroke-opacity="0.9" stroke-width="0.9"/>
<circle cx="151.1" cy="535.1" r="3.6" fill="#d79489" fill-opacity="0.8" stroke="#000" stroke-opacity="0.9" stroke-width="0.9"/>
<circle cx="150.2" cy="523.8" r="3.6" fill="#d89489" fill-opacity="0.8" stroke="#000" stroke-opacity="0.9" stroke-width="0.9"/>
<circle cx="151.1" cy="519.1" r="3.6" fill="#d79489" fill-opacity="0.8" stroke="#000" stroke-opacity="0.9" stroke-width="0.9"/>
<circle cx="148.3" cy="515.3" r="3.6" fill="#d89588" fill-opacity="0.8" stroke="#000" stroke-opacity="0.9" stroke-width="0.9"/>
<circle cx="153.9" cy="532.3" r="3.6" fill="#d6928a" fill-opacity="0.8" stroke="#000" stroke-opacity="0.9" stroke-width="0.9"/>
<circle cx="146.4" cy="504.0" r="3.6" fill="#d99688" fill-opacity="0.8" stroke="#000" stroke-opacity="0.9" stroke-width="0.9"/>
<circle cx="148.3" cy="508.7" r="3.6" fill="#d89588" fill-opacity="0.8" stroke="#000" stroke-opacity="0.9" stroke-width="0.9"/>
<circle cx="153.0" cy="504.9" r="3.6" fill="#d69389" fill-opacity="0.8" stroke="#000" stroke-opacity="0.9" stroke-width="0.9"/>
<circle cx="159.6" cy="504.0" r="3.6" fill="#d38f8b" fill-opacity="0.8" stroke="#000" stroke-opacity="0.9" stroke-width="0.9"/>
<circle cx="160.5" cy="508.7" r="3.6" fill="#d28e8b" fill-opacity="0.8" stroke="#000" stroke-opacity="0.9" stroke-width="0.9"/>
<circle cx="153.9" cy="494.5" r="3.6" fill="#d6928a" fill-opacity="0.8" stroke="#000" stroke-opacity="0.9" stroke-width="0.9"/>
<circle cx="150.2" cy="495.5" r="3.6" fill="#d89489" fill-opacity="0.8" stroke="#000" stroke-opacity="0.9" stroke-width="0.9"/>
<circle cx="153.9" cy="487.0" r="3.6" fill="#d6928a" fill-opacity="0.8" stroke="#000" stroke-opacity="0.9" stroke-width="0.9"/>
<circle cx="153.0" cy="483.2" r="3.6" fill="#d69389" fill-opacity="0.8" stroke="#000" stroke-opacity="0.9" stroke-width="0.9"/>
<circle cx="148.3" cy="482.3" r="3.6" fill="#d89588" fill-opacity="0.8" stroke="#000" stroke-opacity="0.9" stroke-width="0.9"/>
<circle cx="153.0" cy="474.7" r="3.6" fill="#d69389" fill-opacity="0.8" stroke="#000" stroke-opacity="0.9" stroke-width="0.9"/>
<circle cx="154.9" cy="470.9" r="3.6" fill="#d5928a" fill-opacity="0.8" stroke="#000" stroke-opacity="0.9" stroke-width="0.9"/>
<circle cx="165.2" cy="478.5" r="3.6" fill="#d08c8c" fill-opacity="0.8" stroke="#000" stroke-opacity="0.9" stroke-width="0.9"/>
<circle cx="170.9" cy="481.3" r="3.6" fill="#cd898e" fill-opacity="0.8" stroke="#000" stroke-opacity="0.9" stroke-width="0.9"/>
<circle cx="170.9" cy="475.7" r="3.6" fill="#cd898e" fill-opacity="0.8" stroke="#000" stroke-opacity="0.9" stroke-width="0.9"/>
<circle cx="171.8" cy="471.9" r="3.6" fill="#cd888e" fill-opacity="0.8" stroke="#000" stroke-opacity="0.9" stroke-width="0.9"/>
<circle cx="161.5" cy="519.1" r="3.6" fill="#d28e8b" fill-opacity="0.8" stroke="#000" stroke-opacity="0.9" stroke-width="0.9"/>
<circle cx="166.2" cy="519.4" r="3.6" fill="#d08b8d" fill-opacity="0.8" stroke="#000" stroke-opacity="0.9" stroke-width="0.9"/>
<circle cx="160.5" cy="526.6" r="3.6" fill="#d28e8b" fill-opacity="0.8" stroke="#000" stroke-opacity="0.9" stroke-width="0.9"/>
<circle cx="162.4" cy="530.4" r="3.6" fill="#d18d8c" fill-opacity="0.8" stroke="#000" stroke-opacity="0.9" stroke-width="0.9"/>
<circle cx="162.4" cy="536.0" r="3.6" fill="#d18d8c" fill-opacity="0.8" stroke="#000" stroke-opacity="0.9" stroke-width="0.9"/>
<circle cx="162.4" cy="541.3" r="3.6" fill="#d18d8c" fill-opacity="0.8" stroke="#000" stroke-opacity="0.9" stroke-width="0.9"/>
<circle cx="157.7" cy="520.9" r="3.6" fill="#d4908a" fill-opacity="0.8" stroke="#000" stroke-opacity="0.9" stroke-width="0.9"/>
<circle cx="143.5" cy="547.4" r="3.6" fill="#db9887" fill-opacity="0.8" stroke="#000" stroke-opacity="0.9" stroke-width="0.9"/>
<circle cx="144.9" cy="558.7" r="3.6" fill="#da9787" fill-opacity="0.8" stroke="#000" stroke-opacity="0.9" stroke-width="0.9"/>
<circle cx="155.1" cy="449.7" r="3.6" fill="#d5918a" fill-opacity="0.8" stroke="#000" stroke-opacity="0.9" stroke-width="0.9"/>
<circle cx="194.7" cy="444.5" r="3.6" fill="#c27c93" fill-opacity="0.8" stroke="#000" stroke-opacity="0.9" stroke-width="0.9"/>
<circle cx="221.5" cy="427.8" r="3.6" fill="#b46e9a" fill-opacity="0.8" stroke="#000" stroke-opacity="0.9" stroke-width="0.9"/>
<circle cx="223.9" cy="433.2" r="3.6" fill="#b36c9b" fill-opacity="0.8" stroke="#000" stroke-opacity="0.9" stroke-width="0.9"/>
<circle cx="223.9" cy="437.8" r="3.6" fill="#b36c9b" fill-opacity="0.8" stroke="#000" stroke-opacity="0.9" stroke-width="0.9"/>
<circle cx="223.0" cy="441.4" r="3.6" fill="#b46d9a" fill-opacity="0.8" stroke="#000" stroke-opacity="0.9" stroke-width="0.9"/>
<circle cx="224.8" cy="440.5" r="3.6" fill="#b36c9b" fill-opacity="0.8" stroke="#000" stroke-opacity="0.9" stroke-width="0.9"/>
<circle cx="214.7" cy="442.4" r="3.6" fill="#b87198" fill-opacity="0.8" stroke="#000" stroke-opacity="0.9" stroke-width="0.9"/>
<circle cx="233.9" cy="437.8" r="3.6" fill="#ae679d" fill-opacity="0.8" stroke="#000" stroke-opacity="0.9" stroke-width="0.9"/>
<circle cx="237.5" cy="438.7" r="3.6" fill="#ac659e" fill-opacity="0.8" stroke="#000" stroke-opacity="0.9" stroke-width="0.9"/>
<circle cx="184.7" cy="464.2" r="3.6" fill="#c68291" fill-opacity="0.8" stroke="#000" stroke-opacity="0.9" stroke-width="0.9"/>
<circle cx="184.7" cy="467.9" r="3.6" fill="#c68291" fill-opacity="0.8" stroke="#000" stroke-opacity="0.9" stroke-width="0.9"/>
<circle cx="184.7" cy="472.5" r="3.6" fill="#c68291" fill-opacity="0.8" stroke="#000" stroke-opacity="0.9" stroke-width="0.9"/>
<circle cx="184.7" cy="477.9" r="3.6" fill="#c68291" fill-opacity="0.8" stroke="#000" stroke-opacity="0.9" stroke-width="0.9"/>
<circle cx="184.7" cy="489.4" r="3.6" fill="#c68291" fill-opacity="0.8" stroke="#000" stroke-opacity="0.9" stroke-width="0.9"/>
<circle cx="195.2" cy="481.6" r="3.6" fill="#c17c94" fill-opacity="0.8" stroke="#000" stroke-opacity="0.9" stroke-width="0.9"/>
<circle cx="196.5" cy="467.5" r="3.6" fill="#c17b94" fill-opacity="0.8" stroke="#000" stroke-opacity="0.9" stroke-width="0.9"/>
<circle cx="202.0" cy="456.0" r="3.6" fill="#be7895" fill-opacity="0.8" stroke="#000" stroke-opacity="0.9" stroke-width="0.9"/>
<circle cx="202.0" cy="464.2" r="3.6" fill="#be7895" fill-opacity="0.8" stroke="#000" stroke-opacity="0.9" stroke-width="0.9"/>
<circle cx="202.0" cy="469.7" r="3.6" fill="#be7895" fill-opacity="0.8" stroke="#000" stroke-opacity="0.9" stroke-width="0.9"/>
<circle cx="202.0" cy="476.1" r="3.6" fill="#be7895" fill-opacity="0.8" stroke="#000" stroke-opacity="0.9" stroke-width="0.9"/>
<circle cx="207.5" cy="454.2" r="3.6" fill="#bb7597" fill-opacity="0.8" stroke="#000" stroke-opacity="0.9" stroke-width="0.9"/>
<circle cx="207.5" cy="458.8" r="3.6" fill="#bb7597" fill-opacity="0.8" stroke="#000" stroke-opacity="0.9" stroke-width="0.9"/>
<circle cx="208.4" cy="462.8" r="3.6" fill="#bb7597" fill-opacity="0.8" stroke="#000" stroke-opacity="0.9" stroke-width="0.9"/>
<circle cx="212.0" cy="451.5" r="3.6" fill="#b97398" fill-opacity="0.8" stroke="#000" stroke-opacity="0.9" stroke-width="0.9"/>
<circle cx="212.9" cy="456.0" r="3.6" fill="#b97298" fill-opacity="0.8" stroke="#000" stroke-opacity="0.9" stroke-width="0.9"/>
<circle cx="212.9" cy="467.0" r="3.6" fill="#b97298" fill-opacity="0.8" stroke="#000" stroke-opacity="0.9" stroke-width="0.9"/>
<circle cx="215.7" cy="470.6" r="3.6" fill="#b77199" fill-opacity="0.8" stroke="#000" stroke-opacity="0.9" stroke-width="0.9"/>
<circle cx="217.5" cy="448.7" r="3.6" fill="#b67099" fill-opacity="0.8" stroke="#000" stroke-opacity="0.9" stroke-width="0.9"/>
<circle cx="218.4" cy="456.9" r="3.6" fill="#b66f99" fill-opacity="0.8" stroke="#000" stroke-opacity="0.9" stroke-width="0.9"/>
<circle cx="217.5" cy="464.2" r="3.6" fill="#b67099" fill-opacity="0.8" stroke="#000" stroke-opacity="0.9" stroke-width="0.9"/>
<circle cx="223.0" cy="469.7" r="3.6" fill="#b46d9a" fill-opacity="0.8" stroke="#000" stroke-opacity="0.9" stroke-width="0.9"/>
<circle cx="221.1" cy="481.6" r="3.6" fill="#b46e9a" fill-opacity="0.8" stroke="#000" stroke-opacity="0.9" stroke-width="0.9"/>
<circle cx="224.8" cy="479.7" r="3.6" fill="#b36c9b" fill-opacity="0.8" stroke="#000" stroke-opacity="0.9" stroke-width="0.9"/>
<circle cx="226.6" cy="486.1" r="3.6" fill="#b26b9b" fill-opacity="0.8" stroke="#000" stroke-opacity="0.9" stroke-width="0.9"/>
<circle cx="225.7" cy="495.3" r="3.6" fill="#b26b9b" fill-opacity="0.8" stroke="#000" stroke-opacity="0.9" stroke-width="0.9"/>
<circle cx="234.8" cy="483.9" r="3.6" fill="#ae679d" fill-opacity="0.8" stroke="#000" stroke-opacity="0.9" stroke-width="0.9"/>
<circle cx="212.9" cy="488.0" r="3.6" fill="#b97298" fill-opacity="0.8" stroke="#000" stroke-opacity="0.9" stroke-width="0.9"/>
<circle cx="203.8" cy="494.3" r="3.6" fill="#bd7796" fill-opacity="0.8" stroke="#000" stroke-opacity="0.9" stroke-width="0.9"/>
<circle cx="203.8" cy="498.9" r="3.6" fill="#bd7796" fill-opacity="0.8" stroke="#000" stroke-opacity="0.9" stroke-width="0.9"/>
<circle cx="202.0" cy="505.3" r="3.6" fill="#be7895" fill-opacity="0.8" stroke="#000" stroke-opacity="0.9" stroke-width="0.9"/>
<circle cx="203.8" cy="509.8" r="3.6" fill="#bd7796" fill-opacity="0.8" stroke="#000" stroke-opacity="0.9" stroke-width="0.9"/>
<circle cx="204.4" cy="515.3" r="3.6" fill="#bd7796" fill-opacity="0.8" stroke="#000" stroke-opacity="0.9" stroke-width="0.9"/>
<circle cx="212.9" cy="509.8" r="3.6" fill="#b97298" fill-opacity="0.8" stroke="#000" stroke-opacity="0.9" stroke-width="0.9"/>
<circle cx="182.8" cy="515.3" r="3.6" fill="#c78291" fill-opacity="0.8" stroke="#000" stroke-opacity="0.9" stroke-width="0.9"/>
<circle cx="182.8" cy="522.6" r="3.6" fill="#c78291" fill-opacity="0.8" stroke="#000" stroke-opacity="0.9" stroke-width="0.9"/>
<circle cx="182.8" cy="529.5" r="3.6" fill="#c78291" fill-opacity="0.8" stroke="#000" stroke-opacity="0.9" stroke-width="0.9"/>
<circle cx="179.2" cy="544.9" r="3.6" fill="#c98490" fill-opacity="0.8" stroke="#000" stroke-opacity="0.9" stroke-width="0.9"/>
<circle cx="229.3" cy="450.6" r="3.6" fill="#b0699c" fill-opacity="0.8" stroke="#000" stroke-opacity="0.9" stroke-width="0.9"/>
<circle cx="233.0" cy="453.3" r="3.6" fill="#af689d" fill-opacity="0.8" stroke="#000" stroke-opacity="0.9" stroke-width="0.9"/>
<circle cx="229.3" cy="458.8" r="3.6" fill="#b0699c" fill-opacity="0.8" stroke="#000" stroke-opacity="0.9" stroke-width="0.9"/>
<circle cx="233.9" cy="462.4" r="3.6" fill="#ae679d" fill-opacity="0.8" stroke="#000" stroke-opacity="0.9" stroke-width="0.9"/>
<circle cx="233.0" cy="467.9" r="3.6" fill="#af689d" fill-opacity="0.8" stroke="#000" stroke-opacity="0.9" stroke-width="0.9"/>
<circle cx="237.5" cy="467.0" r="3.6" fill="#ac659e" fill-opacity="0.8" stroke="#000" stroke-opacity="0.9" stroke-width="0.9"/>
<circle cx="238.5" cy="459.7" r="3.6" fill="#ac659e" fill-opacity="0.8" stroke="#000" stroke-opacity="0.9" stroke-width="0.9"/>
<circle cx="235.7" cy="454.2" r="3.6" fill="#ad669e" fill-opacity="0.8" stroke="#000" stroke-opacity="0.9" stroke-width="0.9"/>
<circle cx="228.4" cy="454.2" r="3.6" fill="#b16a9c" fill-opacity="0.8" stroke="#000" stroke-opacity="0.9" stroke-width="0.9"/>
<circle cx="223.0" cy="452.4" r="3.6" fill="#b46d9a" fill-opacity="0.8" stroke="#000" stroke-opacity="0.9" stroke-width="0.9"/>
<circle cx="219.3" cy="454.2" r="3.6" fill="#b56f9a" fill-opacity="0.8" stroke="#000" stroke-opacity="0.9" stroke-width="0.9"/>
<circle cx="210.2" cy="456.9" r="3.6" fill="#ba7497" fill-opacity="0.8" stroke="#000" stroke-opacity="0.9" stroke-width="0.9"/>
<circle cx="206.5" cy="461.5" r="3.6" fill="#bc7696" fill-opacity="0.8" stroke="#000" stroke-opacity="0.9" stroke-width="0.9"/>
<circle cx="208.4" cy="450.6" r="3.6" fill="#bb7597" fill-opacity="0.8" stroke="#000" stroke-opacity="0.9" stroke-width="0.9"/>
<circle cx="259.5" cy="430.1" r="3.6" fill="#a159a3" fill-opacity="0.8" stroke="#000" stroke-opacity="0.9" stroke-width="0.9"/>
<circle cx="269.8" cy="430.1" r="3.6" fill="#9c54a6" fill-opacity="0.8" stroke="#000" stroke-opacity="0.9" stroke-width="0.9"/>
<circle cx="276.5" cy="433.2" r="3.6" fill="#9950a7" fill-opacity="0.8" stroke="#000" stroke-opacity="0.9" stroke-width="0.9"/>
<circle cx="264.4" cy="432.0" r="3.6" fill="#9f57a5" fill-opacity="0.8" stroke="#000" stroke-opacity="0.9" stroke-width="0.9"/>
<circle cx="280.7" cy="435.6" r="3.6" fill="#974ea9" fill-opacity="0.8" stroke="#000" stroke-opacity="0.9" stroke-width="0.9"/>
<circle cx="288.0" cy="435.0" r="3.6" fill="#934aaa" fill-opacity="0.8" stroke="#000" stroke-opacity="0.9" stroke-width="0.9"/>
<circle cx="294.1" cy="434.4" r="3.6" fill="#9047ac" fill-opacity="0.8" stroke="#000" stroke-opacity="0.9" stroke-width="0.9"/>
<circle cx="289.8" cy="439.8" r="3.6" fill="#9349ab" fill-opacity="0.8" stroke="#000" stroke-opacity="0.9" stroke-width="0.9"/>
<circle cx="297.7" cy="442.6" r="3.6" fill="#8f45ad" fill-opacity="0.8" stroke="#000" stroke-opacity="0.9" stroke-width="0.9"/>
<circle cx="297.7" cy="450.1" r="3.6" fill="#8f45ad" fill-opacity="0.8" stroke="#000" stroke-opacity="0.9" stroke-width="0.9"/>
<circle cx="285.6" cy="449.5" r="3.6" fill="#954baa" fill-opacity="0.8" stroke="#000" stroke-opacity="0.9" stroke-width="0.9"/>
<circle cx="289.2" cy="452.8" r="3.6" fill="#9349ab" fill-opacity="0.8" stroke="#000" stroke-opacity="0.9" stroke-width="0.9"/>
<circle cx="277.7" cy="444.7" r="3.6" fill="#994fa8" fill-opacity="0.8" stroke="#000" stroke-opacity="0.9" stroke-width="0.9"/>
<circle cx="283.2" cy="441.1" r="3.6" fill="#964da9" fill-opacity="0.8" stroke="#000" stroke-opacity="0.9" stroke-width="0.9"/>
<circle cx="274.7" cy="438.0" r="3.6" fill="#9a51a7" fill-opacity="0.8" stroke="#000" stroke-opacity="0.9" stroke-width="0.9"/>
<circle cx="269.8" cy="436.8" r="3.6" fill="#9c54a6" fill-opacity="0.8" stroke="#000" stroke-opacity="0.9" stroke-width="0.9"/>
<circle cx="267.4" cy="440.4" r="3.6" fill="#9e55a5" fill-opacity="0.8" stroke="#000" stroke-opacity="0.9" stroke-width="0.9"/>
<circle cx="261.4" cy="439.2" r="3.6" fill="#a158a4" fill-opacity="0.8" stroke="#000" stroke-opacity="0.9" stroke-width="0.9"/>
<circle cx="258.3" cy="438.6" r="3.6" fill="#a25aa3" fill-opacity="0.8" stroke="#000" stroke-opacity="0.9" stroke-width="0.9"/>
<circle cx="250.4" cy="436.2" r="3.6" fill="#a65ea1" fill-opacity="0.8" stroke="#000" stroke-opacity="0.9" stroke-width="0.9"/>
<circle cx="249.8" cy="441.1" r="3.6" fill="#a65ea1" fill-opacity="0.8" stroke="#000" stroke-opacity="0.9" stroke-width="0.9"/>
<circle cx="249.2" cy="446.5" r="3.6" fill="#a75fa1" fill-opacity="0.8" stroke="#000" stroke-opacity="0.9" stroke-width="0.9"/>
<circle cx="249.8" cy="450.1" r="3.6" fill="#a65ea1" fill-opacity="0.8" stroke="#000" stroke-opacity="0.9" stroke-width="0.9"/>
<circle cx="249.2" cy="453.8" r="3.6" fill="#a75fa1" fill-opacity="0.8" stroke="#000" stroke-opacity="0.9" stroke-width="0.9"/>
<circle cx="254.7" cy="455.0" r="3.6" fill="#a45ca2" fill-opacity="0.8" stroke="#000" stroke-opacity="0.9" stroke-width="0.9"/>
<circle cx="254.7" cy="450.1" r="3.6" fill="#a45ca2" fill-opacity="0.8" stroke="#000" stroke-opacity="0.9" stroke-width="0.9"/>
<circle cx="254.1" cy="446.5" r="3.6" fill="#a45ca2" fill-opacity="0.8" stroke="#000" stroke-opacity="0.9" stroke-width="0.9"/>
<circle cx="260.1" cy="447.1" r="3.6" fill="#a159a3" fill-opacity="0.8" stroke="#000" stroke-opacity="0.9" stroke-width="0.9"/>
<circle cx="258.9" cy="452.6" r="3.6" fill="#a25aa3" fill-opacity="0.8" stroke="#000" stroke-opacity="0.9" stroke-width="0.9"/>
<circle cx="263.2" cy="456.2" r="3.6" fill="#a057a4" fill-opacity="0.8" stroke="#000" stroke-opacity="0.9" stroke-width="0.9"/>
<circle cx="263.8" cy="459.8" r="3.6" fill="#9f57a4" fill-opacity="0.8" stroke="#000" stroke-opacity="0.9" stroke-width="0.9"/>
<circle cx="264.4" cy="451.4" r="3.6" fill="#9f57a5" fill-opacity="0.8" stroke="#000" stroke-opacity="0.9" stroke-width="0.9"/>
<circle cx="270.4" cy="450.1" r="3.6" fill="#9c53a6" fill-opacity="0.8" stroke="#000" stroke-opacity="0.9" stroke-width="0.9"/>
<circle cx="274.7" cy="456.8" r="3.6" fill="#9a51a7" fill-opacity="0.8" stroke="#000" stroke-opacity="0.9" stroke-width="0.9"/>
<circle cx="263.8" cy="465.3" r="3.6" fill="#9f57a4" fill-opacity="0.8" stroke="#000" stroke-opacity="0.9" stroke-width="0.9"/>
<circle cx="277.7" cy="472.6" r="3.6" fill="#994fa8" fill-opacity="0.8" stroke="#000" stroke-opacity="0.9" stroke-width="0.9"/>
<circle cx="252.3" cy="466.5" r="3.6" fill="#a55da2" fill-opacity="0.8" stroke="#000" stroke-opacity="0.9" stroke-width="0.9"/>
<circle cx="249.8" cy="475.0" r="3.6" fill="#a65ea1" fill-opacity="0.8" stroke="#000" stroke-opacity="0.9" stroke-width="0.9"/>
<circle cx="245.6" cy="461.6" r="3.6" fill="#a861a0" fill-opacity="0.8" stroke="#000" stroke-opacity="0.9" stroke-width="0.9"/>
<circle cx="243.8" cy="470.7" r="3.6" fill="#a9629f" fill-opacity="0.8" stroke="#000" stroke-opacity="0.9" stroke-width="0.9"/>
<circle cx="243.2" cy="467.1" r="3.6" fill="#aa629f" fill-opacity="0.8" stroke="#000" stroke-opacity="0.9" stroke-width="0.9"/>
<circle cx="240.8" cy="465.9" r="3.6" fill="#ab639f" fill-opacity="0.8" stroke="#000" stroke-opacity="0.9" stroke-width="0.9"/>
<circle cx="97.4" cy="631.9" r="3.6" fill="#f2b07c" fill-opacity="0.8" stroke="#000" stroke-opacity="0.9" stroke-width="0.9"/>
<circle cx="98.6" cy="635.9" r="3.6" fill="#f1b07c" fill-opacity="0.8" stroke="#000" stroke-opacity="0.9" stroke-width="0.9"/>
<circle cx="97.8" cy="637.1" r="3.6" fill="#f1b07c" fill-opacity="0.8" stroke="#000" stroke-opacity="0.9" stroke-width="0.9"/>
<circle cx="97.1" cy="639.1" r="3.6" fill="#f2b17c" fill-opacity="0.8" stroke="#000" stroke-opacity="0.9" stroke-width="0.9"/>
<circle cx="95.7" cy="641.4" r="3.6" fill="#f2b17b" fill-opacity="0.8" stroke="#000" stroke-opacity="0.9" stroke-width="0.9"/>
<circle cx="99.5" cy="642.4" r="3.6" fill="#f1af7c" fill-opacity="0.8" stroke="#000" stroke-opacity="0.9" stroke-width="0.9"/>
<circle cx="98.8" cy="644.7" r="3.6" fill="#f1b07c" fill-opacity="0.8" stroke="#000" stroke-opacity="0.9" stroke-width="0.9"/>
<circle cx="96.4" cy="646.2" r="3.6" fill="#f2b17b" fill-opacity="0.8" stroke="#000" stroke-opacity="0.9" stroke-width="0.9"/>
<circle cx="97.9" cy="650.1" r="3.6" fill="#f1b07c" fill-opacity="0.8" stroke="#000" stroke-opacity="0.9" stroke-width="0.9"/>
<circle cx="95.2" cy="652.0" r="3.6" fill="#f3b27b" fill-opacity="0.8" stroke="#000" stroke-opacity="0.9" stroke-width="0.9"/>
<circle cx="99.4" cy="654.0" r="3.6" fill="#f1af7c" fill-opacity="0.8" stroke="#000" stroke-opacity="0.9" stroke-width="0.9"/>
<circle cx="97.6" cy="655.0" r="3.6" fill="#f1b07c" fill-opacity="0.8" stroke="#000" stroke-opacity="0.9" stroke-width="0.9"/>
<circle cx="94.5" cy="656.9" r="3.6" fill="#f3b27b" fill-opacity="0.8" stroke="#000" stroke-opacity="0.9" stroke-width="0.9"/>
<circle cx="99.2" cy="658.8" r="3.6" fill="#f1af7c" fill-opacity="0.8" stroke="#000" stroke-opacity="0.9" stroke-width="0.9"/>
<circle cx="96.3" cy="661.1" r="3.6" fill="#f2b17b" fill-opacity="0.8" stroke="#000" stroke-opacity="0.9" stroke-width="0.9"/>
<circle cx="96.7" cy="664.1" r="3.6" fill="#f2b17c" fill-opacity="0.8" stroke="#000" stroke-opacity="0.9" stroke-width="0.9"/>
<circle cx="95.3" cy="667.8" r="3.6" fill="#f3b27b" fill-opacity="0.8" stroke="#000" stroke-opacity="0.9" stroke-width="0.9"/>
<circle cx="97.0" cy="671.9" r="3.6" fill="#f2b17c" fill-opacity="0.8" stroke="#000" stroke-opacity="0.9" stroke-width="0.9"/>
<circle cx="97.8" cy="673.4" r="3.6" fill="#f1b07c" fill-opacity="0.8" stroke="#000" stroke-opacity="0.9" stroke-width="0.9"/>
<circle cx="98.8" cy="674.9" r="3.6" fill="#f1b07c" fill-opacity="0.8" stroke="#000" stroke-opacity="0.9" stroke-width="0.9"/>
<circle cx="97.3" cy="676.9" r="3.6" fill="#f2b07c" fill-opacity="0.8" stroke="#000" stroke-opacity="0.9" stroke-width="0.9"/>
<circle cx="97.5" cy="678.5" r="3.6" fill="#f2b07c" fill-opacity="0.8" stroke="#000" stroke-opacity="0.9" stroke-width="0.9"/>
<circle cx="98.4" cy="680.3" r="3.6" fill="#f1b07c" fill-opacity="0.8" stroke="#000" stroke-opacity="0.9" stroke-width="0.9"/>
<circle cx="95.3" cy="682.6" r="3.6" fill="#f3b27b" fill-opacity="0.8" stroke="#000" stroke-opacity="0.9" stroke-width="0.9"/>
<circle cx="96.6" cy="685.8" r="3.6" fill="#f2b17c" fill-opacity="0.8" stroke="#000" stroke-opacity="0.9" stroke-width="0.9"/>
<circle cx="95.4" cy="689.3" r="3.6" fill="#f3b27b" fill-opacity="0.8" stroke="#000" stroke-opacity="0.9" stroke-width="0.9"/>
<circle cx="97.7" cy="693.5" r="3.6" fill="#f1b07c" fill-opacity="0.8" stroke="#000" stroke-opacity="0.9" stroke-width="0.9"/>
<circle cx="96.2" cy="696.7" r="3.6" fill="#f2b17b" fill-opacity="0.8" stroke="#000" stroke-opacity="0.9" stroke-width="0.9"/>
<circle cx="94.5" cy="698.8" r="3.6" fill="#f3b27b" fill-opacity="0.8" stroke="#000" stroke-opacity="0.9" stroke-width="0.9"/>
<circle cx="103.8" cy="661.0" r="3.6" fill="#eead7d" fill-opacity="0.8" stroke="#000" stroke-opacity="0.9" stroke-width="0.9"/>
<circle cx="103.0" cy="664.1" r="3.6" fill="#efad7d" fill-opacity="0.8" stroke="#000" stroke-opacity="0.9" stroke-width="0.9"/>
<circle cx="102.2" cy="672.8" r="3.6" fill="#efae7d" fill-opacity="0.8" stroke="#000" stroke-opacity="0.9" stroke-width="0.9"/>
<circle cx="102.2" cy="676.2" r="3.6" fill="#efae7d" fill-opacity="0.8" stroke="#000" stroke-opacity="0.9" stroke-width="0.9"/>
<circle cx="103.4" cy="678.6" r="3.6" fill="#efad7d" fill-opacity="0.8" stroke="#000" stroke-opacity="0.9" stroke-width="0.9"/>
<circle cx="104.0" cy="682.4" r="3.6" fill="#eead7d" fill-opacity="0.8" stroke="#000" stroke-opacity="0.9" stroke-width="0.9"/>
<circle cx="107.5" cy="627.1" r="3.6" fill="#edab7e" fill-opacity="0.8" stroke="#000" stroke-opacity="0.9" stroke-width="0.9"/>
<circle cx="106.7" cy="633.9" r="3.6" fill="#edab7e" fill-opacity="0.8" stroke="#000" stroke-opacity="0.9" stroke-width="0.9"/>
<circle cx="107.1" cy="637.7" r="3.6" fill="#edab7e" fill-opacity="0.8" stroke="#000" stroke-opacity="0.9" stroke-width="0.9"/>
<circle cx="107.6" cy="644.6" r="3.6" fill="#edab7e" fill-opacity="0.8" stroke="#000" stroke-opacity="0.9" stroke-width="0.9"/>
<circle cx="106.9" cy="648.0" r="3.6" fill="#edab7e" fill-opacity="0.8" stroke="#000" stroke-opacity="0.9" stroke-width="0.9"/>
<circle cx="106.8" cy="655.3" r="3.6" fill="#edab7e" fill-opacity="0.8" stroke="#000" stroke-opacity="0.9" stroke-width="0.9"/>
<circle cx="155.1" cy="468.1" r="3.6" fill="#d5918a" fill-opacity="0.8" stroke="#000" stroke-opacity="0.9" stroke-width="0.9"/>
<circle cx="152.5" cy="472.5" r="3.6" fill="#d69389" fill-opacity="0.8" stroke="#000" stroke-opacity="0.9" stroke-width="0.9"/>
<circle cx="155.1" cy="474.9" r="3.6" fill="#d5918a" fill-opacity="0.8" stroke="#000" stroke-opacity="0.9" stroke-width="0.9"/>
<circle cx="153.8" cy="476.5" r="3.6" fill="#d69289" fill-opacity="0.8" stroke="#000" stroke-opacity="0.9" stroke-width="0.9"/>
<circle cx="153.1" cy="479.4" r="3.6" fill="#d69289" fill-opacity="0.8" stroke="#000" stroke-opacity="0.9" stroke-width="0.9"/>
<circle cx="151.9" cy="481.1" r="3.6" fill="#d79389" fill-opacity="0.8" stroke="#000" stroke-opacity="0.9" stroke-width="0.9"/>
<circle cx="155.3" cy="483.4" r="3.6" fill="#d5918a" fill-opacity="0.8" stroke="#000" stroke-opacity="0.9" stroke-width="0.9"/>
<circle cx="152.3" cy="485.5" r="3.6" fill="#d69389" fill-opacity="0.8" stroke="#000" stroke-opacity="0.9" stroke-width="0.9"/>
<circle cx="155.1" cy="487.7" r="3.6" fill="#d5918a" fill-opacity="0.8" stroke="#000" stroke-opacity="0.9" stroke-width="0.9"/>
<circle cx="153.2" cy="490.1" r="3.6" fill="#d69289" fill-opacity="0.8" stroke="#000" stroke-opacity="0.9" stroke-width="0.9"/>
<circle cx="154.7" cy="492.2" r="3.6" fill="#d5928a" fill-opacity="0.8" stroke="#000" stroke-opacity="0.9" stroke-width="0.9"/>
<circle cx="151.8" cy="494.5" r="3.6" fill="#d79389" fill-opacity="0.8" stroke="#000" stroke-opacity="0.9" stroke-width="0.9"/>
<circle cx="151.6" cy="496.3" r="3.6" fill="#d79389" fill-opacity="0.8" stroke="#000" stroke-opacity="0.9" stroke-width="0.9"/>
<circle cx="148.7" cy="512.2" r="3.6" fill="#d89588" fill-opacity="0.8" stroke="#000" stroke-opacity="0.9" stroke-width="0.9"/>
<circle cx="150.5" cy="514.4" r="3.6" fill="#d79489" fill-opacity="0.8" stroke="#000" stroke-opacity="0.9" stroke-width="0.9"/>
<circle cx="148.9" cy="517.0" r="3.6" fill="#d89588" fill-opacity="0.8" stroke="#000" stroke-opacity="0.9" stroke-width="0.9"/>
<circle cx="150.0" cy="521.4" r="3.6" fill="#d89489" fill-opacity="0.8" stroke="#000" stroke-opacity="0.9" stroke-width="0.9"/>
<circle cx="148.0" cy="523.9" r="3.6" fill="#d99588" fill-opacity="0.8" stroke="#000" stroke-opacity="0.9" stroke-width="0.9"/>
<circle cx="150.3" cy="526.1" r="3.6" fill="#d79489" fill-opacity="0.8" stroke="#000" stroke-opacity="0.9" stroke-width="0.9"/>
<circle cx="151.2" cy="528.6" r="3.6" fill="#d79489" fill-opacity="0.8" stroke="#000" stroke-opacity="0.9" stroke-width="0.9"/>
<circle cx="148.9" cy="530.8" r="3.6" fill="#d89588" fill-opacity="0.8" stroke="#000" stroke-opacity="0.9" stroke-width="0.9"/>
<circle cx="152.0" cy="533.8" r="3.6" fill="#d79389" fill-opacity="0.8" stroke="#000" stroke-opacity="0.9" stroke-width="0.9"/>
<circle cx="151.5" cy="536.1" r="3.6" fill="#d79389" fill-opacity="0.8" stroke="#000" stroke-opacity="0.9" stroke-width="0.9"/>
<circle cx="148.1" cy="538.3" r="3.6" fill="#d99588" fill-opacity="0.8" stroke="#000" stroke-opacity="0.9" stroke-width="0.9"/>
<circle cx="150.0" cy="540.5" r="3.6" fill="#d89489" fill-opacity="0.8" stroke="#000" stroke-opacity="0.9" stroke-width="0.9"/>
<circle cx="151.8" cy="543.1" r="3.6" fill="#d79389" fill-opacity="0.8" stroke="#000" stroke-opacity="0.9" stroke-width="0.9"/>
<circle cx="162.9" cy="516.7" r="3.6" fill="#d18d8c" fill-opacity="0.8" stroke="#000" stroke-opacity="0.9" stroke-width="0.9"/>
<circle cx="161.0" cy="520.4" r="3.6" fill="#d28e8b" fill-opacity="0.8" stroke="#000" stroke-opacity="0.9" stroke-width="0.9"/>
<circle cx="161.4" cy="522.7" r="3.6" fill="#d28e8b" fill-opacity="0.8" stroke="#000" stroke-opacity="0.9" stroke-width="0.9"/>
<circle cx="162.3" cy="525.9" r="3.6" fill="#d28e8c" fill-opacity="0.8" stroke="#000" stroke-opacity="0.9" stroke-width="0.9"/>
<circle cx="162.8" cy="528.8" r="3.6" fill="#d18d8c" fill-opacity="0.8" stroke="#000" stroke-opacity="0.9" stroke-width="0.9"/>
<circle cx="162.9" cy="531.9" r="3.6" fill="#d18d8c" fill-opacity="0.8" stroke="#000" stroke-opacity="0.9" stroke-width="0.9"/>
<circle cx="162.4" cy="538.3" r="3.6" fill="#d18d8c" fill-opacity="0.8" stroke="#000" stroke-opacity="0.9" stroke-width="0.9"/>
<circle cx="172.1" cy="470.4" r="3.6" fill="#cd888e" fill-opacity="0.8" stroke="#000" stroke-opacity="0.9" stroke-width="0.9"/>
<circle cx="171.6" cy="474.9" r="3.6" fill="#cd898e" fill-opacity="0.8" stroke="#000" stroke-opacity="0.9" stroke-width="0.9"/>
<circle cx="171.5" cy="477.2" r="3.6" fill="#cd898e" fill-opacity="0.8" stroke="#000" stroke-opacity="0.9" stroke-width="0.9"/>
<circle cx="171.1" cy="480.0" r="3.6" fill="#cd898e" fill-opacity="0.8" stroke="#000" stroke-opacity="0.9" stroke-width="0.9"/>
<circle cx="171.1" cy="482.5" r="3.6" fill="#cd898e" fill-opacity="0.8" stroke="#000" stroke-opacity="0.9" stroke-width="0.9"/>
</g>
<path d="M94.8 678.0 C95.7 675.3 98.0 668.2 100.0 662.0 C102.0 655.8 104.5 648.0 107.0 641.0 C109.5 634.0 112.2 627.5 115.2 620.0 C118.2 612.5 121.5 604.3 125.0 596.0 C128.5 587.7 131.8 579.8 136.0 570.0 C140.2 560.2 144.6 547.8 150.0 537.2 C155.4 526.6 162.1 515.9 168.2 506.2 C174.3 496.5 180.4 486.8 186.5 478.8 C192.6 470.8 198.6 463.4 204.7 458.0 C210.8 452.6 217.6 449.2 223.0 446.5 C228.4 443.8 232.7 442.8 237.1 441.9 C241.5 441.0 245.1 441.1 249.2 441.4 C253.2 441.7 257.3 442.4 261.4 443.5 C265.4 444.6 269.5 446.2 273.5 448.3 C277.5 450.4 281.5 452.8 285.6 456.2 C289.7 459.6 296.2 466.8 298.3 468.9" fill="none" stroke="#ff2a2a" stroke-width="1.1"/>
<rect x="85.6" y="412.7" width="222.2" height="341.9" fill="none" stroke="#111" stroke-width="1.3"/>
<line x1="94.5" y1="754.6" x2="94.5" y2="757.6" stroke="#111" stroke-width="0.8"/>
<text x="94.5" y="771.1" font-size="15" text-anchor="middle" fill="#000">0.0</text>
<line x1="164.9" y1="754.6" x2="164.9" y2="757.6" stroke="#111" stroke-width="0.8"/>
<text x="164.9" y="771.1" font-size="15" text-anchor="middle" fill="#000">0.2</text>
<line x1="235.3" y1="754.6" x2="235.3" y2="757.6" stroke="#111" stroke-width="0.8"/>
<text x="235.3" y="771.1" font-size="15" text-anchor="middle" fill="#000">0.4</text>
<line x1="305.7" y1="754.6" x2="305.7" y2="757.6" stroke="#111" stroke-width="0.8"/>
<text x="305.7" y="771.1" font-size="15" text-anchor="middle" fill="#000">0.6</text>
<line x1="82.6" y1="746.25" x2="85.6" y2="746.25" stroke="#111" stroke-width="0.8"/>
<text x="79.2" y="751.75" font-size="15" text-anchor="end" fill="#000">&#8722;0.100</text>
<line x1="82.6" y1="705.76" x2="85.6" y2="705.76" stroke="#111" stroke-width="0.8"/>
<text x="79.2" y="711.26" font-size="15" text-anchor="end" fill="#000">&#8722;0.075</text>
<line x1="82.6" y1="665.27" x2="85.6" y2="665.27" stroke="#111" stroke-width="0.8"/>
<text x="79.2" y="670.77" font-size="15" text-anchor="end" fill="#000">&#8722;0.050</text>
<line x1="82.6" y1="624.79" x2="85.6" y2="624.79" stroke="#111" stroke-width="0.8"/>
<text x="79.2" y="630.29" font-size="15" text-anchor="end" fill="#000">&#8722;0.025</text>
<line x1="82.6" y1="584.3" x2="85.6" y2="584.3" stroke="#111" stroke-width="0.8"/>
<text x="79.2" y="589.8" font-size="15" text-anchor="end" fill="#000">0.000</text>
<line x1="82.6" y1="543.81" x2="85.6" y2="543.81" stroke="#111" stroke-width="0.8"/>
<text x="79.2" y="549.31" font-size="15" text-anchor="end" fill="#000">0.025</text>
<line x1="82.6" y1="503.32" x2="85.6" y2="503.32" stroke="#111" stroke-width="0.8"/>
<text x="79.2" y="508.82" font-size="15" text-anchor="end" fill="#000">0.050</text>
<line x1="82.6" y1="462.84" x2="85.6" y2="462.84" stroke="#111" stroke-width="0.8"/>
<text x="79.2" y="468.34" font-size="15" text-anchor="end" fill="#000">0.075</text>
<line x1="82.6" y1="422.35" x2="85.6" y2="422.35" stroke="#111" stroke-width="0.8"/>
<text x="79.2" y="427.85" font-size="15" text-anchor="end" fill="#000">0.100</text>
<text x="196.7" y="407.5" font-size="15.4" text-anchor="middle" fill="#000">SHAP Dependence Plot for OCO-2 SIF</text>
<text x="196.7" y="788.8" font-size="15.3" text-anchor="middle" fill="#000">OCO-2 SIF(Feature value)</text>
<text x="28.6" y="583.5" font-size="15.3" text-anchor="middle" fill="#000" transform="rotate(-90 28.6 583.5)">SHAP value for OCO-2 SIF</text>
<text x="283.1" y="741" font-size="15" text-anchor="middle" fill="#000" font-weight="bold">(c)</text>
<defs><linearGradient id="cgc" x1="0" y1="1" x2="0" y2="0">
<stop offset="0.0" stop-color="#f3b27b"/>
<stop offset="1.0" stop-color="#8e44ad"/>
</linearGradient></defs>
<rect x="313.2" y="412.7" width="3.8" height="341.9" fill="url(#cgc)" fill-opacity="0.8"/>
<rect x="313.2" y="412.7" width="3.8" height="341.9" fill="none" stroke="#333" stroke-width="0.8"/>
<line x1="317" y1="696.34" x2="319.8" y2="696.34" stroke="#333" stroke-width="0.8"/>
<text x="323" y="701.84" font-size="15" text-anchor="start" fill="#000">0.1</text>
<line x1="317" y1="637.08" x2="319.8" y2="637.08" stroke="#333" stroke-width="0.8"/>
<text x="323" y="642.58" font-size="15" text-anchor="start" fill="#000">0.2</text>
<line x1="317" y1="577.81" x2="319.8" y2="577.81" stroke="#333" stroke-width="0.8"/>
<text x="323" y="583.31" font-size="15" text-anchor="start" fill="#000">0.3</text>
<line x1="317" y1="518.55" x2="319.8" y2="518.55" stroke="#333" stroke-width="0.8"/>
<text x="323" y="524.05" font-size="15" text-anchor="start" fill="#000">0.4</text>
<line x1="317" y1="459.28" x2="319.8" y2="459.28" stroke="#333" stroke-width="0.8"/>
<text x="323" y="464.78" font-size="15" text-anchor="start" fill="#000">0.5</text>
<line x1="418.6" y1="411.6" x2="418.6" y2="756.2" stroke="#d2d2d2" stroke-width="0.8"/>
<line x1="526.55" y1="411.6" x2="526.55" y2="756.2" stroke="#d2d2d2" stroke-width="0.8"/>
<line x1="634.5" y1="411.6" x2="634.5" y2="756.2" stroke="#d2d2d2" stroke-width="0.8"/>
<line x1="408.4" y1="738.99" x2="639.7" y2="738.99" stroke="#d2d2d2" stroke-width="0.8"/>
<line x1="408.4" y1="698.8" x2="639.7" y2="698.8" stroke="#d2d2d2" stroke-width="0.8"/>
<line x1="408.4" y1="658.61" x2="639.7" y2="658.61" stroke="#d2d2d2" stroke-width="0.8"/>
<line x1="408.4" y1="618.43" x2="639.7" y2="618.43" stroke="#d2d2d2" stroke-width="0.8"/>
<line x1="408.4" y1="578.24" x2="639.7" y2="578.24" stroke="#d2d2d2" stroke-width="0.8"/>
<line x1="408.4" y1="538.06" x2="639.7" y2="538.06" stroke="#d2d2d2" stroke-width="0.8"/>
<line x1="408.4" y1="497.87" x2="639.7" y2="497.87" stroke="#d2d2d2" stroke-width="0.8"/>
<line x1="408.4" y1="457.68" x2="639.7" y2="457.68" stroke="#d2d2d2" stroke-width="0.8"/>
<line x1="408.4" y1="417.5" x2="639.7" y2="417.5" stroke="#d2d2d2" stroke-width="0.8"/>
<g>
<circle cx="421.9" cy="426.9" r="3.6" fill="#f1b07c" fill-opacity="0.8" stroke="#000" stroke-opacity="0.9" stroke-width="0.9"/>
<circle cx="421.9" cy="437.8" r="3.6" fill="#f1b07c" fill-opacity="0.8" stroke="#000" stroke-opacity="0.9" stroke-width="0.9"/>
<circle cx="429.7" cy="437.8" r="3.6" fill="#eeac7e" fill-opacity="0.8" stroke="#000" stroke-opacity="0.9" stroke-width="0.9"/>
<circle cx="421.9" cy="441.4" r="3.6" fill="#f1b07c" fill-opacity="0.8" stroke="#000" stroke-opacity="0.9" stroke-width="0.9"/>
<circle cx="420.9" cy="443.3" r="3.6" fill="#f2b17c" fill-opacity="0.8" stroke="#000" stroke-opacity="0.9" stroke-width="0.9"/>
<circle cx="418.8" cy="446.4" r="3.6" fill="#f3b27b" fill-opacity="0.8" stroke="#000" stroke-opacity="0.9" stroke-width="0.9"/>
<circle cx="421.9" cy="454.2" r="3.6" fill="#f1b07c" fill-opacity="0.8" stroke="#000" stroke-opacity="0.9" stroke-width="0.9"/>
<circle cx="421.9" cy="457.9" r="3.6" fill="#f1b07c" fill-opacity="0.8" stroke="#000" stroke-opacity="0.9" stroke-width="0.9"/>
<circle cx="419.1" cy="464.2" r="3.6" fill="#f3b27b" fill-opacity="0.8" stroke="#000" stroke-opacity="0.9" stroke-width="0.9"/>
<circle cx="420.9" cy="466.1" r="3.6" fill="#f2b17c" fill-opacity="0.8" stroke="#000" stroke-opacity="0.9" stroke-width="0.9"/>
<circle cx="418.2" cy="467.0" r="3.6" fill="#f3b27b" fill-opacity="0.8" stroke="#000" stroke-opacity="0.9" stroke-width="0.9"/>
<circle cx="429.7" cy="471.9" r="3.6" fill="#eeac7e" fill-opacity="0.8" stroke="#000" stroke-opacity="0.9" stroke-width="0.9"/>
<circle cx="429.7" cy="479.7" r="3.6" fill="#eeac7e" fill-opacity="0.8" stroke="#000" stroke-opacity="0.9" stroke-width="0.9"/>
<circle cx="418.2" cy="479.7" r="3.6" fill="#f3b27b" fill-opacity="0.8" stroke="#000" stroke-opacity="0.9" stroke-width="0.9"/>
<circle cx="421.9" cy="481.6" r="3.6" fill="#f1b07c" fill-opacity="0.8" stroke="#000" stroke-opacity="0.9" stroke-width="0.9"/>
<circle cx="420.9" cy="487.0" r="3.6" fill="#f2b17c" fill-opacity="0.8" stroke="#000" stroke-opacity="0.9" stroke-width="0.9"/>
<circle cx="429.7" cy="488.0" r="3.6" fill="#eeac7e" fill-opacity="0.8" stroke="#000" stroke-opacity="0.9" stroke-width="0.9"/>
<circle cx="428.2" cy="491.6" r="3.6" fill="#eead7d" fill-opacity="0.8" stroke="#000" stroke-opacity="0.9" stroke-width="0.9"/>
<circle cx="425.5" cy="491.6" r="3.6" fill="#f0ae7d" fill-opacity="0.8" stroke="#000" stroke-opacity="0.9" stroke-width="0.9"/>
<circle cx="427.3" cy="495.3" r="3.6" fill="#efad7d" fill-opacity="0.8" stroke="#000" stroke-opacity="0.9" stroke-width="0.9"/>
<circle cx="429.7" cy="498.9" r="3.6" fill="#eeac7e" fill-opacity="0.8" stroke="#000" stroke-opacity="0.9" stroke-width="0.9"/>
<circle cx="417.7" cy="497.4" r="3.6" fill="#f3b27b" fill-opacity="0.8" stroke="#000" stroke-opacity="0.9" stroke-width="0.9"/>
<circle cx="429.2" cy="504.4" r="3.6" fill="#eead7d" fill-opacity="0.8" stroke="#000" stroke-opacity="0.9" stroke-width="0.9"/>
<circle cx="424.6" cy="508.0" r="3.6" fill="#f0af7c" fill-opacity="0.8" stroke="#000" stroke-opacity="0.9" stroke-width="0.9"/>
<circle cx="422.8" cy="509.8" r="3.6" fill="#f1b07c" fill-opacity="0.8" stroke="#000" stroke-opacity="0.9" stroke-width="0.9"/>
<circle cx="418.8" cy="516.2" r="3.6" fill="#f3b27b" fill-opacity="0.8" stroke="#000" stroke-opacity="0.9" stroke-width="0.9"/>
<circle cx="420.9" cy="524.4" r="3.6" fill="#f2b17c" fill-opacity="0.8" stroke="#000" stroke-opacity="0.9" stroke-width="0.9"/>
<circle cx="420.0" cy="526.3" r="3.6" fill="#f2b17b" fill-opacity="0.8" stroke="#000" stroke-opacity="0.9" stroke-width="0.9"/>
<circle cx="421.9" cy="529.9" r="3.6" fill="#f1b07c" fill-opacity="0.8" stroke="#000" stroke-opacity="0.9" stroke-width="0.9"/>
<circle cx="420.9" cy="532.6" r="3.6" fill="#f2b17c" fill-opacity="0.8" stroke="#000" stroke-opacity="0.9" stroke-width="0.9"/>
<circle cx="428.2" cy="522.6" r="3.6" fill="#eead7d" fill-opacity="0.8" stroke="#000" stroke-opacity="0.9" stroke-width="0.9"/>
<circle cx="431.9" cy="520.8" r="3.6" fill="#edab7e" fill-opacity="0.8" stroke="#000" stroke-opacity="0.9" stroke-width="0.9"/>
<circle cx="432.8" cy="524.4" r="3.6" fill="#ecab7e" fill-opacity="0.8" stroke="#000" stroke-opacity="0.9" stroke-width="0.9"/>
<circle cx="437.4" cy="529.9" r="3.6" fill="#eaa87f" fill-opacity="0.8" stroke="#000" stroke-opacity="0.9" stroke-width="0.9"/>
<circle cx="438.3" cy="532.6" r="3.6" fill="#eaa880" fill-opacity="0.8" stroke="#000" stroke-opacity="0.9" stroke-width="0.9"/>
<circle cx="431.0" cy="528.1" r="3.6" fill="#edac7e" fill-opacity="0.8" stroke="#000" stroke-opacity="0.9" stroke-width="0.9"/>
<circle cx="431.0" cy="534.5" r="3.6" fill="#edac7e" fill-opacity="0.8" stroke="#000" stroke-opacity="0.9" stroke-width="0.9"/>
<circle cx="424.6" cy="535.4" r="3.6" fill="#f0af7c" fill-opacity="0.8" stroke="#000" stroke-opacity="0.9" stroke-width="0.9"/>
<circle cx="426.4" cy="539.0" r="3.6" fill="#efae7d" fill-opacity="0.8" stroke="#000" stroke-opacity="0.9" stroke-width="0.9"/>
<circle cx="431.0" cy="539.0" r="3.6" fill="#edac7e" fill-opacity="0.8" stroke="#000" stroke-opacity="0.9" stroke-width="0.9"/>
<circle cx="431.9" cy="544.5" r="3.6" fill="#edab7e" fill-opacity="0.8" stroke="#000" stroke-opacity="0.9" stroke-width="0.9"/>
<circle cx="431.0" cy="548.1" r="3.6" fill="#edac7e" fill-opacity="0.8" stroke="#000" stroke-opacity="0.9" stroke-width="0.9"/>
<circle cx="431.9" cy="553.6" r="3.6" fill="#edab7e" fill-opacity="0.8" stroke="#000" stroke-opacity="0.9" stroke-width="0.9"/>
<circle cx="423.7" cy="556.4" r="3.6" fill="#f1af7c" fill-opacity="0.8" stroke="#000" stroke-opacity="0.9" stroke-width="0.9"/>
<circle cx="419.1" cy="557.3" r="3.6" fill="#f3b27b" fill-opacity="0.8" stroke="#000" stroke-opacity="0.9" stroke-width="0.9"/>
<circle cx="418.2" cy="560.0" r="3.6" fill="#f3b27b" fill-opacity="0.8" stroke="#000" stroke-opacity="0.9" stroke-width="0.9"/>
<circle cx="427.3" cy="550.9" r="3.6" fill="#efad7d" fill-opacity="0.8" stroke="#000" stroke-opacity="0.9" stroke-width="0.9"/>
<circle cx="454.7" cy="522.6" r="3.6" fill="#e29f84" fill-opacity="0.8" stroke="#000" stroke-opacity="0.9" stroke-width="0.9"/>
<circle cx="454.7" cy="526.3" r="3.6" fill="#e29f84" fill-opacity="0.8" stroke="#000" stroke-opacity="0.9" stroke-width="0.9"/>
<circle cx="454.7" cy="529.9" r="3.6" fill="#e29f84" fill-opacity="0.8" stroke="#000" stroke-opacity="0.9" stroke-width="0.9"/>
<circle cx="454.7" cy="533.6" r="3.6" fill="#e29f84" fill-opacity="0.8" stroke="#000" stroke-opacity="0.9" stroke-width="0.9"/>
<circle cx="454.7" cy="537.2" r="3.6" fill="#e29f84" fill-opacity="0.8" stroke="#000" stroke-opacity="0.9" stroke-width="0.9"/>
<circle cx="464.7" cy="534.5" r="3.6" fill="#dd9a86" fill-opacity="0.8" stroke="#000" stroke-opacity="0.9" stroke-width="0.9"/>
<circle cx="464.7" cy="539.0" r="3.6" fill="#dd9a86" fill-opacity="0.8" stroke="#000" stroke-opacity="0.9" stroke-width="0.9"/>
<circle cx="464.7" cy="542.7" r="3.6" fill="#dd9a86" fill-opacity="0.8" stroke="#000" stroke-opacity="0.9" stroke-width="0.9"/>
<circle cx="464.7" cy="546.3" r="3.6" fill="#dd9a86" fill-opacity="0.8" stroke="#000" stroke-opacity="0.9" stroke-width="0.9"/>
<circle cx="464.7" cy="550.0" r="3.6" fill="#dd9a86" fill-opacity="0.8" stroke="#000" stroke-opacity="0.9" stroke-width="0.9"/>
<circle cx="464.7" cy="556.4" r="3.6" fill="#dd9a86" fill-opacity="0.8" stroke="#000" stroke-opacity="0.9" stroke-width="0.9"/>
<circle cx="431.5" cy="561.5" r="3.6" fill="#edab7e" fill-opacity="0.8" stroke="#000" stroke-opacity="0.9" stroke-width="0.9"/>
<circle cx="434.9" cy="566.0" r="3.6" fill="#ebaa7f" fill-opacity="0.8" stroke="#000" stroke-opacity="0.9" stroke-width="0.9"/>
<circle cx="434.5" cy="572.8" r="3.6" fill="#ebaa7f" fill-opacity="0.8" stroke="#000" stroke-opacity="0.9" stroke-width="0.9"/>
<circle cx="430.4" cy="564.9" r="3.6" fill="#edac7e" fill-opacity="0.8" stroke="#000" stroke-opacity="0.9" stroke-width="0.9"/>
<circle cx="470.0" cy="567.2" r="3.6" fill="#da9787" fill-opacity="0.8" stroke="#000" stroke-opacity="0.9" stroke-width="0.9"/>
<circle cx="470.0" cy="574.0" r="3.6" fill="#da9787" fill-opacity="0.8" stroke="#000" stroke-opacity="0.9" stroke-width="0.9"/>
<circle cx="470.0" cy="583.0" r="3.6" fill="#da9787" fill-opacity="0.8" stroke="#000" stroke-opacity="0.9" stroke-width="0.9"/>
<circle cx="470.0" cy="588.7" r="3.6" fill="#da9787" fill-opacity="0.8" stroke="#000" stroke-opacity="0.9" stroke-width="0.9"/>
<circle cx="470.0" cy="590.9" r="3.6" fill="#da9787" fill-opacity="0.8" stroke="#000" stroke-opacity="0.9" stroke-width="0.9"/>
<circle cx="470.0" cy="612.0" r="3.6" fill="#da9787" fill-opacity="0.8" stroke="#000" stroke-opacity="0.9" stroke-width="0.9"/>
<circle cx="482.5" cy="540.0" r="3.6" fill="#d4918a" fill-opacity="0.8" stroke="#000" stroke-opacity="0.9" stroke-width="0.9"/>
<circle cx="482.5" cy="549.1" r="3.6" fill="#d4918a" fill-opacity="0.8" stroke="#000" stroke-opacity="0.9" stroke-width="0.9"/>
<circle cx="482.5" cy="553.6" r="3.6" fill="#d4918a" fill-opacity="0.8" stroke="#000" stroke-opacity="0.9" stroke-width="0.9"/>
<circle cx="482.5" cy="557.0" r="3.6" fill="#d4918a" fill-opacity="0.8" stroke="#000" stroke-opacity="0.9" stroke-width="0.9"/>
<circle cx="482.5" cy="568.3" r="3.6" fill="#d4918a" fill-opacity="0.8" stroke="#000" stroke-opacity="0.9" stroke-width="0.9"/>
<circle cx="482.5" cy="593.2" r="3.6" fill="#d4918a" fill-opacity="0.8" stroke="#000" stroke-opacity="0.9" stroke-width="0.9"/>
<circle cx="482.5" cy="610.2" r="3.6" fill="#d4918a" fill-opacity="0.8" stroke="#000" stroke-opacity="0.9" stroke-width="0.9"/>
<circle cx="482.5" cy="620.4" r="3.6" fill="#d4918a" fill-opacity="0.8" stroke="#000" stroke-opacity="0.9" stroke-width="0.9"/>
<circle cx="504.0" cy="580.8" r="3.6" fill="#ca868f" fill-opacity="0.8" stroke="#000" stroke-opacity="0.9" stroke-width="0.9"/>
<circle cx="504.0" cy="601.1" r="3.6" fill="#ca868f" fill-opacity="0.8" stroke="#000" stroke-opacity="0.9" stroke-width="0.9"/>
<circle cx="504.0" cy="603.4" r="3.6" fill="#ca868f" fill-opacity="0.8" stroke="#000" stroke-opacity="0.9" stroke-width="0.9"/>
<circle cx="504.0" cy="614.3" r="3.6" fill="#ca868f" fill-opacity="0.8" stroke="#000" stroke-opacity="0.9" stroke-width="0.9"/>
<circle cx="504.0" cy="626.0" r="3.6" fill="#ca868f" fill-opacity="0.8" stroke="#000" stroke-opacity="0.9" stroke-width="0.9"/>
<circle cx="519.8" cy="626.0" r="3.6" fill="#c37d93" fill-opacity="0.8" stroke="#000" stroke-opacity="0.9" stroke-width="0.9"/>
<circle cx="519.8" cy="629.4" r="3.6" fill="#c37d93" fill-opacity="0.8" stroke="#000" stroke-opacity="0.9" stroke-width="0.9"/>
<circle cx="519.8" cy="634.0" r="3.6" fill="#c37d93" fill-opacity="0.8" stroke="#000" stroke-opacity="0.9" stroke-width="0.9"/>
<circle cx="519.8" cy="644.2" r="3.6" fill="#c37d93" fill-opacity="0.8" stroke="#000" stroke-opacity="0.9" stroke-width="0.9"/>
<circle cx="533.4" cy="638.9" r="3.6" fill="#bc7696" fill-opacity="0.8" stroke="#000" stroke-opacity="0.9" stroke-width="0.9"/>
<circle cx="539.7" cy="573.5" r="3.6" fill="#b97398" fill-opacity="0.8" stroke="#000" stroke-opacity="0.9" stroke-width="0.9"/>
<circle cx="549.2" cy="612.0" r="3.6" fill="#b46e9a" fill-opacity="0.8" stroke="#000" stroke-opacity="0.9" stroke-width="0.9"/>
<circle cx="471.6" cy="657.7" r="3.6" fill="#da9688" fill-opacity="0.8" stroke="#000" stroke-opacity="0.9" stroke-width="0.9"/>
<circle cx="471.6" cy="663.4" r="3.6" fill="#da9688" fill-opacity="0.8" stroke="#000" stroke-opacity="0.9" stroke-width="0.9"/>
<circle cx="471.6" cy="670.2" r="3.6" fill="#da9688" fill-opacity="0.8" stroke="#000" stroke-opacity="0.9" stroke-width="0.9"/>
<circle cx="471.6" cy="673.6" r="3.6" fill="#da9688" fill-opacity="0.8" stroke="#000" stroke-opacity="0.9" stroke-width="0.9"/>
<circle cx="471.6" cy="682.2" r="3.6" fill="#da9688" fill-opacity="0.8" stroke="#000" stroke-opacity="0.9" stroke-width="0.9"/>
<circle cx="487.7" cy="668.6" r="3.6" fill="#d28e8b" fill-opacity="0.8" stroke="#000" stroke-opacity="0.9" stroke-width="0.9"/>
<circle cx="484.3" cy="673.6" r="3.6" fill="#d4908b" fill-opacity="0.8" stroke="#000" stroke-opacity="0.9" stroke-width="0.9"/>
<circle cx="487.7" cy="679.2" r="3.6" fill="#d28e8b" fill-opacity="0.8" stroke="#000" stroke-opacity="0.9" stroke-width="0.9"/>
<circle cx="487.7" cy="683.8" r="3.6" fill="#d28e8b" fill-opacity="0.8" stroke="#000" stroke-opacity="0.9" stroke-width="0.9"/>
<circle cx="484.7" cy="684.9" r="3.6" fill="#d3908b" fill-opacity="0.8" stroke="#000" stroke-opacity="0.9" stroke-width="0.9"/>
<circle cx="484.7" cy="689.4" r="3.6" fill="#d3908b" fill-opacity="0.8" stroke="#000" stroke-opacity="0.9" stroke-width="0.9"/>
<circle cx="488.1" cy="696.2" r="3.6" fill="#d28e8b" fill-opacity="0.8" stroke="#000" stroke-opacity="0.9" stroke-width="0.9"/>
<circle cx="484.7" cy="697.4" r="3.6" fill="#d3908b" fill-opacity="0.8" stroke="#000" stroke-opacity="0.9" stroke-width="0.9"/>
<circle cx="485.8" cy="691.7" r="3.6" fill="#d38f8b" fill-opacity="0.8" stroke="#000" stroke-opacity="0.9" stroke-width="0.9"/>
<circle cx="511.9" cy="690.6" r="3.6" fill="#c68191" fill-opacity="0.8" stroke="#000" stroke-opacity="0.9" stroke-width="0.9"/>
<circle cx="511.9" cy="694.0" r="3.6" fill="#c68191" fill-opacity="0.8" stroke="#000" stroke-opacity="0.9" stroke-width="0.9"/>
<circle cx="511.9" cy="698.5" r="3.6" fill="#c68191" fill-opacity="0.8" stroke="#000" stroke-opacity="0.9" stroke-width="0.9"/>
<circle cx="522.1" cy="674.7" r="3.6" fill="#c17c94" fill-opacity="0.8" stroke="#000" stroke-opacity="0.9" stroke-width="0.9"/>
<circle cx="522.1" cy="680.4" r="3.6" fill="#c17c94" fill-opacity="0.8" stroke="#000" stroke-opacity="0.9" stroke-width="0.9"/>
<circle cx="522.1" cy="686.0" r="3.6" fill="#c17c94" fill-opacity="0.8" stroke="#000" stroke-opacity="0.9" stroke-width="0.9"/>
<circle cx="522.1" cy="690.6" r="3.6" fill="#c17c94" fill-opacity="0.8" stroke="#000" stroke-opacity="0.9" stroke-width="0.9"/>
<circle cx="522.1" cy="696.2" r="3.6" fill="#c17c94" fill-opacity="0.8" stroke="#000" stroke-opacity="0.9" stroke-width="0.9"/>
<circle cx="532.3" cy="708.7" r="3.6" fill="#bd7796" fill-opacity="0.8" stroke="#000" stroke-opacity="0.9" stroke-width="0.9"/>
<circle cx="545.8" cy="684.9" r="3.6" fill="#b67099" fill-opacity="0.8" stroke="#000" stroke-opacity="0.9" stroke-width="0.9"/>
<circle cx="552.6" cy="679.2" r="3.6" fill="#b36c9b" fill-opacity="0.8" stroke="#000" stroke-opacity="0.9" stroke-width="0.9"/>
<circle cx="552.6" cy="684.9" r="3.6" fill="#b36c9b" fill-opacity="0.8" stroke="#000" stroke-opacity="0.9" stroke-width="0.9"/>
<circle cx="552.6" cy="691.7" r="3.6" fill="#b36c9b" fill-opacity="0.8" stroke="#000" stroke-opacity="0.9" stroke-width="0.9"/>
<circle cx="552.6" cy="698.5" r="3.6" fill="#b36c9b" fill-opacity="0.8" stroke="#000" stroke-opacity="0.9" stroke-width="0.9"/>
<circle cx="552.6" cy="704.2" r="3.6" fill="#b36c9b" fill-opacity="0.8" stroke="#000" stroke-opacity="0.9" stroke-width="0.9"/>
<circle cx="558.3" cy="716.6" r="3.6" fill="#b0699c" fill-opacity="0.8" stroke="#000" stroke-opacity="0.9" stroke-width="0.9"/>
<circle cx="569.8" cy="611.8" r="3.6" fill="#ab639f" fill-opacity="0.8" stroke="#000" stroke-opacity="0.9" stroke-width="0.9"/>
<circle cx="597.9" cy="601.0" r="3.6" fill="#9d55a5" fill-opacity="0.8" stroke="#000" stroke-opacity="0.9" stroke-width="0.9"/>
<circle cx="597.9" cy="609.4" r="3.6" fill="#9d55a5" fill-opacity="0.8" stroke="#000" stroke-opacity="0.9" stroke-width="0.9"/>
<circle cx="597.9" cy="618.1" r="3.6" fill="#9d55a5" fill-opacity="0.8" stroke="#000" stroke-opacity="0.9" stroke-width="0.9"/>
<circle cx="594.0" cy="618.1" r="3.6" fill="#9f57a5" fill-opacity="0.8" stroke="#000" stroke-opacity="0.9" stroke-width="0.9"/>
<circle cx="587.1" cy="629.0" r="3.6" fill="#a25aa3" fill-opacity="0.8" stroke="#000" stroke-opacity="0.9" stroke-width="0.9"/>
<circle cx="587.1" cy="632.4" r="3.6" fill="#a25aa3" fill-opacity="0.8" stroke="#000" stroke-opacity="0.9" stroke-width="0.9"/>
<circle cx="597.9" cy="631.4" r="3.6" fill="#9d55a5" fill-opacity="0.8" stroke="#000" stroke-opacity="0.9" stroke-width="0.9"/>
<circle cx="577.3" cy="643.2" r="3.6" fill="#a75fa1" fill-opacity="0.8" stroke="#000" stroke-opacity="0.9" stroke-width="0.9"/>
<circle cx="587.1" cy="643.6" r="3.6" fill="#a25aa3" fill-opacity="0.8" stroke="#000" stroke-opacity="0.9" stroke-width="0.9"/>
<circle cx="597.9" cy="641.6" r="3.6" fill="#9d55a5" fill-opacity="0.8" stroke="#000" stroke-opacity="0.9" stroke-width="0.9"/>
<circle cx="587.1" cy="654.9" r="3.6" fill="#a25aa3" fill-opacity="0.8" stroke="#000" stroke-opacity="0.9" stroke-width="0.9"/>
<circle cx="593.4" cy="652.6" r="3.6" fill="#9f57a4" fill-opacity="0.8" stroke="#000" stroke-opacity="0.9" stroke-width="0.9"/>
<circle cx="604.4" cy="656.5" r="3.6" fill="#9a51a7" fill-opacity="0.8" stroke="#000" stroke-opacity="0.9" stroke-width="0.9"/>
<circle cx="569.8" cy="661.8" r="3.6" fill="#ab639f" fill-opacity="0.8" stroke="#000" stroke-opacity="0.9" stroke-width="0.9"/>
<circle cx="575.7" cy="667.7" r="3.6" fill="#a860a0" fill-opacity="0.8" stroke="#000" stroke-opacity="0.9" stroke-width="0.9"/>
<circle cx="581.2" cy="666.7" r="3.6" fill="#a55da2" fill-opacity="0.8" stroke="#000" stroke-opacity="0.9" stroke-width="0.9"/>
<circle cx="587.1" cy="666.7" r="3.6" fill="#a25aa3" fill-opacity="0.8" stroke="#000" stroke-opacity="0.9" stroke-width="0.9"/>
<circle cx="598.9" cy="663.8" r="3.6" fill="#9d54a6" fill-opacity="0.8" stroke="#000" stroke-opacity="0.9" stroke-width="0.9"/>
<circle cx="598.9" cy="666.7" r="3.6" fill="#9d54a6" fill-opacity="0.8" stroke="#000" stroke-opacity="0.9" stroke-width="0.9"/>
<circle cx="607.7" cy="669.7" r="3.6" fill="#994fa8" fill-opacity="0.8" stroke="#000" stroke-opacity="0.9" stroke-width="0.9"/>
<circle cx="567.5" cy="674.6" r="3.6" fill="#ac649e" fill-opacity="0.8" stroke="#000" stroke-opacity="0.9" stroke-width="0.9"/>
<circle cx="570.4" cy="673.6" r="3.6" fill="#aa639f" fill-opacity="0.8" stroke="#000" stroke-opacity="0.9" stroke-width="0.9"/>
<circle cx="574.3" cy="678.5" r="3.6" fill="#a861a0" fill-opacity="0.8" stroke="#000" stroke-opacity="0.9" stroke-width="0.9"/>
<circle cx="574.9" cy="686.3" r="3.6" fill="#a861a0" fill-opacity="0.8" stroke="#000" stroke-opacity="0.9" stroke-width="0.9"/>
<circle cx="583.2" cy="680.1" r="3.6" fill="#a45ca2" fill-opacity="0.8" stroke="#000" stroke-opacity="0.9" stroke-width="0.9"/>
<circle cx="587.1" cy="675.5" r="3.6" fill="#a25aa3" fill-opacity="0.8" stroke="#000" stroke-opacity="0.9" stroke-width="0.9"/>
<circle cx="590.0" cy="676.9" r="3.6" fill="#a159a4" fill-opacity="0.8" stroke="#000" stroke-opacity="0.9" stroke-width="0.9"/>
<circle cx="598.9" cy="678.5" r="3.6" fill="#9d54a6" fill-opacity="0.8" stroke="#000" stroke-opacity="0.9" stroke-width="0.9"/>
<circle cx="598.9" cy="682.4" r="3.6" fill="#9d54a6" fill-opacity="0.8" stroke="#000" stroke-opacity="0.9" stroke-width="0.9"/>
<circle cx="600.8" cy="686.3" r="3.6" fill="#9c53a6" fill-opacity="0.8" stroke="#000" stroke-opacity="0.9" stroke-width="0.9"/>
<circle cx="607.7" cy="685.4" r="3.6" fill="#994fa8" fill-opacity="0.8" stroke="#000" stroke-opacity="0.9" stroke-width="0.9"/>
<circle cx="616.5" cy="688.7" r="3.6" fill="#944baa" fill-opacity="0.8" stroke="#000" stroke-opacity="0.9" stroke-width="0.9"/>
<circle cx="629.3" cy="685.4" r="3.6" fill="#8e44ad" fill-opacity="0.8" stroke="#000" stroke-opacity="0.9" stroke-width="0.9"/>
<circle cx="629.3" cy="690.3" r="3.6" fill="#8e44ad" fill-opacity="0.8" stroke="#000" stroke-opacity="0.9" stroke-width="0.9"/>
<circle cx="629.3" cy="694.2" r="3.6" fill="#8e44ad" fill-opacity="0.8" stroke="#000" stroke-opacity="0.9" stroke-width="0.9"/>
<circle cx="569.4" cy="684.4" r="3.6" fill="#ab639f" fill-opacity="0.8" stroke="#000" stroke-opacity="0.9" stroke-width="0.9"/>
<circle cx="572.4" cy="690.3" r="3.6" fill="#a9629f" fill-opacity="0.8" stroke="#000" stroke-opacity="0.9" stroke-width="0.9"/>
<circle cx="579.2" cy="689.3" r="3.6" fill="#a65ea1" fill-opacity="0.8" stroke="#000" stroke-opacity="0.9" stroke-width="0.9"/>
<circle cx="587.1" cy="688.3" r="3.6" fill="#a25aa3" fill-opacity="0.8" stroke="#000" stroke-opacity="0.9" stroke-width="0.9"/>
<circle cx="591.0" cy="692.2" r="3.6" fill="#a058a4" fill-opacity="0.8" stroke="#000" stroke-opacity="0.9" stroke-width="0.9"/>
<circle cx="594.9" cy="690.3" r="3.6" fill="#9f56a5" fill-opacity="0.8" stroke="#000" stroke-opacity="0.9" stroke-width="0.9"/>
<circle cx="598.9" cy="692.2" r="3.6" fill="#9d54a6" fill-opacity="0.8" stroke="#000" stroke-opacity="0.9" stroke-width="0.9"/>
<circle cx="604.8" cy="696.2" r="3.6" fill="#9a51a7" fill-opacity="0.8" stroke="#000" stroke-opacity="0.9" stroke-width="0.9"/>
<circle cx="600.8" cy="700.1" r="3.6" fill="#9c53a6" fill-opacity="0.8" stroke="#000" stroke-opacity="0.9" stroke-width="0.9"/>
<circle cx="569.4" cy="700.1" r="3.6" fill="#ab639f" fill-opacity="0.8" stroke="#000" stroke-opacity="0.9" stroke-width="0.9"/>
<circle cx="574.3" cy="702.0" r="3.6" fill="#a861a0" fill-opacity="0.8" stroke="#000" stroke-opacity="0.9" stroke-width="0.9"/>
<circle cx="580.2" cy="702.0" r="3.6" fill="#a65ea1" fill-opacity="0.8" stroke="#000" stroke-opacity="0.9" stroke-width="0.9"/>
<circle cx="585.1" cy="699.1" r="3.6" fill="#a35ba2" fill-opacity="0.8" stroke="#000" stroke-opacity="0.9" stroke-width="0.9"/>
<circle cx="594.9" cy="702.0" r="3.6" fill="#9f56a5" fill-opacity="0.8" stroke="#000" stroke-opacity="0.9" stroke-width="0.9"/>
<circle cx="608.7" cy="702.0" r="3.6" fill="#984fa8" fill-opacity="0.8" stroke="#000" stroke-opacity="0.9" stroke-width="0.9"/>
<circle cx="602.8" cy="706.0" r="3.6" fill="#9b52a7" fill-opacity="0.8" stroke="#000" stroke-opacity="0.9" stroke-width="0.9"/>
<circle cx="596.9" cy="706.0" r="3.6" fill="#9e55a5" fill-opacity="0.8" stroke="#000" stroke-opacity="0.9" stroke-width="0.9"/>
<circle cx="572.4" cy="709.9" r="3.6" fill="#a9629f" fill-opacity="0.8" stroke="#000" stroke-opacity="0.9" stroke-width="0.9"/>
<circle cx="582.2" cy="706.9" r="3.6" fill="#a55da2" fill-opacity="0.8" stroke="#000" stroke-opacity="0.9" stroke-width="0.9"/>
<circle cx="587.1" cy="709.9" r="3.6" fill="#a25aa3" fill-opacity="0.8" stroke="#000" stroke-opacity="0.9" stroke-width="0.9"/>
<circle cx="611.6" cy="707.9" r="3.6" fill="#974da9" fill-opacity="0.8" stroke="#000" stroke-opacity="0.9" stroke-width="0.9"/>
<circle cx="620.5" cy="707.9" r="3.6" fill="#9249ab" fill-opacity="0.8" stroke="#000" stroke-opacity="0.9" stroke-width="0.9"/>
<circle cx="629.3" cy="708.9" r="3.6" fill="#8e44ad" fill-opacity="0.8" stroke="#000" stroke-opacity="0.9" stroke-width="0.9"/>
<circle cx="581.2" cy="713.8" r="3.6" fill="#a55da2" fill-opacity="0.8" stroke="#000" stroke-opacity="0.9" stroke-width="0.9"/>
<circle cx="586.1" cy="712.8" r="3.6" fill="#a35ba3" fill-opacity="0.8" stroke="#000" stroke-opacity="0.9" stroke-width="0.9"/>
<circle cx="604.8" cy="711.8" r="3.6" fill="#9a51a7" fill-opacity="0.8" stroke="#000" stroke-opacity="0.9" stroke-width="0.9"/>
<circle cx="595.9" cy="716.8" r="3.6" fill="#9e56a5" fill-opacity="0.8" stroke="#000" stroke-opacity="0.9" stroke-width="0.9"/>
<circle cx="582.2" cy="717.7" r="3.6" fill="#a55da2" fill-opacity="0.8" stroke="#000" stroke-opacity="0.9" stroke-width="0.9"/>
<circle cx="602.8" cy="717.7" r="3.6" fill="#9b52a7" fill-opacity="0.8" stroke="#000" stroke-opacity="0.9" stroke-width="0.9"/>
<circle cx="602.8" cy="722.6" r="3.6" fill="#9b52a7" fill-opacity="0.8" stroke="#000" stroke-opacity="0.9" stroke-width="0.9"/>
<circle cx="602.8" cy="727.5" r="3.6" fill="#9b52a7" fill-opacity="0.8" stroke="#000" stroke-opacity="0.9" stroke-width="0.9"/>
<circle cx="569.8" cy="726.6" r="3.6" fill="#ab639f" fill-opacity="0.8" stroke="#000" stroke-opacity="0.9" stroke-width="0.9"/>
<circle cx="582.2" cy="733.4" r="3.6" fill="#a55da2" fill-opacity="0.8" stroke="#000" stroke-opacity="0.9" stroke-width="0.9"/>
<circle cx="614.2" cy="740.3" r="3.6" fill="#954ca9" fill-opacity="0.8" stroke="#000" stroke-opacity="0.9" stroke-width="0.9"/>
<circle cx="582.2" cy="723.6" r="3.6" fill="#a55da2" fill-opacity="0.8" stroke="#000" stroke-opacity="0.9" stroke-width="0.9"/>
<circle cx="575.3" cy="710.9" r="3.6" fill="#a860a0" fill-opacity="0.8" stroke="#000" stroke-opacity="0.9" stroke-width="0.9"/>
<circle cx="591.0" cy="706.9" r="3.6" fill="#a058a4" fill-opacity="0.8" stroke="#000" stroke-opacity="0.9" stroke-width="0.9"/>
<circle cx="593.0" cy="696.2" r="3.6" fill="#a057a4" fill-opacity="0.8" stroke="#000" stroke-opacity="0.9" stroke-width="0.9"/>
<circle cx="575.3" cy="696.2" r="3.6" fill="#a860a0" fill-opacity="0.8" stroke="#000" stroke-opacity="0.9" stroke-width="0.9"/>
<circle cx="579.2" cy="696.2" r="3.6" fill="#a65ea1" fill-opacity="0.8" stroke="#000" stroke-opacity="0.9" stroke-width="0.9"/>
<circle cx="575.9" cy="682.0" r="3.6" fill="#a860a0" fill-opacity="0.8" stroke="#000" stroke-opacity="0.9" stroke-width="0.9"/>
<circle cx="575.6" cy="690.8" r="3.6" fill="#a860a0" fill-opacity="0.8" stroke="#000" stroke-opacity="0.9" stroke-width="0.9"/>
<circle cx="573.9" cy="694.4" r="3.6" fill="#a961a0" fill-opacity="0.8" stroke="#000" stroke-opacity="0.9" stroke-width="0.9"/>
<circle cx="576.1" cy="698.9" r="3.6" fill="#a860a0" fill-opacity="0.8" stroke="#000" stroke-opacity="0.9" stroke-width="0.9"/>
<circle cx="575.9" cy="702.8" r="3.6" fill="#a860a0" fill-opacity="0.8" stroke="#000" stroke-opacity="0.9" stroke-width="0.9"/>
<circle cx="574.9" cy="707.6" r="3.6" fill="#a861a0" fill-opacity="0.8" stroke="#000" stroke-opacity="0.9" stroke-width="0.9"/>
<circle cx="574.3" cy="712.0" r="3.6" fill="#a861a0" fill-opacity="0.8" stroke="#000" stroke-opacity="0.9" stroke-width="0.9"/>
<circle cx="602.4" cy="678.4" r="3.6" fill="#9b52a7" fill-opacity="0.8" stroke="#000" stroke-opacity="0.9" stroke-width="0.9"/>
<circle cx="600.2" cy="680.9" r="3.6" fill="#9c53a6" fill-opacity="0.8" stroke="#000" stroke-opacity="0.9" stroke-width="0.9"/>
<circle cx="602.1" cy="684.6" r="3.6" fill="#9b52a6" fill-opacity="0.8" stroke="#000" stroke-opacity="0.9" stroke-width="0.9"/>
<circle cx="601.7" cy="687.4" r="3.6" fill="#9b53a6" fill-opacity="0.8" stroke="#000" stroke-opacity="0.9" stroke-width="0.9"/>
<circle cx="601.6" cy="690.9" r="3.6" fill="#9b53a6" fill-opacity="0.8" stroke="#000" stroke-opacity="0.9" stroke-width="0.9"/>
<circle cx="601.5" cy="693.7" r="3.6" fill="#9b53a6" fill-opacity="0.8" stroke="#000" stroke-opacity="0.9" stroke-width="0.9"/>
<circle cx="601.1" cy="697.1" r="3.6" fill="#9c53a6" fill-opacity="0.8" stroke="#000" stroke-opacity="0.9" stroke-width="0.9"/>
<circle cx="601.8" cy="700.8" r="3.6" fill="#9b52a6" fill-opacity="0.8" stroke="#000" stroke-opacity="0.9" stroke-width="0.9"/>
<circle cx="602.4" cy="703.6" r="3.6" fill="#9b52a7" fill-opacity="0.8" stroke="#000" stroke-opacity="0.9" stroke-width="0.9"/>
<circle cx="601.2" cy="706.6" r="3.6" fill="#9c53a6" fill-opacity="0.8" stroke="#000" stroke-opacity="0.9" stroke-width="0.9"/>
<circle cx="600.2" cy="709.6" r="3.6" fill="#9c53a6" fill-opacity="0.8" stroke="#000" stroke-opacity="0.9" stroke-width="0.9"/>
<circle cx="601.2" cy="713.1" r="3.6" fill="#9c53a6" fill-opacity="0.8" stroke="#000" stroke-opacity="0.9" stroke-width="0.9"/>
<circle cx="601.0" cy="716.7" r="3.6" fill="#9c53a6" fill-opacity="0.8" stroke="#000" stroke-opacity="0.9" stroke-width="0.9"/>
<circle cx="601.4" cy="719.6" r="3.6" fill="#9c53a6" fill-opacity="0.8" stroke="#000" stroke-opacity="0.9" stroke-width="0.9"/>
<circle cx="600.7" cy="722.4" r="3.6" fill="#9c53a6" fill-opacity="0.8" stroke="#000" stroke-opacity="0.9" stroke-width="0.9"/>
<circle cx="600.9" cy="725.7" r="3.6" fill="#9c53a6" fill-opacity="0.8" stroke="#000" stroke-opacity="0.9" stroke-width="0.9"/>
<circle cx="601.3" cy="729.6" r="3.6" fill="#9c53a6" fill-opacity="0.8" stroke="#000" stroke-opacity="0.9" stroke-width="0.9"/>
<circle cx="582.6" cy="700.0" r="3.6" fill="#a55da2" fill-opacity="0.8" stroke="#000" stroke-opacity="0.9" stroke-width="0.9"/>
<circle cx="582.9" cy="704.1" r="3.6" fill="#a45ca2" fill-opacity="0.8" stroke="#000" stroke-opacity="0.9" stroke-width="0.9"/>
<circle cx="583.5" cy="707.7" r="3.6" fill="#a45ca2" fill-opacity="0.8" stroke="#000" stroke-opacity="0.9" stroke-width="0.9"/>
<circle cx="582.0" cy="712.3" r="3.6" fill="#a55da2" fill-opacity="0.8" stroke="#000" stroke-opacity="0.9" stroke-width="0.9"/>
<circle cx="582.6" cy="715.8" r="3.6" fill="#a55da2" fill-opacity="0.8" stroke="#000" stroke-opacity="0.9" stroke-width="0.9"/>
<circle cx="584.4" cy="720.0" r="3.6" fill="#a45ca2" fill-opacity="0.8" stroke="#000" stroke-opacity="0.9" stroke-width="0.9"/>
<circle cx="584.0" cy="724.0" r="3.6" fill="#a45ca2" fill-opacity="0.8" stroke="#000" stroke-opacity="0.9" stroke-width="0.9"/>
<circle cx="589.4" cy="678.7" r="3.6" fill="#a159a3" fill-opacity="0.8" stroke="#000" stroke-opacity="0.9" stroke-width="0.9"/>
<circle cx="589.9" cy="683.7" r="3.6" fill="#a159a4" fill-opacity="0.8" stroke="#000" stroke-opacity="0.9" stroke-width="0.9"/>
<circle cx="588.9" cy="688.9" r="3.6" fill="#a159a3" fill-opacity="0.8" stroke="#000" stroke-opacity="0.9" stroke-width="0.9"/>
<circle cx="591.5" cy="694.2" r="3.6" fill="#a058a4" fill-opacity="0.8" stroke="#000" stroke-opacity="0.9" stroke-width="0.9"/>
<circle cx="591.0" cy="698.8" r="3.6" fill="#a058a4" fill-opacity="0.8" stroke="#000" stroke-opacity="0.9" stroke-width="0.9"/>
<circle cx="606.5" cy="689.8" r="3.6" fill="#9950a8" fill-opacity="0.8" stroke="#000" stroke-opacity="0.9" stroke-width="0.9"/>
<circle cx="605.0" cy="695.1" r="3.6" fill="#9a51a7" fill-opacity="0.8" stroke="#000" stroke-opacity="0.9" stroke-width="0.9"/>
<circle cx="606.4" cy="700.2" r="3.6" fill="#9950a7" fill-opacity="0.8" stroke="#000" stroke-opacity="0.9" stroke-width="0.9"/>
<circle cx="606.1" cy="705.2" r="3.6" fill="#9950a7" fill-opacity="0.8" stroke="#000" stroke-opacity="0.9" stroke-width="0.9"/>
<circle cx="605.8" cy="710.2" r="3.6" fill="#9950a7" fill-opacity="0.8" stroke="#000" stroke-opacity="0.9" stroke-width="0.9"/>
<circle cx="429.7" cy="518.4" r="3.6" fill="#eeac7e" fill-opacity="0.8" stroke="#000" stroke-opacity="0.9" stroke-width="0.9"/>
<circle cx="429.4" cy="520.2" r="3.6" fill="#eeac7e" fill-opacity="0.8" stroke="#000" stroke-opacity="0.9" stroke-width="0.9"/>
<circle cx="429.3" cy="521.8" r="3.6" fill="#eeac7e" fill-opacity="0.8" stroke="#000" stroke-opacity="0.9" stroke-width="0.9"/>
<circle cx="432.0" cy="523.8" r="3.6" fill="#edab7e" fill-opacity="0.8" stroke="#000" stroke-opacity="0.9" stroke-width="0.9"/>
<circle cx="430.9" cy="526.0" r="3.6" fill="#edac7e" fill-opacity="0.8" stroke="#000" stroke-opacity="0.9" stroke-width="0.9"/>
<circle cx="429.6" cy="530.3" r="3.6" fill="#eeac7e" fill-opacity="0.8" stroke="#000" stroke-opacity="0.9" stroke-width="0.9"/>
<circle cx="429.3" cy="531.8" r="3.6" fill="#eeac7e" fill-opacity="0.8" stroke="#000" stroke-opacity="0.9" stroke-width="0.9"/>
<circle cx="429.1" cy="533.8" r="3.6" fill="#eead7d" fill-opacity="0.8" stroke="#000" stroke-opacity="0.9" stroke-width="0.9"/>
<circle cx="430.2" cy="536.3" r="3.6" fill="#edac7e" fill-opacity="0.8" stroke="#000" stroke-opacity="0.9" stroke-width="0.9"/>
<circle cx="430.1" cy="537.7" r="3.6" fill="#edac7e" fill-opacity="0.8" stroke="#000" stroke-opacity="0.9" stroke-width="0.9"/>
<circle cx="429.8" cy="540.4" r="3.6" fill="#eeac7e" fill-opacity="0.8" stroke="#000" stroke-opacity="0.9" stroke-width="0.9"/>
<circle cx="429.2" cy="542.1" r="3.6" fill="#eeac7e" fill-opacity="0.8" stroke="#000" stroke-opacity="0.9" stroke-width="0.9"/>
<circle cx="430.1" cy="544.1" r="3.6" fill="#edac7e" fill-opacity="0.8" stroke="#000" stroke-opacity="0.9" stroke-width="0.9"/>
<circle cx="430.0" cy="546.2" r="3.6" fill="#eeac7e" fill-opacity="0.8" stroke="#000" stroke-opacity="0.9" stroke-width="0.9"/>
<circle cx="431.7" cy="550.1" r="3.6" fill="#edab7e" fill-opacity="0.8" stroke="#000" stroke-opacity="0.9" stroke-width="0.9"/>
<circle cx="429.4" cy="551.7" r="3.6" fill="#eeac7e" fill-opacity="0.8" stroke="#000" stroke-opacity="0.9" stroke-width="0.9"/>
<circle cx="429.6" cy="556.4" r="3.6" fill="#eeac7e" fill-opacity="0.8" stroke="#000" stroke-opacity="0.9" stroke-width="0.9"/>
<circle cx="430.7" cy="558.2" r="3.6" fill="#edac7e" fill-opacity="0.8" stroke="#000" stroke-opacity="0.9" stroke-width="0.9"/>
<circle cx="431.6" cy="559.8" r="3.6" fill="#edab7e" fill-opacity="0.8" stroke="#000" stroke-opacity="0.9" stroke-width="0.9"/>
<circle cx="430.1" cy="562.3" r="3.6" fill="#eeac7e" fill-opacity="0.8" stroke="#000" stroke-opacity="0.9" stroke-width="0.9"/>
<circle cx="429.4" cy="564.2" r="3.6" fill="#eeac7e" fill-opacity="0.8" stroke="#000" stroke-opacity="0.9" stroke-width="0.9"/>
<circle cx="429.3" cy="566.2" r="3.6" fill="#eeac7e" fill-opacity="0.8" stroke="#000" stroke-opacity="0.9" stroke-width="0.9"/>
<circle cx="431.1" cy="568.4" r="3.6" fill="#edab7e" fill-opacity="0.8" stroke="#000" stroke-opacity="0.9" stroke-width="0.9"/>
<circle cx="431.5" cy="570.0" r="3.6" fill="#edab7e" fill-opacity="0.8" stroke="#000" stroke-opacity="0.9" stroke-width="0.9"/>
<circle cx="429.6" cy="571.7" r="3.6" fill="#eeac7e" fill-opacity="0.8" stroke="#000" stroke-opacity="0.9" stroke-width="0.9"/>
<circle cx="421.3" cy="513.9" r="3.6" fill="#f2b17c" fill-opacity="0.8" stroke="#000" stroke-opacity="0.9" stroke-width="0.9"/>
<circle cx="419.7" cy="516.8" r="3.6" fill="#f2b17b" fill-opacity="0.8" stroke="#000" stroke-opacity="0.9" stroke-width="0.9"/>
<circle cx="419.0" cy="519.0" r="3.6" fill="#f3b27b" fill-opacity="0.8" stroke="#000" stroke-opacity="0.9" stroke-width="0.9"/>
<circle cx="423.5" cy="521.2" r="3.6" fill="#f1af7c" fill-opacity="0.8" stroke="#000" stroke-opacity="0.9" stroke-width="0.9"/>
<circle cx="422.5" cy="529.0" r="3.6" fill="#f1b07c" fill-opacity="0.8" stroke="#000" stroke-opacity="0.9" stroke-width="0.9"/>
<circle cx="422.6" cy="531.2" r="3.6" fill="#f1b07c" fill-opacity="0.8" stroke="#000" stroke-opacity="0.9" stroke-width="0.9"/>
<circle cx="420.2" cy="533.7" r="3.6" fill="#f2b17b" fill-opacity="0.8" stroke="#000" stroke-opacity="0.9" stroke-width="0.9"/>
<circle cx="421.5" cy="536.8" r="3.6" fill="#f2b07c" fill-opacity="0.8" stroke="#000" stroke-opacity="0.9" stroke-width="0.9"/>
<circle cx="422.0" cy="539.2" r="3.6" fill="#f1b07c" fill-opacity="0.8" stroke="#000" stroke-opacity="0.9" stroke-width="0.9"/>
</g>
<path d="M418.6 495.2 C420.2 498.5 424.9 508.3 428.0 515.0 C431.1 521.7 434.0 527.9 437.4 535.4 C440.8 542.9 443.4 550.9 448.3 560.0 C453.2 569.1 460.5 579.3 466.6 589.8 C472.7 600.2 478.3 613.2 484.7 622.7 C491.1 632.2 498.1 639.1 505.1 646.5 C512.1 653.9 519.8 660.8 526.6 666.8 C533.4 672.8 540.3 678.9 545.9 682.7 C551.5 686.5 555.1 687.8 560.0 689.5 C564.9 691.2 570.0 692.3 575.0 693.0 C580.0 693.7 585.0 694.0 590.0 693.5 C595.0 693.0 600.3 691.7 605.0 690.0 C609.7 688.3 614.2 685.7 618.0 683.5 C621.8 681.3 626.3 678.1 628.0 677.0" fill="none" stroke="#ff2a2a" stroke-width="1.1"/>
<rect x="408.4" y="411.6" width="231.3" height="344.6" fill="none" stroke="#111" stroke-width="1.3"/>
<line x1="418.6" y1="756.2" x2="418.6" y2="759.2" stroke="#111" stroke-width="0.8"/>
<text x="418.6" y="772.7" font-size="15" text-anchor="middle" fill="#000">0</text>
<line x1="526.55" y1="756.2" x2="526.55" y2="759.2" stroke="#111" stroke-width="0.8"/>
<text x="526.55" y="772.7" font-size="15" text-anchor="middle" fill="#000">1</text>
<line x1="634.5" y1="756.2" x2="634.5" y2="759.2" stroke="#111" stroke-width="0.8"/>
<text x="634.5" y="772.7" font-size="15" text-anchor="middle" fill="#000">2</text>
<line x1="405.4" y1="738.99" x2="408.4" y2="738.99" stroke="#111" stroke-width="0.8"/>
<text x="401.9" y="744.49" font-size="15" text-anchor="end" fill="#000">&#8722;0.02</text>
<line x1="405.4" y1="698.8" x2="408.4" y2="698.8" stroke="#111" stroke-width="0.8"/>
<text x="401.9" y="704.3" font-size="15" text-anchor="end" fill="#000">0.00</text>
<line x1="405.4" y1="658.61" x2="408.4" y2="658.61" stroke="#111" stroke-width="0.8"/>
<text x="401.9" y="664.11" font-size="15" text-anchor="end" fill="#000">0.02</text>
<line x1="405.4" y1="618.43" x2="408.4" y2="618.43" stroke="#111" stroke-width="0.8"/>
<text x="401.9" y="623.93" font-size="15" text-anchor="end" fill="#000">0.04</text>
<line x1="405.4" y1="578.24" x2="408.4" y2="578.24" stroke="#111" stroke-width="0.8"/>
<text x="401.9" y="583.74" font-size="15" text-anchor="end" fill="#000">0.06</text>
<line x1="405.4" y1="538.06" x2="408.4" y2="538.06" stroke="#111" stroke-width="0.8"/>
<text x="401.9" y="543.56" font-size="15" text-anchor="end" fill="#000">0.08</text>
<line x1="405.4" y1="497.87" x2="408.4" y2="497.87" stroke="#111" stroke-width="0.8"/>
<text x="401.9" y="503.37" font-size="15" text-anchor="end" fill="#000">0.10</text>
<line x1="405.4" y1="457.68" x2="408.4" y2="457.68" stroke="#111" stroke-width="0.8"/>
<text x="401.9" y="463.18" font-size="15" text-anchor="end" fill="#000">0.12</text>
<line x1="405.4" y1="417.5" x2="408.4" y2="417.5" stroke="#111" stroke-width="0.8"/>
<text x="401.9" y="423" font-size="15" text-anchor="end" fill="#000">0.14</text>
<text x="524.05" y="406.6" font-size="15.6" text-anchor="middle" fill="#000">SHAP Dependence Plot for TanSat SIF</text>
<text x="524.05" y="791" font-size="15.5" text-anchor="middle" fill="#000">TanSat SIF(Feature value)</text>
<text x="359.7" y="584" font-size="15.5" text-anchor="middle" fill="#000" transform="rotate(-90 359.7 584)">SHAP value for TanSat SIF</text>
<text x="623.2" y="752.5" font-size="15" text-anchor="middle" fill="#000" font-weight="bold">(d)</text>
<defs><linearGradient id="cgd" x1="0" y1="1" x2="0" y2="0">
<stop offset="0.0" stop-color="#f3b27b"/>
<stop offset="1.0" stop-color="#8e44ad"/>
</linearGradient></defs>
<rect x="644.5" y="411.6" width="4.4" height="344.6" fill="url(#cgd)" fill-opacity="0.8"/>
<rect x="644.5" y="411.6" width="4.4" height="344.6" fill="none" stroke="#333" stroke-width="0.8"/>
<line x1="648.9" y1="712.2" x2="651.7" y2="712.2" stroke="#333" stroke-width="0.8"/>
<text x="654.9" y="717.7" font-size="15" text-anchor="start" fill="#000">0.25</text>
<line x1="648.9" y1="667.96" x2="651.7" y2="667.96" stroke="#333" stroke-width="0.8"/>
<text x="654.9" y="673.46" font-size="15" text-anchor="start" fill="#000">0.50</text>
<line x1="648.9" y1="623.72" x2="651.7" y2="623.72" stroke="#333" stroke-width="0.8"/>
<text x="654.9" y="629.22" font-size="15" text-anchor="start" fill="#000">0.75</text>
<line x1="648.9" y1="579.48" x2="651.7" y2="579.48" stroke="#333" stroke-width="0.8"/>
<text x="654.9" y="584.98" font-size="15" text-anchor="start" fill="#000">1.00</text>
<line x1="648.9" y1="535.23" x2="651.7" y2="535.23" stroke="#333" stroke-width="0.8"/>
<text x="654.9" y="540.73" font-size="15" text-anchor="start" fill="#000">1.25</text>
<line x1="648.9" y1="490.99" x2="651.7" y2="490.99" stroke="#333" stroke-width="0.8"/>
<text x="654.9" y="496.49" font-size="15" text-anchor="start" fill="#000">1.50</text>
<line x1="648.9" y1="446.75" x2="651.7" y2="446.75" stroke="#333" stroke-width="0.8"/>
<text x="654.9" y="452.25" font-size="15" text-anchor="start" fill="#000">1.75</text>
</svg></body></html>
